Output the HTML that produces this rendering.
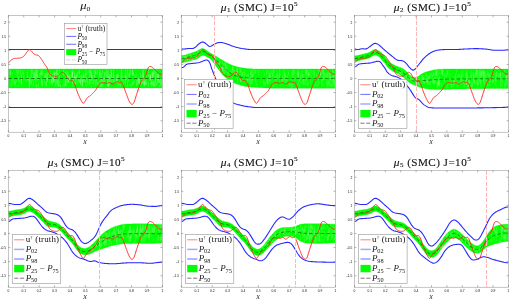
<!DOCTYPE html>
<html><head><meta charset="utf-8"><title>fig</title>
<style>
html,body{margin:0;padding:0;background:#fff;}
body{width:510px;height:301px;overflow:hidden;font-family:"Liberation Serif",serif;}
svg{display:block;will-change:transform;}
text{font-family:"Liberation Serif",serif;fill:#111;}
.tk{font-family:"Liberation Sans",sans-serif;font-size:3.3px;fill:#111;}
</style></head><body>
<svg width="510" height="301" viewBox="0 0 510 301">
<rect width="510" height="301" fill="#fff"/>

<clipPath id="cp0"><rect x="8.34" y="15.46" width="154.0" height="116.73999999999998"/></clipPath>
<g clip-path="url(#cp0)">
<path d="M8.34,69.01 L9.11,69.01 L9.88,69.01 L10.65,69.01 L11.42,69.01 L12.19,69.01 L12.96,69.01 L13.73,69.01 L14.50,69.01 L15.27,69.01 L16.04,69.01 L16.81,69.01 L17.58,69.01 L18.35,69.01 L19.12,69.01 L19.89,69.01 L20.66,69.01 L21.43,69.01 L22.20,69.01 L22.97,69.01 L23.74,69.01 L24.51,69.01 L25.28,69.01 L26.05,69.01 L26.82,69.01 L27.59,69.01 L28.36,69.01 L29.13,69.01 L29.90,69.01 L30.67,69.01 L31.44,69.01 L32.21,69.01 L32.98,69.01 L33.75,69.01 L34.52,69.01 L35.29,69.01 L36.06,69.01 L36.83,69.01 L37.60,69.01 L38.37,69.01 L39.14,69.01 L39.91,69.01 L40.68,69.01 L41.45,69.01 L42.22,69.01 L42.99,69.01 L43.76,69.01 L44.53,69.01 L45.30,69.01 L46.07,69.01 L46.84,69.01 L47.61,69.01 L48.38,69.01 L49.15,69.01 L49.92,69.01 L50.69,69.01 L51.46,69.01 L52.23,69.01 L53.00,69.01 L53.77,69.01 L54.54,69.01 L55.31,69.01 L56.08,69.01 L56.85,69.01 L57.62,69.01 L58.39,69.01 L59.16,69.01 L59.93,69.01 L60.70,69.01 L61.47,69.01 L62.24,69.01 L63.01,69.01 L63.78,69.01 L64.55,69.01 L65.32,69.01 L66.09,69.01 L66.86,69.01 L67.63,69.01 L68.40,69.01 L69.17,69.01 L69.94,69.01 L70.71,69.01 L71.48,69.01 L72.25,69.01 L73.02,69.01 L73.79,69.01 L74.56,69.01 L75.33,69.01 L76.10,69.01 L76.87,69.01 L77.64,69.01 L78.41,69.01 L79.18,69.01 L79.95,69.01 L80.72,69.01 L81.49,69.01 L82.26,69.01 L83.03,69.01 L83.80,69.01 L84.57,69.01 L85.34,69.01 L86.11,69.01 L86.88,69.01 L87.65,69.01 L88.42,69.01 L89.19,69.01 L89.96,69.01 L90.73,69.01 L91.50,69.01 L92.27,69.01 L93.04,69.01 L93.81,69.01 L94.58,69.01 L95.35,69.01 L96.12,69.01 L96.89,69.01 L97.66,69.01 L98.43,69.01 L99.20,69.01 L99.97,69.01 L100.74,69.01 L101.51,69.01 L102.28,69.01 L103.05,69.01 L103.82,69.01 L104.59,69.01 L105.36,69.01 L106.13,69.01 L106.90,69.01 L107.67,69.01 L108.44,69.01 L109.21,69.01 L109.98,69.01 L110.75,69.01 L111.52,69.01 L112.29,69.01 L113.06,69.01 L113.83,69.01 L114.60,69.01 L115.37,69.01 L116.14,69.01 L116.91,69.01 L117.68,69.01 L118.45,69.01 L119.22,69.01 L119.99,69.01 L120.76,69.01 L121.53,69.01 L122.30,69.01 L123.07,69.01 L123.84,69.01 L124.61,69.01 L125.38,69.01 L126.15,69.01 L126.92,69.01 L127.69,69.01 L128.46,69.01 L129.23,69.01 L130.00,69.01 L130.77,69.01 L131.54,69.01 L132.31,69.01 L133.08,69.01 L133.85,69.01 L134.62,69.01 L135.39,69.01 L136.16,69.01 L136.93,69.01 L137.70,69.01 L138.47,69.01 L139.24,69.01 L140.01,69.01 L140.78,69.01 L141.55,69.01 L142.32,69.01 L143.09,69.01 L143.86,69.01 L144.63,69.01 L145.40,69.01 L146.17,69.01 L146.94,69.01 L147.71,69.01 L148.48,69.01 L149.25,69.01 L150.02,69.01 L150.79,69.01 L151.56,69.01 L152.33,69.01 L153.10,69.01 L153.87,69.01 L154.64,69.01 L155.41,69.01 L156.18,69.01 L156.95,69.01 L157.72,69.01 L158.49,69.01 L159.26,69.01 L160.03,69.01 L160.80,69.01 L161.57,69.01 L162.34,69.01 L162.34,87.99 L161.57,87.99 L160.80,87.99 L160.03,87.99 L159.26,87.99 L158.49,87.99 L157.72,87.99 L156.95,87.99 L156.18,87.99 L155.41,87.99 L154.64,87.99 L153.87,87.99 L153.10,87.99 L152.33,87.99 L151.56,87.99 L150.79,87.99 L150.02,87.99 L149.25,87.99 L148.48,87.99 L147.71,87.99 L146.94,87.99 L146.17,87.99 L145.40,87.99 L144.63,87.99 L143.86,87.99 L143.09,87.99 L142.32,87.99 L141.55,87.99 L140.78,87.99 L140.01,87.99 L139.24,87.99 L138.47,87.99 L137.70,87.99 L136.93,87.99 L136.16,87.99 L135.39,87.99 L134.62,87.99 L133.85,87.99 L133.08,87.99 L132.31,87.99 L131.54,87.99 L130.77,87.99 L130.00,87.99 L129.23,87.99 L128.46,87.99 L127.69,87.99 L126.92,87.99 L126.15,87.99 L125.38,87.99 L124.61,87.99 L123.84,87.99 L123.07,87.99 L122.30,87.99 L121.53,87.99 L120.76,87.99 L119.99,87.99 L119.22,87.99 L118.45,87.99 L117.68,87.99 L116.91,87.99 L116.14,87.99 L115.37,87.99 L114.60,87.99 L113.83,87.99 L113.06,87.99 L112.29,87.99 L111.52,87.99 L110.75,87.99 L109.98,87.99 L109.21,87.99 L108.44,87.99 L107.67,87.99 L106.90,87.99 L106.13,87.99 L105.36,87.99 L104.59,87.99 L103.82,87.99 L103.05,87.99 L102.28,87.99 L101.51,87.99 L100.74,87.99 L99.97,87.99 L99.20,87.99 L98.43,87.99 L97.66,87.99 L96.89,87.99 L96.12,87.99 L95.35,87.99 L94.58,87.99 L93.81,87.99 L93.04,87.99 L92.27,87.99 L91.50,87.99 L90.73,87.99 L89.96,87.99 L89.19,87.99 L88.42,87.99 L87.65,87.99 L86.88,87.99 L86.11,87.99 L85.34,87.99 L84.57,87.99 L83.80,87.99 L83.03,87.99 L82.26,87.99 L81.49,87.99 L80.72,87.99 L79.95,87.99 L79.18,87.99 L78.41,87.99 L77.64,87.99 L76.87,87.99 L76.10,87.99 L75.33,87.99 L74.56,87.99 L73.79,87.99 L73.02,87.99 L72.25,87.99 L71.48,87.99 L70.71,87.99 L69.94,87.99 L69.17,87.99 L68.40,87.99 L67.63,87.99 L66.86,87.99 L66.09,87.99 L65.32,87.99 L64.55,87.99 L63.78,87.99 L63.01,87.99 L62.24,87.99 L61.47,87.99 L60.70,87.99 L59.93,87.99 L59.16,87.99 L58.39,87.99 L57.62,87.99 L56.85,87.99 L56.08,87.99 L55.31,87.99 L54.54,87.99 L53.77,87.99 L53.00,87.99 L52.23,87.99 L51.46,87.99 L50.69,87.99 L49.92,87.99 L49.15,87.99 L48.38,87.99 L47.61,87.99 L46.84,87.99 L46.07,87.99 L45.30,87.99 L44.53,87.99 L43.76,87.99 L42.99,87.99 L42.22,87.99 L41.45,87.99 L40.68,87.99 L39.91,87.99 L39.14,87.99 L38.37,87.99 L37.60,87.99 L36.83,87.99 L36.06,87.99 L35.29,87.99 L34.52,87.99 L33.75,87.99 L32.98,87.99 L32.21,87.99 L31.44,87.99 L30.67,87.99 L29.90,87.99 L29.13,87.99 L28.36,87.99 L27.59,87.99 L26.82,87.99 L26.05,87.99 L25.28,87.99 L24.51,87.99 L23.74,87.99 L22.97,87.99 L22.20,87.99 L21.43,87.99 L20.66,87.99 L19.89,87.99 L19.12,87.99 L18.35,87.99 L17.58,87.99 L16.81,87.99 L16.04,87.99 L15.27,87.99 L14.50,87.99 L13.73,87.99 L12.96,87.99 L12.19,87.99 L11.42,87.99 L10.65,87.99 L9.88,87.99 L9.11,87.99 L8.34,87.99 Z" fill="#00ff00" stroke="#00ee00" stroke-width="0.3"/>
<path d="M21.53,83.96V78.34 M97.99,86.04V82.31 M82.11,85.08V79.80 M25.85,81.70V77.54 M74.66,78.84V73.55 M155.61,83.27V78.43 M115.56,83.14V81.62 M158.25,83.06V79.93 M145.66,78.87V74.94 M127.42,86.97V81.83 M65.97,86.09V81.19 M151.79,84.39V79.64 M54.26,76.58V71.36 M42.02,75.29V70.41 M113.49,75.44V71.72 M125.18,74.58V72.54 M139.20,81.66V77.69 M30.88,77.21V74.20 M142.50,83.39V79.00 M69.89,78.46V75.94 M36.10,76.51V71.13 M95.65,73.96V71.39 M139.38,84.95V78.49 M104.39,78.55V72.06 M129.54,75.88V74.08 M65.21,86.18V83.67 M41.28,74.87V72.71 M54.04,80.22V74.35 M156.99,77.07V74.46 M92.27,77.10V75.32 M113.04,82.04V77.50 M111.45,77.64V73.44 M93.77,84.52V80.47 M27.65,80.39V76.13 M127.55,81.67V80.05 M89.61,84.42V79.10 M68.20,81.86V75.68 M68.86,82.32V79.02 M82.38,86.05V81.74 M150.24,79.19V73.86 M154.20,75.11V69.79 M133.57,75.44V72.62 M82.56,82.41V79.55 M96.36,82.77V78.09 M98.03,85.89V82.11 M68.38,77.09V75.12 M34.36,79.93V76.34 M110.80,82.55V80.03 M151.84,83.85V81.58 M51.44,82.45V79.78 M90.93,73.73V71.57 M72.28,77.66V71.61 M162.31,85.32V81.05 M144.04,86.64V82.11 M35.12,76.20V69.88 M91.24,87.29V85.44 M72.36,75.04V72.31 M111.39,81.50V78.62 M116.74,82.91V79.49 M126.20,80.18V74.65 M87.85,85.08V81.29 M142.75,79.16V72.70 M8.52,82.44V76.99 M114.01,79.22V74.30 M143.31,77.43V73.11 M94.96,77.68V74.50 M111.43,78.43V72.89 M82.29,87.02V82.75 M140.42,78.07V73.25 M68.55,82.21V77.01 M20.32,74.76V69.58 M156.56,85.44V83.33 M146.02,81.56V78.65 M67.20,77.78V75.44 M83.36,77.77V72.56 M10.23,75.57V71.83 M75.45,79.20V76.25 M144.90,84.32V80.02 M34.22,78.42V72.28 M144.27,85.45V80.73 M145.79,84.49V80.85 M118.17,76.63V72.81 M106.69,77.64V74.32 M108.76,78.98V73.89 M87.13,82.50V78.76 M150.40,84.68V82.40 M10.21,74.97V69.58 M44.76,83.53V81.00 M100.77,80.33V74.61 M40.63,74.59V70.70 M132.75,75.70V69.58 M85.16,78.51V74.12 M37.65,80.09V73.83 M148.31,87.10V82.19 M58.66,85.43V83.20 M130.76,73.40V69.58 M67.40,79.97V74.20 M123.34,86.48V83.87 M141.97,80.21V75.33 M128.08,78.12V72.84 M92.37,84.07V81.59 M161.34,87.26V82.21 M143.96,84.04V82.27 M69.82,82.60V78.71 M74.16,73.66V71.53 M153.72,86.75V80.42 M59.62,76.80V75.26 M77.22,77.52V72.78 M132.52,85.18V81.60 M102.85,87.00V81.20 M72.44,83.82V81.16 M108.58,86.72V83.95 M55.14,83.64V78.38 M99.58,74.21V69.58 M53.69,82.68V80.53 M45.69,78.58V73.32 M53.91,82.39V76.76 M155.95,86.18V84.30 M125.26,80.18V76.48 M105.91,76.31V74.43 M156.46,73.42V69.77 M80.65,83.44V78.91 M39.93,79.61V73.46 M86.29,75.33V72.90 M144.40,85.62V83.01 M119.26,83.01V80.88 M21.71,75.83V74.21 M17.02,73.60V69.58 M65.39,84.61V78.65 M129.64,77.65V73.42 M89.23,73.13V69.58 M21.28,86.32V81.76 M121.17,78.24V72.92 M53.65,82.00V79.12 M65.72,83.52V77.73 M31.11,84.38V79.20 M69.62,82.43V75.92 M145.99,84.22V81.91 M84.16,79.03V75.74 M99.42,77.51V71.82 M45.63,77.99V76.18 M18.32,86.61V84.49 M128.73,82.00V77.96 M77.78,84.39V82.64 M36.34,74.88V71.63 M73.10,83.55V78.24 M116.50,81.81V77.70 M69.30,79.04V74.48 M97.27,74.25V69.58 M16.26,81.87V80.14 M66.04,75.69V70.69 M95.71,86.16V80.48 M102.66,83.00V77.46 M14.36,84.68V79.12 M15.41,85.49V81.40 M117.70,78.81V77.10 M50.66,77.10V73.80 M38.25,87.38V84.52 M151.68,86.69V82.34 M148.43,77.18V74.22 M108.22,85.67V81.60 M48.88,74.62V69.58 M125.66,81.93V76.33 M159.24,82.02V77.81 M33.36,85.83V80.63 M17.62,78.63V76.53 M111.37,76.41V70.07 M68.39,81.73V78.16 M117.03,75.91V73.80 M58.35,86.61V83.89 M121.34,73.73V69.58 M18.84,81.55V75.56 M86.08,82.31V76.79 M141.45,85.29V81.12 M31.01,84.78V80.55 M47.27,75.66V72.27 M36.26,78.22V75.36 M18.56,72.82V70.36 M28.56,80.40V78.86 M129.90,86.32V84.60 M157.11,79.87V73.59 M146.49,76.69V75.02 M107.48,86.47V84.89 M138.38,82.94V77.59 M89.93,75.96V71.17 M158.15,80.48V74.59 M134.90,78.85V74.73 M74.59,77.98V75.46 M75.98,77.96V74.87 M41.71,85.86V80.22 M143.20,75.23V70.10 M101.45,86.57V80.54 M81.26,77.39V75.25 M123.19,85.27V78.84 M117.78,79.67V74.80 M43.73,80.13V78.17 M51.39,83.25V80.88 M72.42,86.49V84.84 M59.57,72.93V69.58 M74.21,84.50V82.36 M72.48,77.87V72.12 M79.56,74.97V69.58 M139.18,82.57V78.66 M33.02,78.88V77.14 M80.64,85.03V81.06 M36.26,87.40V83.72 M74.29,79.51V77.36 M85.07,83.04V81.10 M71.51,77.68V74.61 M118.21,75.89V74.30 M41.54,83.27V78.72 M83.33,79.12V77.22 M52.56,85.07V79.73 M113.60,82.96V76.96 M29.23,87.16V83.73 M111.28,73.59V69.58 M29.36,78.69V77.09 M134.32,82.71V80.67 M31.33,75.31V69.58 M36.76,72.84V69.58 M59.06,86.67V84.38 M75.55,84.41V81.97 M50.34,74.60V72.89 M150.40,80.85V75.56 M87.18,73.61V71.16 M47.66,79.99V75.88 M59.32,82.96V80.98 M85.68,75.28V69.58 M72.20,73.11V69.58 M57.54,85.71V79.92 M153.21,77.93V71.48 M81.88,79.76V77.87 M65.32,73.91V71.86 M29.51,86.93V82.88 M101.27,79.64V73.62 M113.15,78.11V73.51 M86.26,86.33V84.31 M107.53,84.32V80.68 M108.03,78.66V75.89 M49.50,85.36V80.45 M119.16,85.49V82.59 M31.24,78.47V75.44 M142.29,83.53V78.71 M106.29,73.66V69.58 M152.02,78.88V77.35 M58.61,76.60V73.33 M109.67,85.70V80.87 M67.65,73.60V71.71 M63.87,76.21V72.68 M79.56,82.53V80.51 M57.64,74.61V69.58 M56.04,77.65V72.07 M131.07,86.61V84.25 M155.60,83.33V77.82 M105.42,74.68V72.76 M152.17,74.62V71.88 M117.82,87.33V81.38 M72.18,76.60V71.01 M12.44,74.53V72.47 M32.19,80.75V77.93 M108.14,84.63V79.92 M125.63,73.34V69.78 M52.38,78.98V74.12 M150.49,78.86V75.10 M54.17,76.82V72.04 M19.38,83.04V80.67 M84.64,81.85V79.52 M89.95,77.79V74.52 M136.86,85.93V84.12 M117.27,79.19V73.82 M152.29,79.95V74.25 M108.12,79.91V75.81 M161.10,82.37V78.67 M81.41,78.07V76.24 M108.70,86.86V83.40 M76.46,79.15V74.70 M101.29,87.06V83.86 M122.01,81.32V75.57 M92.05,79.10V74.12 M159.71,87.36V85.23 M22.01,84.40V82.78 M160.45,85.22V81.28 M144.15,80.49V77.71 M53.32,81.25V78.16 M80.83,81.38V79.45 M142.95,73.26V69.58 M22.88,74.14V70.76 M67.10,83.69V77.41 M114.91,83.02V79.61 M73.45,81.86V76.90 M154.56,86.79V80.93 M139.12,84.22V77.69 M143.26,76.86V74.79 M77.23,76.35V72.00 M17.39,76.26V72.64 M42.29,82.34V80.29 M63.96,87.19V80.56 M29.39,82.46V79.41 M79.11,82.46V76.40 M37.17,72.85V69.58 M159.69,82.53V80.60 M136.69,85.10V79.78 M143.93,84.24V81.10 M95.22,74.72V69.58 M83.26,79.14V73.51 M32.22,73.81V69.58 M44.35,78.23V72.96 M108.09,86.36V84.53 M42.68,85.89V81.89 M121.89,79.00V72.84 M83.86,80.85V78.68 M155.20,77.59V71.05 M152.28,86.17V81.56 M83.38,76.40V74.65 M109.86,78.49V75.06 M27.69,77.40V75.63 M60.33,87.02V83.92 M46.74,78.37V73.35 M117.37,81.42V76.04 M110.05,79.61V74.10 M157.98,80.40V73.95 M104.34,81.77V77.81 M109.25,82.81V76.56 M67.76,78.29V72.37 M136.09,77.58V72.40 M124.91,78.84V75.11 M146.71,85.07V82.90 M56.48,83.99V77.48 M90.05,74.49V70.15 M41.78,74.63V69.58 M27.40,76.22V71.79 M35.96,82.49V77.21 M37.13,78.55V74.30 M90.07,84.76V79.01 M91.57,77.35V72.62 M57.63,76.65V73.10 M150.40,80.73V78.21 M79.92,81.66V75.27 M55.77,74.42V72.77 M29.03,83.11V77.80 M101.05,81.33V77.70 M137.92,84.25V78.69 M65.80,77.30V71.60 M74.48,84.57V81.82 M46.34,86.02V82.31 M107.58,81.76V75.34 M153.02,76.07V70.49 M56.55,76.34V74.55 M11.38,86.42V83.28 M120.31,86.96V83.48 M100.11,75.05V70.65 M46.15,86.16V82.04 M132.51,75.26V70.57 M36.06,86.32V84.56 M49.89,79.62V77.33 M103.82,82.82V77.26 M90.04,76.21V73.37 M96.07,74.46V72.86 M152.03,78.78V72.15 M52.15,80.27V75.25 M99.79,78.34V72.40 M33.34,76.94V73.14 M148.88,73.56V69.77 M63.44,74.26V69.58 M127.39,74.21V69.58 M82.99,82.16V80.35 M75.87,84.24V79.01 M102.53,73.74V69.58 M46.95,81.95V77.87 M90.97,73.67V69.58 M58.54,83.40V78.93 M21.49,80.72V74.61 M149.69,79.23V74.92 M59.41,78.82V74.96 M108.27,73.49V69.58 M29.51,84.90V79.85 M158.41,78.67V72.86 M51.24,83.87V77.31 M143.45,80.85V75.15 M107.31,76.01V71.48 M113.54,73.65V69.92 M121.77,73.39V71.66 M47.22,82.19V77.73 M78.44,73.65V71.15 M55.44,86.30V83.87 M100.00,86.66V80.32 M125.29,86.17V80.61 M27.22,79.86V77.25 M34.90,79.63V73.58 M21.28,84.38V80.37 M155.48,82.12V76.14 M91.75,80.81V75.39 M38.44,79.72V78.03 M89.03,72.86V70.98 M23.60,79.05V72.75 M94.02,73.36V70.21 M161.04,84.32V78.84 M60.00,75.22V73.52 M56.43,73.92V69.58 M83.03,81.90V75.54 M38.40,84.63V82.79 M111.44,74.06V71.88 M125.90,76.22V73.66 M88.51,79.05V77.24 M153.88,85.48V83.19 M116.63,80.10V74.56 M107.57,86.03V82.20 M159.11,82.94V80.48 M144.93,86.18V82.57 M161.59,74.84V72.64 M21.69,80.37V75.34 M133.27,84.51V80.81 M77.99,82.97V77.96 M91.34,81.34V75.88 M54.28,78.62V73.10 M60.60,86.95V85.43 M129.90,75.53V70.36 M12.03,83.67V77.29 M94.36,81.14V74.64 M157.52,83.76V78.55" stroke="#d0ffd0" stroke-width="0.4" fill="none" opacity="0.7"/>
<path d="M8.34,78.50 L9.11,78.50 L9.88,78.50 L10.65,78.50 L11.42,78.50 L12.19,78.50 L12.96,78.50 L13.73,78.50 L14.50,78.50 L15.27,78.50 L16.04,78.50 L16.81,78.50 L17.58,78.50 L18.35,78.50 L19.12,78.50 L19.89,78.50 L20.66,78.50 L21.43,78.50 L22.20,78.50 L22.97,78.50 L23.74,78.50 L24.51,78.50 L25.28,78.50 L26.05,78.50 L26.82,78.50 L27.59,78.50 L28.36,78.50 L29.13,78.50 L29.90,78.50 L30.67,78.50 L31.44,78.50 L32.21,78.50 L32.98,78.50 L33.75,78.50 L34.52,78.50 L35.29,78.50 L36.06,78.50 L36.83,78.50 L37.60,78.50 L38.37,78.50 L39.14,78.50 L39.91,78.50 L40.68,78.50 L41.45,78.50 L42.22,78.50 L42.99,78.50 L43.76,78.50 L44.53,78.50 L45.30,78.50 L46.07,78.50 L46.84,78.50 L47.61,78.50 L48.38,78.50 L49.15,78.50 L49.92,78.50 L50.69,78.50 L51.46,78.50 L52.23,78.50 L53.00,78.50 L53.77,78.50 L54.54,78.50 L55.31,78.50 L56.08,78.50 L56.85,78.50 L57.62,78.50 L58.39,78.50 L59.16,78.50 L59.93,78.50 L60.70,78.50 L61.47,78.50 L62.24,78.50 L63.01,78.50 L63.78,78.50 L64.55,78.50 L65.32,78.50 L66.09,78.50 L66.86,78.50 L67.63,78.50 L68.40,78.50 L69.17,78.50 L69.94,78.50 L70.71,78.50 L71.48,78.50 L72.25,78.50 L73.02,78.50 L73.79,78.50 L74.56,78.50 L75.33,78.50 L76.10,78.50 L76.87,78.50 L77.64,78.50 L78.41,78.50 L79.18,78.50 L79.95,78.50 L80.72,78.50 L81.49,78.50 L82.26,78.50 L83.03,78.50 L83.80,78.50 L84.57,78.50 L85.34,78.50 L86.11,78.50 L86.88,78.50 L87.65,78.50 L88.42,78.50 L89.19,78.50 L89.96,78.50 L90.73,78.50 L91.50,78.50 L92.27,78.50 L93.04,78.50 L93.81,78.50 L94.58,78.50 L95.35,78.50 L96.12,78.50 L96.89,78.50 L97.66,78.50 L98.43,78.50 L99.20,78.50 L99.97,78.50 L100.74,78.50 L101.51,78.50 L102.28,78.50 L103.05,78.50 L103.82,78.50 L104.59,78.50 L105.36,78.50 L106.13,78.50 L106.90,78.50 L107.67,78.50 L108.44,78.50 L109.21,78.50 L109.98,78.50 L110.75,78.50 L111.52,78.50 L112.29,78.50 L113.06,78.50 L113.83,78.50 L114.60,78.50 L115.37,78.50 L116.14,78.50 L116.91,78.50 L117.68,78.50 L118.45,78.50 L119.22,78.50 L119.99,78.50 L120.76,78.50 L121.53,78.50 L122.30,78.50 L123.07,78.50 L123.84,78.50 L124.61,78.50 L125.38,78.50 L126.15,78.50 L126.92,78.50 L127.69,78.50 L128.46,78.50 L129.23,78.50 L130.00,78.50 L130.77,78.50 L131.54,78.50 L132.31,78.50 L133.08,78.50 L133.85,78.50 L134.62,78.50 L135.39,78.50 L136.16,78.50 L136.93,78.50 L137.70,78.50 L138.47,78.50 L139.24,78.50 L140.01,78.50 L140.78,78.50 L141.55,78.50 L142.32,78.50 L143.09,78.50 L143.86,78.50 L144.63,78.50 L145.40,78.50 L146.17,78.50 L146.94,78.50 L147.71,78.50 L148.48,78.50 L149.25,78.50 L150.02,78.50 L150.79,78.50 L151.56,78.50 L152.33,78.50 L153.10,78.50 L153.87,78.50 L154.64,78.50 L155.41,78.50 L156.18,78.50 L156.95,78.50 L157.72,78.50 L158.49,78.50 L159.26,78.50 L160.03,78.50 L160.80,78.50 L161.57,78.50 L162.34,78.50" fill="none" stroke="#000" stroke-width="0.55" stroke-dasharray="3.5,2.2"/>
<path d="M8.34,107.49 L9.11,107.49 L9.88,107.49 L10.65,107.49 L11.42,107.49 L12.19,107.49 L12.96,107.49 L13.73,107.49 L14.50,107.49 L15.27,107.49 L16.04,107.49 L16.81,107.49 L17.58,107.49 L18.35,107.49 L19.12,107.49 L19.89,107.49 L20.66,107.49 L21.43,107.49 L22.20,107.49 L22.97,107.49 L23.74,107.49 L24.51,107.49 L25.28,107.49 L26.05,107.49 L26.82,107.49 L27.59,107.49 L28.36,107.49 L29.13,107.49 L29.90,107.49 L30.67,107.49 L31.44,107.49 L32.21,107.49 L32.98,107.49 L33.75,107.49 L34.52,107.49 L35.29,107.49 L36.06,107.49 L36.83,107.49 L37.60,107.49 L38.37,107.49 L39.14,107.49 L39.91,107.49 L40.68,107.49 L41.45,107.49 L42.22,107.49 L42.99,107.49 L43.76,107.49 L44.53,107.49 L45.30,107.49 L46.07,107.49 L46.84,107.49 L47.61,107.49 L48.38,107.49 L49.15,107.49 L49.92,107.49 L50.69,107.49 L51.46,107.49 L52.23,107.49 L53.00,107.49 L53.77,107.49 L54.54,107.49 L55.31,107.49 L56.08,107.49 L56.85,107.49 L57.62,107.49 L58.39,107.49 L59.16,107.49 L59.93,107.49 L60.70,107.49 L61.47,107.49 L62.24,107.49 L63.01,107.49 L63.78,107.49 L64.55,107.49 L65.32,107.49 L66.09,107.49 L66.86,107.49 L67.63,107.49 L68.40,107.49 L69.17,107.49 L69.94,107.49 L70.71,107.49 L71.48,107.49 L72.25,107.49 L73.02,107.49 L73.79,107.49 L74.56,107.49 L75.33,107.49 L76.10,107.49 L76.87,107.49 L77.64,107.49 L78.41,107.49 L79.18,107.49 L79.95,107.49 L80.72,107.49 L81.49,107.49 L82.26,107.49 L83.03,107.49 L83.80,107.49 L84.57,107.49 L85.34,107.49 L86.11,107.49 L86.88,107.49 L87.65,107.49 L88.42,107.49 L89.19,107.49 L89.96,107.49 L90.73,107.49 L91.50,107.49 L92.27,107.49 L93.04,107.49 L93.81,107.49 L94.58,107.49 L95.35,107.49 L96.12,107.49 L96.89,107.49 L97.66,107.49 L98.43,107.49 L99.20,107.49 L99.97,107.49 L100.74,107.49 L101.51,107.49 L102.28,107.49 L103.05,107.49 L103.82,107.49 L104.59,107.49 L105.36,107.49 L106.13,107.49 L106.90,107.49 L107.67,107.49 L108.44,107.49 L109.21,107.49 L109.98,107.49 L110.75,107.49 L111.52,107.49 L112.29,107.49 L113.06,107.49 L113.83,107.49 L114.60,107.49 L115.37,107.49 L116.14,107.49 L116.91,107.49 L117.68,107.49 L118.45,107.49 L119.22,107.49 L119.99,107.49 L120.76,107.49 L121.53,107.49 L122.30,107.49 L123.07,107.49 L123.84,107.49 L124.61,107.49 L125.38,107.49 L126.15,107.49 L126.92,107.49 L127.69,107.49 L128.46,107.49 L129.23,107.49 L130.00,107.49 L130.77,107.49 L131.54,107.49 L132.31,107.49 L133.08,107.49 L133.85,107.49 L134.62,107.49 L135.39,107.49 L136.16,107.49 L136.93,107.49 L137.70,107.49 L138.47,107.49 L139.24,107.49 L140.01,107.49 L140.78,107.49 L141.55,107.49 L142.32,107.49 L143.09,107.49 L143.86,107.49 L144.63,107.49 L145.40,107.49 L146.17,107.49 L146.94,107.49 L147.71,107.49 L148.48,107.49 L149.25,107.49 L150.02,107.49 L150.79,107.49 L151.56,107.49 L152.33,107.49 L153.10,107.49 L153.87,107.49 L154.64,107.49 L155.41,107.49 L156.18,107.49 L156.95,107.49 L157.72,107.49 L158.49,107.49 L159.26,107.49 L160.03,107.49 L160.80,107.49 L161.57,107.49 L162.34,107.49" fill="none" stroke="#2626ff" stroke-width="1.08" stroke-linejoin="round"/>
<path d="M8.34,49.51 L9.11,49.51 L9.88,49.51 L10.65,49.51 L11.42,49.51 L12.19,49.51 L12.96,49.51 L13.73,49.51 L14.50,49.51 L15.27,49.51 L16.04,49.51 L16.81,49.51 L17.58,49.51 L18.35,49.51 L19.12,49.51 L19.89,49.51 L20.66,49.51 L21.43,49.51 L22.20,49.51 L22.97,49.51 L23.74,49.51 L24.51,49.51 L25.28,49.51 L26.05,49.51 L26.82,49.51 L27.59,49.51 L28.36,49.51 L29.13,49.51 L29.90,49.51 L30.67,49.51 L31.44,49.51 L32.21,49.51 L32.98,49.51 L33.75,49.51 L34.52,49.51 L35.29,49.51 L36.06,49.51 L36.83,49.51 L37.60,49.51 L38.37,49.51 L39.14,49.51 L39.91,49.51 L40.68,49.51 L41.45,49.51 L42.22,49.51 L42.99,49.51 L43.76,49.51 L44.53,49.51 L45.30,49.51 L46.07,49.51 L46.84,49.51 L47.61,49.51 L48.38,49.51 L49.15,49.51 L49.92,49.51 L50.69,49.51 L51.46,49.51 L52.23,49.51 L53.00,49.51 L53.77,49.51 L54.54,49.51 L55.31,49.51 L56.08,49.51 L56.85,49.51 L57.62,49.51 L58.39,49.51 L59.16,49.51 L59.93,49.51 L60.70,49.51 L61.47,49.51 L62.24,49.51 L63.01,49.51 L63.78,49.51 L64.55,49.51 L65.32,49.51 L66.09,49.51 L66.86,49.51 L67.63,49.51 L68.40,49.51 L69.17,49.51 L69.94,49.51 L70.71,49.51 L71.48,49.51 L72.25,49.51 L73.02,49.51 L73.79,49.51 L74.56,49.51 L75.33,49.51 L76.10,49.51 L76.87,49.51 L77.64,49.51 L78.41,49.51 L79.18,49.51 L79.95,49.51 L80.72,49.51 L81.49,49.51 L82.26,49.51 L83.03,49.51 L83.80,49.51 L84.57,49.51 L85.34,49.51 L86.11,49.51 L86.88,49.51 L87.65,49.51 L88.42,49.51 L89.19,49.51 L89.96,49.51 L90.73,49.51 L91.50,49.51 L92.27,49.51 L93.04,49.51 L93.81,49.51 L94.58,49.51 L95.35,49.51 L96.12,49.51 L96.89,49.51 L97.66,49.51 L98.43,49.51 L99.20,49.51 L99.97,49.51 L100.74,49.51 L101.51,49.51 L102.28,49.51 L103.05,49.51 L103.82,49.51 L104.59,49.51 L105.36,49.51 L106.13,49.51 L106.90,49.51 L107.67,49.51 L108.44,49.51 L109.21,49.51 L109.98,49.51 L110.75,49.51 L111.52,49.51 L112.29,49.51 L113.06,49.51 L113.83,49.51 L114.60,49.51 L115.37,49.51 L116.14,49.51 L116.91,49.51 L117.68,49.51 L118.45,49.51 L119.22,49.51 L119.99,49.51 L120.76,49.51 L121.53,49.51 L122.30,49.51 L123.07,49.51 L123.84,49.51 L124.61,49.51 L125.38,49.51 L126.15,49.51 L126.92,49.51 L127.69,49.51 L128.46,49.51 L129.23,49.51 L130.00,49.51 L130.77,49.51 L131.54,49.51 L132.31,49.51 L133.08,49.51 L133.85,49.51 L134.62,49.51 L135.39,49.51 L136.16,49.51 L136.93,49.51 L137.70,49.51 L138.47,49.51 L139.24,49.51 L140.01,49.51 L140.78,49.51 L141.55,49.51 L142.32,49.51 L143.09,49.51 L143.86,49.51 L144.63,49.51 L145.40,49.51 L146.17,49.51 L146.94,49.51 L147.71,49.51 L148.48,49.51 L149.25,49.51 L150.02,49.51 L150.79,49.51 L151.56,49.51 L152.33,49.51 L153.10,49.51 L153.87,49.51 L154.64,49.51 L155.41,49.51 L156.18,49.51 L156.95,49.51 L157.72,49.51 L158.49,49.51 L159.26,49.51 L160.03,49.51 L160.80,49.51 L161.57,49.51 L162.34,49.51" fill="none" stroke="#2626ff" stroke-width="1.08" stroke-linejoin="round"/>
<path d="M8.34,63.17 L8.72,62.81 L9.11,62.34 L9.49,61.85 L9.88,61.38 L10.27,60.94 L10.65,60.54 L11.04,60.18 L11.42,59.86 L11.80,59.59 L12.19,59.35 L12.57,59.14 L12.96,58.95 L13.34,58.78 L13.73,58.64 L14.11,58.54 L14.50,58.47 L14.89,58.42 L15.27,58.39 L15.66,58.36 L16.04,58.35 L16.42,58.33 L16.81,58.31 L17.20,58.29 L17.58,58.27 L17.96,58.24 L18.35,58.20 L18.73,58.16 L19.12,58.11 L19.50,58.05 L19.89,57.98 L20.27,57.90 L20.66,57.81 L21.05,57.71 L21.43,57.60 L21.82,57.47 L22.20,57.31 L22.59,57.10 L22.97,56.85 L23.36,56.54 L23.74,56.20 L24.12,55.82 L24.51,55.42 L24.89,54.97 L25.28,54.48 L25.66,53.92 L26.05,53.33 L26.44,52.74 L26.82,52.17 L27.20,51.64 L27.59,51.14 L27.98,50.66 L28.36,50.23 L28.75,49.89 L29.13,49.68 L29.52,49.62 L29.90,49.71 L30.29,49.93 L30.67,50.24 L31.05,50.61 L31.44,51.00 L31.82,51.44 L32.21,51.92 L32.59,52.43 L32.98,52.93 L33.37,53.38 L33.75,53.74 L34.14,54.03 L34.52,54.25 L34.91,54.42 L35.29,54.58 L35.67,54.71 L36.06,54.84 L36.45,54.95 L36.83,55.05 L37.22,55.14 L37.60,55.23 L37.98,55.35 L38.37,55.51 L38.76,55.76 L39.14,56.10 L39.53,56.51 L39.91,56.98 L40.30,57.49 L40.68,58.04 L41.06,58.62 L41.45,59.22 L41.83,59.83 L42.22,60.44 L42.61,61.06 L42.99,61.69 L43.38,62.31 L43.76,62.93 L44.14,63.52 L44.53,64.09 L44.92,64.64 L45.30,65.16 L45.69,65.68 L46.07,66.21 L46.45,66.78 L46.84,67.43 L47.22,68.17 L47.61,69.01 L48.00,69.94 L48.38,70.90 L48.77,71.83 L49.15,72.68 L49.53,73.40 L49.92,73.96 L50.31,74.38 L50.69,74.69 L51.08,74.95 L51.46,75.18 L51.84,75.40 L52.23,75.62 L52.62,75.81 L53.00,75.96 L53.38,76.07 L53.77,76.15 L54.16,76.21 L54.54,76.26 L54.92,76.29 L55.31,76.31 L55.69,76.32 L56.08,76.32 L56.47,76.31 L56.85,76.27 L57.23,76.19 L57.62,76.02 L58.00,75.79 L58.39,75.51 L58.78,75.20 L59.16,74.88 L59.55,74.55 L59.93,74.20 L60.31,73.85 L60.70,73.49 L61.09,73.14 L61.47,72.81 L61.86,72.53 L62.24,72.34 L62.62,72.28 L63.01,72.34 L63.39,72.50 L63.78,72.74 L64.16,73.05 L64.55,73.46 L64.94,74.00 L65.32,74.63 L65.70,75.31 L66.09,75.97 L66.47,76.60 L66.86,77.20 L67.25,77.78 L67.63,78.34 L68.02,78.89 L68.40,79.42 L68.78,79.94 L69.17,80.41 L69.56,80.75 L69.94,80.93 L70.33,80.94 L70.71,80.83 L71.09,80.66 L71.48,80.51 L71.87,80.46 L72.25,80.55 L72.64,80.81 L73.02,81.20 L73.41,81.72 L73.79,82.36 L74.17,83.14 L74.56,84.06 L74.95,85.08 L75.33,86.17 L75.72,87.29 L76.10,88.44 L76.48,89.60 L76.87,90.74 L77.26,91.82 L77.64,92.86 L78.03,93.84 L78.41,94.78 L78.80,95.68 L79.18,96.55 L79.57,97.38 L79.95,98.18 L80.34,98.96 L80.72,99.70 L81.11,100.42 L81.49,101.13 L81.88,101.84 L82.26,102.49 L82.64,103.02 L83.03,103.32 L83.42,103.33 L83.80,103.09 L84.19,102.65 L84.57,102.10 L84.95,101.51 L85.34,100.90 L85.73,100.29 L86.11,99.65 L86.50,99.03 L86.88,98.44 L87.27,97.94 L87.65,97.52 L88.03,97.19 L88.42,96.92 L88.80,96.68 L89.19,96.44 L89.58,96.20 L89.96,95.92 L90.34,95.61 L90.73,95.27 L91.11,94.89 L91.50,94.50 L91.89,94.10 L92.27,93.70 L92.66,93.31 L93.04,92.93 L93.42,92.57 L93.81,92.20 L94.20,91.83 L94.58,91.43 L94.97,91.00 L95.35,90.52 L95.73,89.97 L96.12,89.37 L96.51,88.72 L96.89,88.04 L97.28,87.37 L97.66,86.70 L98.05,86.05 L98.43,85.41 L98.82,84.81 L99.20,84.29 L99.59,83.86 L99.97,83.53 L100.36,83.26 L100.74,83.04 L101.13,82.85 L101.51,82.72 L101.90,82.63 L102.28,82.60 L102.67,82.60 L103.05,82.64 L103.44,82.69 L103.82,82.75 L104.21,82.82 L104.59,82.88 L104.98,82.94 L105.36,83.00 L105.75,83.07 L106.13,83.13 L106.52,83.18 L106.90,83.21 L107.28,83.21 L107.67,83.16 L108.05,83.06 L108.44,82.91 L108.83,82.75 L109.21,82.60 L109.59,82.51 L109.98,82.52 L110.36,82.64 L110.75,82.90 L111.14,83.23 L111.52,83.59 L111.91,83.90 L112.29,84.09 L112.67,84.15 L113.06,84.06 L113.45,83.86 L113.83,83.58 L114.22,83.27 L114.60,82.97 L114.98,82.68 L115.37,82.43 L115.76,82.20 L116.14,81.98 L116.53,81.80 L116.91,81.67 L117.30,81.65 L117.68,81.74 L118.07,81.96 L118.45,82.24 L118.84,82.52 L119.22,82.70 L119.61,82.74 L119.99,82.63 L120.38,82.44 L120.76,82.28 L121.15,82.22 L121.53,82.35 L121.92,82.69 L122.30,83.24 L122.69,83.96 L123.07,84.84 L123.46,85.82 L123.84,86.89 L124.23,88.01 L124.61,89.14 L125.00,90.26 L125.38,91.33 L125.77,92.38 L126.15,93.41 L126.54,94.46 L126.92,95.52 L127.30,96.58 L127.69,97.61 L128.07,98.58 L128.46,99.50 L128.84,100.38 L129.23,101.20 L129.61,101.95 L130.00,102.60 L130.38,103.14 L130.77,103.58 L131.16,103.92 L131.54,104.18 L131.92,104.33 L132.31,104.31 L132.69,104.13 L133.08,103.78 L133.47,103.30 L133.85,102.68 L134.23,101.88 L134.62,100.87 L135.00,99.69 L135.39,98.40 L135.78,97.10 L136.16,95.84 L136.55,94.62 L136.93,93.44 L137.31,92.26 L137.70,91.10 L138.09,89.96 L138.47,88.82 L138.86,87.69 L139.24,86.55 L139.62,85.40 L140.01,84.29 L140.40,83.25 L140.78,82.33 L141.17,81.57 L141.55,80.97 L141.94,80.49 L142.32,80.09 L142.71,79.73 L143.09,79.39 L143.48,79.01 L143.86,78.60 L144.25,78.14 L144.63,77.62 L145.02,77.02 L145.40,76.29 L145.79,75.35 L146.17,74.18 L146.56,72.83 L146.94,71.47 L147.32,70.21 L147.71,69.10 L148.09,68.14 L148.48,67.38 L148.87,66.88 L149.25,66.62 L149.63,66.53 L150.02,66.51 L150.41,66.51 L150.79,66.55 L151.18,66.63 L151.56,66.79 L151.94,67.02 L152.33,67.31 L152.72,67.63 L153.10,67.96 L153.49,68.30 L153.87,68.65 L154.25,69.02 L154.64,69.40 L155.03,69.80 L155.41,70.21 L155.80,70.61 L156.18,71.02 L156.56,71.45 L156.95,71.88 L157.34,72.30 L157.72,72.69 L158.11,73.02 L158.49,73.30 L158.88,73.53 L159.26,73.72 L159.65,73.89 L160.03,74.03 L160.42,74.13 L160.80,74.18 L161.19,74.13 L161.57,73.94 L161.96,73.66 L162.34,73.39" fill="none" stroke="#ff2c20" stroke-width="1.0" stroke-linejoin="round"/>
</g>
<rect x="8.34" y="15.46" width="154.0" height="116.73999999999998" fill="none" stroke="#8a8a8a" stroke-width="0.5"/>
<path d="M8.34,132.2v-1.9M8.34,15.46v1.9 M23.74,132.2v-1.9M23.74,15.46v1.9 M39.14,132.2v-1.9M39.14,15.46v1.9 M54.54,132.2v-1.9M54.54,15.46v1.9 M69.94,132.2v-1.9M69.94,15.46v1.9 M85.34,132.2v-1.9M85.34,15.46v1.9 M100.74,132.2v-1.9M100.74,15.46v1.9 M116.14,132.2v-1.9M116.14,15.46v1.9 M131.54,132.2v-1.9M131.54,15.46v1.9 M146.94,132.2v-1.9M146.94,15.46v1.9 M162.34,132.2v-1.9M162.34,15.46v1.9 M8.34,120.72h1.9M162.34,120.72h-1.9 M8.34,106.65h1.9M162.34,106.65h-1.9 M8.34,92.58h1.9M162.34,92.58h-1.9 M8.34,78.50h1.9M162.34,78.50h-1.9 M8.34,64.42h1.9M162.34,64.42h-1.9 M8.34,50.35h1.9M162.34,50.35h-1.9 M8.34,36.28h1.9M162.34,36.28h-1.9 M8.34,22.20h1.9M162.34,22.20h-1.9" stroke="#666" stroke-width="0.5" fill="none"/>
<text class="tk" x="8.34" y="137.29999999999998" text-anchor="middle">0</text>
<text class="tk" x="23.74" y="137.29999999999998" text-anchor="middle">0.1</text>
<text class="tk" x="39.14" y="137.29999999999998" text-anchor="middle">0.2</text>
<text class="tk" x="54.54" y="137.29999999999998" text-anchor="middle">0.3</text>
<text class="tk" x="69.94" y="137.29999999999998" text-anchor="middle">0.4</text>
<text class="tk" x="85.34" y="137.29999999999998" text-anchor="middle">0.5</text>
<text class="tk" x="100.74" y="137.29999999999998" text-anchor="middle">0.6</text>
<text class="tk" x="116.14" y="137.29999999999998" text-anchor="middle">0.7</text>
<text class="tk" x="131.54" y="137.29999999999998" text-anchor="middle">0.8</text>
<text class="tk" x="146.94" y="137.29999999999998" text-anchor="middle">0.9</text>
<text class="tk" x="162.34" y="137.29999999999998" text-anchor="middle">1</text>
<text class="tk" x="6.14" y="122.02" text-anchor="end">-1.5</text>
<text class="tk" x="6.14" y="107.95" text-anchor="end">-1</text>
<text class="tk" x="6.14" y="93.88" text-anchor="end">-0.5</text>
<text class="tk" x="6.14" y="79.80" text-anchor="end">0</text>
<text class="tk" x="6.14" y="65.72" text-anchor="end">0.5</text>
<text class="tk" x="6.14" y="51.65" text-anchor="end">1</text>
<text class="tk" x="6.14" y="37.58" text-anchor="end">1.5</text>
<text class="tk" x="6.14" y="23.50" text-anchor="end">2</text>
<text x="85.04" y="144.39999999999998" font-size="7.2" font-style="italic" text-anchor="middle" fill="#222">x</text>
<text transform="translate(85.34,9.360000000000001) scale(1.12,1)" font-size="11.2" text-anchor="middle" fill="#262626"><tspan font-style="italic">μ</tspan><tspan font-size="7" dy="1.3">0</tspan></text>
<rect x="64.4" y="23.4" width="42.6" height="41.1" fill="#fff" stroke="#8c8c8c" stroke-width="0.55"/><line x1="66.2" y1="28.60" x2="76.2" y2="28.60" stroke="#ff4a4a" stroke-width="0.7"/><text transform="translate(77.4,30.85) scale(1.0,1)" font-size="7.5" fill="#3a3a3a" letter-spacing="0.12">u<tspan font-size="4.12" dy="-2.70">†</tspan><tspan dy="2.70"> (truth)</tspan></text><line x1="66.2" y1="36.43" x2="76.2" y2="36.43" stroke="#4646ff" stroke-width="0.8"/><text transform="translate(77.4,38.68) scale(1.0,1)" font-size="7.5" fill="#3a3a3a" letter-spacing="0.12"><tspan font-style="italic">P</tspan><tspan font-size="5.25" dy="1.50" dx="-0.3" letter-spacing="0">50</tspan></text><line x1="66.2" y1="44.26" x2="76.2" y2="44.26" stroke="#4646ff" stroke-width="0.8"/><text transform="translate(77.4,46.51) scale(1.0,1)" font-size="7.5" fill="#3a3a3a" letter-spacing="0.12"><tspan font-style="italic">P</tspan><tspan font-size="5.25" dy="1.50" dx="-0.3" letter-spacing="0">98</tspan></text><rect x="66.2" y="49.09" width="10.0" height="6.0" fill="#00ff00"/><text transform="translate(77.4,54.34) scale(1.0,1)" font-size="7.5" fill="#3a3a3a" letter-spacing="0.12"><tspan font-style="italic">P</tspan><tspan font-size="5.25" dy="1.50" dx="-0.3" letter-spacing="0">25</tspan><tspan dy="-1.50"> − </tspan><tspan font-style="italic">P</tspan><tspan font-size="5.25" dy="1.50" dx="-0.3" letter-spacing="0">75</tspan></text><line x1="66.2" y1="59.92" x2="76.2" y2="59.92" stroke="#c4c4c4" stroke-width="0.7" stroke-dasharray="4.2,1.6"/><text transform="translate(77.4,62.17) scale(1.0,1)" font-size="7.5" fill="#3a3a3a" letter-spacing="0.12"><tspan font-style="italic">P</tspan><tspan font-size="5.25" dy="1.50" dx="-0.3" letter-spacing="0">50</tspan></text>
<clipPath id="cp1"><rect x="181.4" y="15.46" width="154.0" height="116.73999999999998"/></clipPath>
<g clip-path="url(#cp1)">
<path d="M181.40,55.31 L182.17,55.30 L182.94,55.28 L183.71,55.22 L184.48,55.12 L185.25,54.97 L186.02,54.76 L186.79,54.52 L187.56,54.25 L188.33,53.98 L189.10,53.71 L189.87,53.45 L190.64,53.20 L191.41,52.96 L192.18,52.72 L192.95,52.48 L193.72,52.23 L194.49,51.97 L195.26,51.70 L196.03,51.41 L196.80,51.08 L197.57,50.71 L198.34,50.28 L199.11,49.82 L199.88,49.35 L200.65,48.93 L201.42,48.61 L202.19,48.43 L202.96,48.44 L203.73,48.63 L204.50,48.99 L205.27,49.48 L206.04,50.05 L206.81,50.63 L207.58,51.19 L208.35,51.71 L209.12,52.21 L209.89,52.68 L210.66,53.14 L211.43,53.60 L212.20,54.06 L212.97,54.52 L213.74,54.98 L214.51,55.44 L215.28,55.90 L216.05,56.37 L216.82,56.83 L217.59,57.29 L218.36,57.75 L219.13,58.22 L219.90,58.68 L220.67,59.15 L221.44,59.62 L222.21,60.10 L222.98,60.57 L223.75,61.03 L224.52,61.48 L225.29,61.92 L226.06,62.34 L226.83,62.76 L227.60,63.16 L228.37,63.54 L229.14,63.92 L229.91,64.28 L230.68,64.62 L231.45,64.94 L232.22,65.25 L232.99,65.54 L233.76,65.82 L234.53,66.08 L235.30,66.33 L236.07,66.56 L236.84,66.77 L237.61,66.97 L238.38,67.14 L239.15,67.31 L239.92,67.46 L240.69,67.60 L241.46,67.74 L242.23,67.86 L243.00,67.97 L243.77,68.08 L244.54,68.17 L245.31,68.26 L246.08,68.35 L246.85,68.43 L247.62,68.50 L248.39,68.58 L249.16,68.65 L249.93,68.71 L250.70,68.77 L251.47,68.82 L252.24,68.87 L253.01,68.90 L253.78,68.93 L254.55,68.94 L255.32,68.95 L256.09,68.96 L256.86,68.97 L257.63,68.97 L258.40,68.97 L259.17,68.98 L259.94,68.98 L260.71,68.99 L261.48,68.99 L262.25,68.99 L263.02,68.99 L263.79,69.00 L264.56,69.00 L265.33,69.00 L266.10,69.00 L266.87,69.01 L267.64,69.01 L268.41,69.01 L269.18,69.01 L269.95,69.01 L270.72,69.01 L271.49,69.01 L272.26,69.01 L273.03,69.01 L273.80,69.01 L274.57,69.01 L275.34,69.01 L276.11,69.01 L276.88,69.01 L277.65,69.01 L278.42,69.01 L279.19,69.01 L279.96,69.01 L280.73,69.01 L281.50,69.01 L282.27,69.01 L283.04,69.01 L283.81,69.01 L284.58,69.01 L285.35,69.01 L286.12,69.01 L286.89,69.01 L287.66,69.01 L288.43,69.01 L289.20,69.01 L289.97,69.01 L290.74,69.01 L291.51,69.01 L292.28,69.01 L293.05,69.01 L293.82,69.01 L294.59,69.01 L295.36,69.01 L296.13,69.01 L296.90,69.01 L297.67,69.01 L298.44,69.01 L299.21,69.01 L299.98,69.01 L300.75,69.01 L301.52,69.01 L302.29,69.01 L303.06,69.01 L303.83,69.01 L304.60,69.01 L305.37,69.01 L306.14,69.01 L306.91,69.01 L307.68,69.01 L308.45,69.01 L309.22,69.01 L309.99,69.01 L310.76,69.01 L311.53,69.01 L312.30,69.01 L313.07,69.01 L313.84,69.01 L314.61,69.01 L315.38,69.01 L316.15,69.01 L316.92,69.01 L317.69,69.01 L318.46,69.01 L319.23,69.01 L320.00,69.01 L320.77,69.01 L321.54,69.01 L322.31,69.01 L323.08,69.01 L323.85,69.01 L324.62,69.01 L325.39,69.01 L326.16,69.01 L326.93,69.01 L327.70,69.01 L328.47,69.01 L329.24,69.01 L330.01,69.01 L330.78,69.01 L331.55,69.01 L332.32,69.01 L333.09,69.01 L333.86,69.01 L334.63,69.01 L335.40,69.01 L335.40,88.24 L334.63,88.24 L333.86,88.24 L333.09,88.24 L332.32,88.24 L331.55,88.24 L330.78,88.24 L330.01,88.24 L329.24,88.24 L328.47,88.24 L327.70,88.24 L326.93,88.24 L326.16,88.24 L325.39,88.24 L324.62,88.24 L323.85,88.24 L323.08,88.24 L322.31,88.24 L321.54,88.24 L320.77,88.24 L320.00,88.24 L319.23,88.24 L318.46,88.24 L317.69,88.24 L316.92,88.24 L316.15,88.24 L315.38,88.24 L314.61,88.24 L313.84,88.24 L313.07,88.24 L312.30,88.24 L311.53,88.24 L310.76,88.24 L309.99,88.24 L309.22,88.24 L308.45,88.24 L307.68,88.24 L306.91,88.24 L306.14,88.24 L305.37,88.24 L304.60,88.24 L303.83,88.24 L303.06,88.24 L302.29,88.24 L301.52,88.24 L300.75,88.24 L299.98,88.24 L299.21,88.24 L298.44,88.24 L297.67,88.24 L296.90,88.24 L296.13,88.24 L295.36,88.24 L294.59,88.24 L293.82,88.24 L293.05,88.24 L292.28,88.24 L291.51,88.24 L290.74,88.24 L289.97,88.24 L289.20,88.24 L288.43,88.24 L287.66,88.24 L286.89,88.24 L286.12,88.24 L285.35,88.24 L284.58,88.24 L283.81,88.24 L283.04,88.24 L282.27,88.24 L281.50,88.24 L280.73,88.24 L279.96,88.24 L279.19,88.24 L278.42,88.24 L277.65,88.24 L276.88,88.24 L276.11,88.23 L275.34,88.23 L274.57,88.23 L273.80,88.22 L273.03,88.21 L272.26,88.20 L271.49,88.18 L270.72,88.16 L269.95,88.14 L269.18,88.12 L268.41,88.09 L267.64,88.06 L266.87,88.03 L266.10,88.00 L265.33,87.97 L264.56,87.93 L263.79,87.90 L263.02,87.86 L262.25,87.83 L261.48,87.79 L260.71,87.76 L259.94,87.72 L259.17,87.68 L258.40,87.64 L257.63,87.60 L256.86,87.56 L256.09,87.52 L255.32,87.47 L254.55,87.42 L253.78,87.37 L253.01,87.32 L252.24,87.26 L251.47,87.19 L250.70,87.12 L249.93,87.05 L249.16,86.97 L248.39,86.88 L247.62,86.78 L246.85,86.67 L246.08,86.54 L245.31,86.38 L244.54,86.22 L243.77,86.04 L243.00,85.84 L242.23,85.64 L241.46,85.43 L240.69,85.21 L239.92,84.99 L239.15,84.76 L238.38,84.52 L237.61,84.27 L236.84,84.01 L236.07,83.74 L235.30,83.45 L234.53,83.15 L233.76,82.84 L232.99,82.51 L232.22,82.16 L231.45,81.77 L230.68,81.35 L229.91,80.89 L229.14,80.38 L228.37,79.82 L227.60,79.23 L226.83,78.60 L226.06,77.94 L225.29,77.25 L224.52,76.52 L223.75,75.75 L222.98,74.95 L222.21,74.10 L221.44,73.23 L220.67,72.31 L219.90,71.36 L219.13,70.38 L218.36,69.37 L217.59,68.33 L216.82,67.25 L216.05,66.15 L215.28,65.01 L214.51,63.88 L213.74,62.74 L212.97,61.66 L212.20,60.67 L211.43,59.82 L210.66,59.14 L209.89,58.59 L209.12,58.12 L208.35,57.68 L207.58,57.26 L206.81,56.82 L206.04,56.40 L205.27,56.00 L204.50,55.66 L203.73,55.43 L202.96,55.34 L202.19,55.44 L201.42,55.73 L200.65,56.20 L199.88,56.78 L199.11,57.41 L198.34,58.00 L197.57,58.51 L196.80,58.92 L196.03,59.24 L195.26,59.50 L194.49,59.72 L193.72,59.92 L192.95,60.11 L192.18,60.29 L191.41,60.48 L190.64,60.67 L189.87,60.87 L189.10,61.09 L188.33,61.32 L187.56,61.56 L186.79,61.79 L186.02,62.00 L185.25,62.18 L184.48,62.32 L183.71,62.41 L182.94,62.46 L182.17,62.48 L181.40,62.49 Z" fill="#00ff00" stroke="#00ee00" stroke-width="0.3"/>
<path d="M307.21,75.05V69.59 M297.20,86.65V83.53 M279.46,79.58V73.00 M218.15,67.90V66.88 M319.09,78.56V75.73 M270.14,78.01V74.77 M184.34,58.21V56.51 M193.92,56.72V55.80 M245.08,75.60V71.20 M232.32,71.68V69.18 M281.71,83.33V78.51 M269.94,78.70V72.80 M306.60,73.16V70.44 M332.97,77.76V75.45 M181.78,60.95V59.50 M279.64,74.52V69.59 M323.12,74.75V69.59 M332.84,76.56V74.23 M269.94,80.96V75.91 M225.81,66.37V63.93 M251.95,84.28V78.24 M319.64,73.60V70.93 M232.81,70.07V66.05 M198.98,54.46V53.73 M309.08,75.22V69.59 M306.59,81.40V77.91 M282.81,81.39V74.87 M253.15,80.27V73.95 M221.54,69.38V68.01 M324.11,79.94V76.09 M318.73,74.16V71.54 M200.66,51.05V49.15 M265.06,76.76V75.15 M256.95,85.86V83.71 M189.94,57.58V55.84 M247.55,76.16V74.29 M217.19,65.52V63.26 M303.13,85.03V78.82 M235.36,80.32V77.77 M299.57,87.55V83.79 M226.16,71.08V68.17 M195.68,58.08V55.42 M268.19,74.00V69.58 M274.14,74.13V70.41 M227.14,68.23V65.55 M222.16,68.54V65.88 M328.95,74.35V69.59 M319.14,83.93V81.03 M234.53,74.80V73.32 M196.65,57.16V56.33 M220.15,69.98V67.95 M248.43,78.65V73.21 M226.14,72.85V67.95 M184.21,59.26V58.45 M183.47,57.29V55.44 M253.11,75.27V69.45 M270.89,80.86V79.33 M327.40,76.16V74.07 M250.30,83.02V76.86 M228.08,77.54V72.29 M228.20,77.71V76.13 M248.23,82.80V77.99 M318.43,85.49V83.75 M298.46,77.85V71.80 M199.65,52.56V51.40 M239.86,73.00V67.98 M310.65,84.03V80.14 M215.55,58.83V57.84 M322.72,73.40V69.59 M273.45,73.39V69.59 M302.96,76.66V74.83 M302.03,77.32V74.02 M188.13,59.10V57.42 M236.96,75.78V72.55 M288.45,73.80V72.19 M276.68,75.66V74.00 M252.01,75.28V70.42 M240.42,80.05V78.49 M258.46,75.29V69.64 M291.28,80.34V77.52 M224.80,74.07V71.53 M182.35,59.76V57.67 M232.33,70.52V66.63 M302.19,72.92V70.84 M243.86,83.22V81.13 M291.64,87.59V82.97 M322.53,81.43V76.32 M201.66,51.39V49.33 M271.62,74.07V69.69 M273.09,87.39V81.59 M234.40,73.53V69.90 M255.08,73.62V69.51 M198.74,54.02V51.57 M185.42,61.96V59.78 M272.71,76.53V73.32 M268.16,85.33V83.20 M266.56,75.00V70.69 M183.97,62.18V60.12 M237.56,81.12V78.53 M323.44,80.56V78.30 M190.94,55.00V53.48 M250.71,85.74V82.91 M306.31,75.17V71.30 M224.54,64.98V62.46 M223.49,73.69V70.56 M310.87,79.97V74.16 M231.29,72.38V70.23 M251.93,82.34V79.38 M298.33,84.45V80.29 M237.32,71.96V69.50 M234.98,73.58V70.85 M294.17,73.16V69.74 M264.10,87.03V81.43 M239.13,76.04V73.68 M284.41,80.29V73.59 M327.51,79.22V76.79 M225.73,70.96V66.34 M318.63,74.65V69.59 M251.56,78.55V75.81 M267.18,81.97V77.61 M187.01,61.05V59.18 M247.36,83.10V76.86 M184.22,56.90V55.34 M181.45,57.44V55.52 M215.31,59.93V56.90 M191.34,58.53V57.67 M315.40,85.79V83.72 M195.89,53.96V52.91 M330.46,87.13V83.22 M201.61,54.52V53.60 M267.73,84.28V81.00 M314.25,78.73V77.15 M222.31,67.10V64.79 M195.60,58.65V57.28 M276.89,80.69V77.93 M228.13,68.31V66.66 M192.49,59.56V57.82 M185.42,60.26V59.10 M246.53,80.05V74.45 M227.80,76.74V72.04 M215.70,64.79V63.96 M328.91,77.82V73.01 M195.24,54.26V53.50 M288.38,75.36V71.43 M331.58,87.02V84.07 M276.00,78.30V75.78 M222.71,70.06V65.11 M334.28,86.18V80.21 M242.64,81.86V78.32 M189.70,56.50V54.50 M219.60,70.68V67.12 M332.06,85.73V79.08 M266.89,84.04V78.59 M299.55,82.42V77.91 M214.93,60.62V59.40 M237.24,73.20V68.10 M283.82,74.23V69.59 M273.89,77.75V75.53 M188.11,59.72V57.62 M333.29,84.44V77.82 M307.84,85.24V80.91 M221.83,65.63V63.16 M242.13,77.31V74.47 M303.43,78.63V76.82 M268.65,81.08V74.76 M328.39,86.77V81.25 M276.77,80.24V78.12 M319.20,78.13V73.33 M329.47,85.90V82.37 M186.60,59.99V57.45 M240.17,73.32V67.98 M264.54,75.25V72.64 M193.18,58.68V57.87 M196.47,58.40V57.62 M198.53,54.51V53.27 M334.12,78.35V71.95 M294.28,74.36V69.59 M241.36,81.70V79.90 M329.92,84.12V77.49 M293.46,75.61V73.88 M321.88,86.44V80.70 M186.77,56.25V55.56 M251.07,84.11V82.09 M237.52,82.99V78.90 M294.97,80.28V75.80 M219.50,65.61V62.58 M325.22,79.93V73.29 M242.82,76.98V72.02 M197.35,53.27V50.94 M199.43,53.33V51.88 M214.67,62.72V59.93 M308.20,76.74V74.27 M294.41,83.71V79.53 M184.69,57.04V55.79 M288.24,85.90V83.35 M298.32,77.27V72.58 M241.76,76.24V70.49 M308.31,75.96V72.10 M250.77,73.85V71.02 M263.46,84.20V80.40 M217.85,60.52V57.62 M237.09,73.00V67.90 M316.56,76.74V74.05 M279.61,83.72V79.72 M190.12,60.54V58.11 M252.37,79.72V75.10 M186.24,58.15V56.16 M190.55,55.75V54.13 M260.74,82.68V80.90 M212.99,60.37V58.27 M277.36,73.66V71.15 M302.58,77.65V73.73 M291.91,85.13V79.76 M222.69,68.59V64.86 M215.90,58.57V57.47 M319.73,73.29V69.59 M250.66,75.42V70.82 M333.11,77.33V75.15 M265.40,86.25V82.05 M199.45,54.34V52.11 M185.62,60.02V59.32 M230.42,76.01V74.61 M230.37,72.16V68.73 M200.26,54.23V53.60 M247.40,83.99V79.82 M200.12,52.14V49.87 M309.01,76.43V71.77 M314.80,85.91V84.13 M233.01,69.29V66.05 M267.42,83.67V79.29 M299.02,79.27V77.51 M236.39,77.98V76.05 M187.11,57.63V57.02 M225.59,69.57V65.08 M222.69,73.69V68.96 M284.72,76.37V71.34 M289.47,86.59V84.39 M318.19,83.25V78.52 M290.82,79.99V78.13 M270.10,80.65V77.59 M250.49,78.48V76.82 M240.51,81.92V78.12 M247.79,79.71V77.46 M218.91,64.66V61.65 M323.46,78.36V73.90 M332.55,73.19V69.59 M255.70,73.46V70.18 M308.06,84.89V82.44 M226.04,71.41V68.60 M213.90,61.97V61.20 M320.44,75.92V70.29 M279.10,79.27V75.34 M287.56,81.29V75.21 M218.13,64.92V61.56 M269.84,76.45V71.11 M239.49,78.53V76.86 M240.74,71.86V70.12 M323.21,74.88V69.59 M311.30,73.19V69.96 M222.21,70.93V69.52 M214.62,61.24V58.86 M334.28,87.55V81.27 M319.35,73.18V69.59 M240.51,81.69V78.89 M220.62,69.25V66.70 M191.74,59.48V58.00 M185.45,57.29V55.32 M219.79,63.47V59.12 M302.90,83.35V78.65 M291.87,75.16V71.55 M221.26,68.61V67.37 M314.24,77.73V73.43 M266.68,73.38V71.68 M321.51,83.26V79.12 M249.56,81.97V78.63 M269.31,82.95V80.26 M182.23,60.45V58.87 M189.34,60.58V58.24 M182.73,61.74V60.47 M285.65,77.80V73.39 M246.26,80.47V78.81 M292.82,74.92V69.59 M224.20,70.84V68.59 M292.03,76.91V74.43 M214.48,57.67V55.70 M236.49,77.77V73.11 M308.59,75.70V73.54 M193.75,55.84V53.77 M194.85,56.40V54.08 M297.46,74.91V70.55 M251.11,77.80V72.80 M219.71,63.73V61.47 M335.09,83.89V78.31 M314.70,76.15V71.24 M316.83,86.91V83.50 M331.03,79.94V76.58 M219.25,67.26V66.23 M290.09,87.24V81.83 M187.27,60.52V59.07 M193.78,59.41V56.78 M326.59,77.92V72.68 M187.56,59.94V58.38 M298.74,80.93V77.49 M192.60,58.90V57.42 M222.71,69.84V66.29 M222.63,63.91V61.00 M330.52,80.64V76.09 M333.16,82.15V76.92 M301.08,84.19V80.72 M237.85,82.09V79.31 M225.92,67.91V62.81 M182.50,58.72V56.87 M223.99,66.03V63.27 M193.17,59.57V57.55 M330.65,79.40V72.87 M214.89,62.26V59.64 M232.99,73.12V69.06 M244.20,75.78V71.05 M332.98,74.50V69.59 M234.62,74.47V71.91 M325.64,77.93V75.49 M305.79,76.34V69.81 M333.87,80.36V78.08 M184.65,61.25V59.23 M181.43,59.77V57.90 M277.04,77.89V73.51 M184.78,58.70V57.92 M187.37,56.48V54.47 M322.99,86.16V83.01 M232.15,79.92V76.11 M305.73,73.45V69.59 M255.15,81.76V78.63 M277.12,77.66V74.26 M276.30,85.53V83.70 M303.95,84.86V78.83 M326.65,84.66V81.69 M269.17,83.22V81.39 M264.12,85.38V81.04 M280.46,75.67V73.45 M324.83,77.40V72.44 M281.94,83.61V81.72 M285.76,82.03V75.92 M216.30,60.27V57.56 M292.81,78.56V75.60 M328.34,83.27V80.23 M313.35,73.96V70.12 M185.27,58.82V56.54 M327.06,83.73V77.95 M298.59,74.88V69.59 M282.52,80.90V77.24 M286.14,83.99V79.46 M195.22,57.52V56.84 M192.23,59.60V58.86 M315.30,79.70V77.91 M306.93,78.39V75.29 M183.63,60.14V58.94 M225.52,65.42V62.38 M300.59,78.96V73.03 M317.39,79.08V75.41 M224.04,69.23V67.23 M306.41,85.80V82.71 M320.76,77.21V72.56 M192.24,59.62V58.89 M196.60,58.18V55.57 M329.92,77.73V72.43 M229.19,74.39V71.44 M284.18,84.16V81.17 M201.37,52.01V49.61 M280.89,85.54V82.81 M275.60,79.48V75.97 M181.72,61.60V60.57 M272.72,76.79V71.12 M305.12,84.36V78.48 M222.78,71.77V69.53 M241.97,75.61V73.37 M213.97,58.87V57.35 M332.49,87.04V85.04 M255.97,84.97V79.84 M252.45,79.42V74.92 M286.18,80.63V77.68 M285.39,85.84V82.63 M274.87,82.14V76.92 M297.28,76.56V71.91 M231.33,75.55V71.09 M320.85,75.07V70.10 M292.63,87.15V83.52 M327.66,77.19V72.03 M315.79,82.91V81.19 M283.13,81.43V77.83 M196.24,57.72V55.49 M327.32,86.97V82.39" stroke="#d0ffd0" stroke-width="0.4" fill="none" opacity="0.5"/>
<path d="M181.40,58.66 L182.17,58.66 L182.94,58.66 L183.71,58.65 L184.48,58.55 L185.25,58.38 L186.02,58.15 L186.79,57.89 L187.56,57.60 L188.33,57.31 L189.10,57.03 L189.87,56.78 L190.64,56.56 L191.41,56.35 L192.18,56.14 L192.95,55.94 L193.72,55.73 L194.49,55.51 L195.26,55.27 L196.03,55.01 L196.80,54.73 L197.57,54.39 L198.34,53.89 L199.11,53.28 L199.88,52.65 L200.65,52.06 L201.42,51.58 L202.19,51.30 L202.96,51.26 L203.73,51.43 L204.50,51.74 L205.27,52.17 L206.04,52.66 L206.81,53.17 L207.58,53.67 L208.35,54.14 L209.12,54.63 L209.89,55.15 L210.66,55.70 L211.43,56.27 L212.20,56.86 L212.97,57.45 L213.74,58.06 L214.51,58.68 L215.28,59.32 L216.05,59.98 L216.82,60.66 L217.59,61.35 L218.36,62.05 L219.13,62.76 L219.90,63.47 L220.67,64.21 L221.44,64.98 L222.21,65.78 L222.98,66.60 L223.75,67.42 L224.52,68.23 L225.29,69.02 L226.06,69.78 L226.83,70.50 L227.60,71.17 L228.37,71.77 L229.14,72.32 L229.91,72.86 L230.68,73.37 L231.45,73.85 L232.22,74.29 L232.99,74.69 L233.76,75.04 L234.53,75.34 L235.30,75.63 L236.07,75.89 L236.84,76.13 L237.61,76.35 L238.38,76.55 L239.15,76.72 L239.92,76.86 L240.69,77.00 L241.46,77.13 L242.23,77.26 L243.00,77.37 L243.77,77.48 L244.54,77.58 L245.31,77.67 L246.08,77.75 L246.85,77.82 L247.62,77.89 L248.39,77.95 L249.16,78.00 L249.93,78.06 L250.70,78.11 L251.47,78.17 L252.24,78.22 L253.01,78.26 L253.78,78.31 L254.55,78.35 L255.32,78.38 L256.09,78.41 L256.86,78.44 L257.63,78.45 L258.40,78.46 L259.17,78.47 L259.94,78.47 L260.71,78.47 L261.48,78.47 L262.25,78.47 L263.02,78.47 L263.79,78.47 L264.56,78.47 L265.33,78.47 L266.10,78.47 L266.87,78.47 L267.64,78.47 L268.41,78.47 L269.18,78.47 L269.95,78.47 L270.72,78.47 L271.49,78.47 L272.26,78.47 L273.03,78.47 L273.80,78.47 L274.57,78.47 L275.34,78.47 L276.11,78.47 L276.88,78.47 L277.65,78.47 L278.42,78.47 L279.19,78.47 L279.96,78.47 L280.73,78.47 L281.50,78.47 L282.27,78.47 L283.04,78.47 L283.81,78.47 L284.58,78.47 L285.35,78.47 L286.12,78.47 L286.89,78.47 L287.66,78.47 L288.43,78.47 L289.20,78.47 L289.97,78.47 L290.74,78.47 L291.51,78.47 L292.28,78.47 L293.05,78.47 L293.82,78.47 L294.59,78.47 L295.36,78.47 L296.13,78.47 L296.90,78.47 L297.67,78.47 L298.44,78.47 L299.21,78.47 L299.98,78.47 L300.75,78.47 L301.52,78.47 L302.29,78.47 L303.06,78.47 L303.83,78.47 L304.60,78.47 L305.37,78.47 L306.14,78.47 L306.91,78.47 L307.68,78.47 L308.45,78.47 L309.22,78.47 L309.99,78.47 L310.76,78.47 L311.53,78.47 L312.30,78.47 L313.07,78.47 L313.84,78.47 L314.61,78.47 L315.38,78.47 L316.15,78.47 L316.92,78.47 L317.69,78.47 L318.46,78.47 L319.23,78.47 L320.00,78.47 L320.77,78.47 L321.54,78.47 L322.31,78.47 L323.08,78.47 L323.85,78.47 L324.62,78.47 L325.39,78.47 L326.16,78.47 L326.93,78.47 L327.70,78.47 L328.47,78.47 L329.24,78.47 L330.01,78.47 L330.78,78.47 L331.55,78.47 L332.32,78.47 L333.09,78.47 L333.86,78.47 L334.63,78.47 L335.40,78.47" fill="none" stroke="#000" stroke-width="0.45" stroke-dasharray="3.5,2.2"/>
<path d="M181.40,67.51 L182.17,67.48 L182.94,67.35 L183.71,66.97 L184.48,66.28 L185.25,65.42 L186.02,64.68 L186.79,64.22 L187.56,63.98 L188.33,63.85 L189.10,63.76 L189.87,63.68 L190.64,63.61 L191.41,63.54 L192.18,63.46 L192.95,63.38 L193.72,63.30 L194.49,63.22 L195.26,63.14 L196.03,63.05 L196.80,62.96 L197.57,62.84 L198.34,62.70 L199.11,62.51 L199.88,62.28 L200.65,62.00 L201.42,61.71 L202.19,61.41 L202.96,61.11 L203.73,60.80 L204.50,60.50 L205.27,60.23 L206.04,60.05 L206.81,60.03 L207.58,60.22 L208.35,60.72 L209.12,61.68 L209.89,63.28 L210.66,65.44 L211.43,67.76 L212.20,69.93 L212.97,71.94 L213.74,73.91 L214.51,75.89 L215.28,77.80 L216.05,79.43 L216.82,80.70 L217.59,81.65 L218.36,82.40 L219.13,83.04 L219.90,83.63 L220.67,84.24 L221.44,84.92 L222.21,85.74 L222.98,86.77 L223.75,88.06 L224.52,89.58 L225.29,91.21 L226.06,92.81 L226.83,94.28 L227.60,95.63 L228.37,96.89 L229.14,98.10 L229.91,99.25 L230.68,100.31 L231.45,101.25 L232.22,102.04 L232.99,102.66 L233.76,103.14 L234.53,103.51 L235.30,103.81 L236.07,104.07 L236.84,104.29 L237.61,104.50 L238.38,104.70 L239.15,104.89 L239.92,105.07 L240.69,105.26 L241.46,105.44 L242.23,105.61 L243.00,105.78 L243.77,105.94 L244.54,106.10 L245.31,106.24 L246.08,106.37 L246.85,106.50 L247.62,106.61 L248.39,106.72 L249.16,106.83 L249.93,106.93 L250.70,107.04 L251.47,107.13 L252.24,107.22 L253.01,107.30 L253.78,107.37 L254.55,107.43 L255.32,107.46 L256.09,107.48 L256.86,107.49 L257.63,107.49 L258.40,107.49 L259.17,107.49 L259.94,107.49 L260.71,107.49 L261.48,107.49 L262.25,107.49 L263.02,107.49 L263.79,107.49 L264.56,107.49 L265.33,107.49 L266.10,107.49 L266.87,107.49 L267.64,107.49 L268.41,107.49 L269.18,107.49 L269.95,107.49 L270.72,107.49 L271.49,107.49 L272.26,107.49 L273.03,107.49 L273.80,107.49 L274.57,107.49 L275.34,107.49 L276.11,107.49 L276.88,107.49 L277.65,107.49 L278.42,107.49 L279.19,107.49 L279.96,107.49 L280.73,107.49 L281.50,107.49 L282.27,107.49 L283.04,107.49 L283.81,107.49 L284.58,107.49 L285.35,107.49 L286.12,107.49 L286.89,107.49 L287.66,107.49 L288.43,107.49 L289.20,107.49 L289.97,107.49 L290.74,107.49 L291.51,107.49 L292.28,107.49 L293.05,107.49 L293.82,107.49 L294.59,107.49 L295.36,107.49 L296.13,107.49 L296.90,107.49 L297.67,107.49 L298.44,107.49 L299.21,107.49 L299.98,107.49 L300.75,107.49 L301.52,107.49 L302.29,107.49 L303.06,107.49 L303.83,107.49 L304.60,107.49 L305.37,107.49 L306.14,107.49 L306.91,107.49 L307.68,107.49 L308.45,107.49 L309.22,107.49 L309.99,107.49 L310.76,107.49 L311.53,107.49 L312.30,107.49 L313.07,107.49 L313.84,107.49 L314.61,107.49 L315.38,107.49 L316.15,107.49 L316.92,107.49 L317.69,107.49 L318.46,107.49 L319.23,107.49 L320.00,107.49 L320.77,107.49 L321.54,107.49 L322.31,107.49 L323.08,107.49 L323.85,107.49 L324.62,107.49 L325.39,107.49 L326.16,107.49 L326.93,107.49 L327.70,107.49 L328.47,107.49 L329.24,107.49 L330.01,107.49 L330.78,107.49 L331.55,107.49 L332.32,107.49 L333.09,107.49 L333.86,107.49 L334.63,107.49 L335.40,107.49" fill="none" stroke="#2626ff" stroke-width="1.08" stroke-linejoin="round"/>
<path d="M181.40,49.09 L182.17,49.09 L182.94,49.08 L183.71,49.05 L184.48,48.99 L185.25,48.90 L186.02,48.80 L186.79,48.71 L187.56,48.63 L188.33,48.58 L189.10,48.55 L189.87,48.52 L190.64,48.50 L191.41,48.48 L192.18,48.44 L192.95,48.37 L193.72,48.19 L194.49,47.83 L195.26,47.27 L196.03,46.56 L196.80,45.78 L197.57,45.03 L198.34,44.36 L199.11,43.76 L199.88,43.21 L200.65,42.72 L201.42,42.34 L202.19,42.12 L202.96,42.12 L203.73,42.33 L204.50,42.72 L205.27,43.24 L206.04,43.82 L206.81,44.43 L207.58,45.09 L208.35,45.73 L209.12,46.22 L209.89,46.42 L210.66,46.31 L211.43,45.94 L212.20,45.44 L212.97,44.92 L213.74,44.45 L214.51,44.06 L215.28,43.71 L216.05,43.38 L216.82,43.08 L217.59,42.83 L218.36,42.63 L219.13,42.50 L219.90,42.45 L220.67,42.47 L221.44,42.55 L222.21,42.68 L222.98,42.84 L223.75,43.03 L224.52,43.23 L225.29,43.44 L226.06,43.66 L226.83,43.89 L227.60,44.15 L228.37,44.44 L229.14,44.74 L229.91,45.06 L230.68,45.38 L231.45,45.69 L232.22,45.99 L232.99,46.28 L233.76,46.54 L234.53,46.77 L235.30,46.99 L236.07,47.20 L236.84,47.40 L237.61,47.60 L238.38,47.79 L239.15,47.96 L239.92,48.13 L240.69,48.28 L241.46,48.42 L242.23,48.55 L243.00,48.66 L243.77,48.78 L244.54,48.88 L245.31,48.99 L246.08,49.09 L246.85,49.19 L247.62,49.28 L248.39,49.36 L249.16,49.43 L249.93,49.48 L250.70,49.52 L251.47,49.55 L252.24,49.56 L253.01,49.57 L253.78,49.57 L254.55,49.57 L255.32,49.57 L256.09,49.57 L256.86,49.57 L257.63,49.57 L258.40,49.57 L259.17,49.57 L259.94,49.57 L260.71,49.57 L261.48,49.57 L262.25,49.57 L263.02,49.57 L263.79,49.57 L264.56,49.57 L265.33,49.57 L266.10,49.57 L266.87,49.57 L267.64,49.57 L268.41,49.57 L269.18,49.57 L269.95,49.57 L270.72,49.57 L271.49,49.57 L272.26,49.57 L273.03,49.57 L273.80,49.57 L274.57,49.57 L275.34,49.57 L276.11,49.57 L276.88,49.57 L277.65,49.57 L278.42,49.57 L279.19,49.56 L279.96,49.56 L280.73,49.56 L281.50,49.56 L282.27,49.56 L283.04,49.56 L283.81,49.56 L284.58,49.56 L285.35,49.56 L286.12,49.56 L286.89,49.56 L287.66,49.56 L288.43,49.56 L289.20,49.56 L289.97,49.56 L290.74,49.56 L291.51,49.56 L292.28,49.56 L293.05,49.56 L293.82,49.56 L294.59,49.56 L295.36,49.55 L296.13,49.55 L296.90,49.55 L297.67,49.55 L298.44,49.55 L299.21,49.55 L299.98,49.55 L300.75,49.55 L301.52,49.55 L302.29,49.55 L303.06,49.55 L303.83,49.55 L304.60,49.55 L305.37,49.55 L306.14,49.54 L306.91,49.54 L307.68,49.54 L308.45,49.54 L309.22,49.54 L309.99,49.54 L310.76,49.54 L311.53,49.54 L312.30,49.54 L313.07,49.54 L313.84,49.54 L314.61,49.54 L315.38,49.53 L316.15,49.53 L316.92,49.53 L317.69,49.53 L318.46,49.53 L319.23,49.53 L320.00,49.53 L320.77,49.53 L321.54,49.53 L322.31,49.53 L323.08,49.52 L323.85,49.52 L324.62,49.52 L325.39,49.52 L326.16,49.52 L326.93,49.52 L327.70,49.52 L328.47,49.52 L329.24,49.52 L330.01,49.51 L330.78,49.51 L331.55,49.51 L332.32,49.51 L333.09,49.51 L333.86,49.51 L334.63,49.51 L335.40,49.51" fill="none" stroke="#2626ff" stroke-width="1.08" stroke-linejoin="round"/>
<path d="M181.40,63.17 L181.78,62.81 L182.17,62.34 L182.56,61.85 L182.94,61.38 L183.33,60.94 L183.71,60.54 L184.09,60.18 L184.48,59.86 L184.87,59.59 L185.25,59.35 L185.64,59.14 L186.02,58.95 L186.41,58.78 L186.79,58.64 L187.18,58.54 L187.56,58.47 L187.94,58.42 L188.33,58.39 L188.72,58.36 L189.10,58.35 L189.49,58.33 L189.87,58.31 L190.25,58.29 L190.64,58.27 L191.03,58.24 L191.41,58.20 L191.80,58.16 L192.18,58.11 L192.56,58.05 L192.95,57.98 L193.34,57.90 L193.72,57.81 L194.11,57.71 L194.49,57.60 L194.88,57.47 L195.26,57.31 L195.65,57.10 L196.03,56.85 L196.42,56.54 L196.80,56.20 L197.19,55.82 L197.57,55.42 L197.96,54.97 L198.34,54.48 L198.72,53.92 L199.11,53.33 L199.50,52.74 L199.88,52.17 L200.27,51.64 L200.65,51.14 L201.03,50.66 L201.42,50.23 L201.81,49.89 L202.19,49.68 L202.58,49.62 L202.96,49.71 L203.34,49.93 L203.73,50.24 L204.12,50.61 L204.50,51.00 L204.88,51.44 L205.27,51.92 L205.66,52.43 L206.04,52.93 L206.43,53.38 L206.81,53.74 L207.19,54.03 L207.58,54.25 L207.97,54.42 L208.35,54.58 L208.74,54.71 L209.12,54.84 L209.50,54.95 L209.89,55.05 L210.28,55.14 L210.66,55.23 L211.05,55.35 L211.43,55.51 L211.81,55.76 L212.20,56.10 L212.59,56.51 L212.97,56.98 L213.36,57.49 L213.74,58.04 L214.12,58.62 L214.51,59.22 L214.90,59.83 L215.28,60.44 L215.67,61.06 L216.05,61.69 L216.44,62.31 L216.82,62.93 L217.21,63.52 L217.59,64.09 L217.98,64.64 L218.36,65.16 L218.75,65.68 L219.13,66.21 L219.52,66.78 L219.90,67.43 L220.28,68.17 L220.67,69.01 L221.06,69.94 L221.44,70.90 L221.83,71.83 L222.21,72.68 L222.59,73.40 L222.98,73.96 L223.37,74.38 L223.75,74.69 L224.14,74.95 L224.52,75.18 L224.91,75.40 L225.29,75.62 L225.68,75.81 L226.06,75.96 L226.44,76.07 L226.83,76.15 L227.22,76.21 L227.60,76.26 L227.99,76.29 L228.37,76.31 L228.75,76.32 L229.14,76.32 L229.53,76.31 L229.91,76.27 L230.30,76.19 L230.68,76.02 L231.06,75.79 L231.45,75.51 L231.84,75.20 L232.22,74.88 L232.61,74.55 L232.99,74.20 L233.38,73.85 L233.76,73.49 L234.15,73.14 L234.53,72.81 L234.92,72.53 L235.30,72.34 L235.69,72.28 L236.07,72.34 L236.46,72.50 L236.84,72.74 L237.22,73.05 L237.61,73.46 L238.00,74.00 L238.38,74.63 L238.77,75.31 L239.15,75.97 L239.53,76.60 L239.92,77.20 L240.31,77.78 L240.69,78.34 L241.08,78.89 L241.46,79.42 L241.84,79.94 L242.23,80.41 L242.62,80.75 L243.00,80.93 L243.39,80.94 L243.77,80.83 L244.16,80.66 L244.54,80.51 L244.93,80.46 L245.31,80.55 L245.69,80.81 L246.08,81.20 L246.47,81.72 L246.85,82.36 L247.24,83.14 L247.62,84.06 L248.00,85.08 L248.39,86.17 L248.78,87.29 L249.16,88.44 L249.55,89.60 L249.93,90.74 L250.31,91.82 L250.70,92.86 L251.09,93.84 L251.47,94.78 L251.86,95.68 L252.24,96.55 L252.62,97.38 L253.01,98.18 L253.40,98.96 L253.78,99.70 L254.17,100.42 L254.55,101.13 L254.94,101.84 L255.32,102.49 L255.70,103.02 L256.09,103.32 L256.48,103.33 L256.86,103.09 L257.25,102.65 L257.63,102.10 L258.01,101.51 L258.40,100.90 L258.79,100.29 L259.17,99.65 L259.56,99.03 L259.94,98.44 L260.32,97.94 L260.71,97.52 L261.10,97.19 L261.48,96.92 L261.87,96.68 L262.25,96.44 L262.63,96.20 L263.02,95.92 L263.40,95.61 L263.79,95.27 L264.18,94.89 L264.56,94.50 L264.94,94.10 L265.33,93.70 L265.72,93.31 L266.10,92.93 L266.49,92.57 L266.87,92.20 L267.25,91.83 L267.64,91.43 L268.02,91.00 L268.41,90.52 L268.80,89.97 L269.18,89.37 L269.56,88.72 L269.95,88.04 L270.34,87.37 L270.72,86.70 L271.11,86.05 L271.49,85.41 L271.88,84.81 L272.26,84.29 L272.64,83.86 L273.03,83.53 L273.42,83.26 L273.80,83.04 L274.19,82.85 L274.57,82.72 L274.96,82.63 L275.34,82.60 L275.73,82.60 L276.11,82.64 L276.50,82.69 L276.88,82.75 L277.26,82.82 L277.65,82.88 L278.04,82.94 L278.42,83.00 L278.81,83.07 L279.19,83.13 L279.58,83.18 L279.96,83.21 L280.35,83.21 L280.73,83.16 L281.12,83.06 L281.50,82.91 L281.88,82.75 L282.27,82.60 L282.65,82.51 L283.04,82.52 L283.43,82.64 L283.81,82.90 L284.19,83.23 L284.58,83.59 L284.97,83.90 L285.35,84.09 L285.74,84.15 L286.12,84.06 L286.50,83.86 L286.89,83.58 L287.27,83.27 L287.66,82.97 L288.05,82.68 L288.43,82.43 L288.81,82.20 L289.20,81.98 L289.59,81.80 L289.97,81.67 L290.36,81.65 L290.74,81.74 L291.12,81.96 L291.51,82.24 L291.89,82.52 L292.28,82.70 L292.67,82.74 L293.05,82.63 L293.44,82.44 L293.82,82.28 L294.21,82.22 L294.59,82.35 L294.98,82.69 L295.36,83.24 L295.75,83.96 L296.13,84.84 L296.51,85.82 L296.90,86.89 L297.29,88.01 L297.67,89.14 L298.06,90.26 L298.44,91.33 L298.83,92.38 L299.21,93.41 L299.60,94.46 L299.98,95.52 L300.37,96.58 L300.75,97.61 L301.13,98.58 L301.52,99.50 L301.90,100.38 L302.29,101.20 L302.68,101.95 L303.06,102.60 L303.44,103.14 L303.83,103.58 L304.22,103.92 L304.60,104.18 L304.99,104.33 L305.37,104.31 L305.75,104.13 L306.14,103.78 L306.52,103.30 L306.91,102.68 L307.30,101.88 L307.68,100.87 L308.06,99.69 L308.45,98.40 L308.84,97.10 L309.22,95.84 L309.61,94.62 L309.99,93.44 L310.38,92.26 L310.76,91.10 L311.14,89.96 L311.53,88.82 L311.92,87.69 L312.30,86.55 L312.69,85.40 L313.07,84.29 L313.46,83.25 L313.84,82.33 L314.23,81.57 L314.61,80.97 L315.00,80.49 L315.38,80.09 L315.76,79.73 L316.15,79.39 L316.54,79.01 L316.92,78.60 L317.31,78.14 L317.69,77.62 L318.08,77.02 L318.46,76.29 L318.85,75.35 L319.23,74.18 L319.62,72.83 L320.00,71.47 L320.38,70.21 L320.77,69.10 L321.15,68.14 L321.54,67.38 L321.93,66.88 L322.31,66.62 L322.69,66.53 L323.08,66.51 L323.47,66.51 L323.85,66.55 L324.24,66.63 L324.62,66.79 L325.00,67.02 L325.39,67.31 L325.77,67.63 L326.16,67.96 L326.55,68.30 L326.93,68.65 L327.31,69.02 L327.70,69.40 L328.09,69.80 L328.47,70.21 L328.86,70.61 L329.24,71.02 L329.62,71.45 L330.01,71.88 L330.39,72.30 L330.78,72.69 L331.17,73.02 L331.55,73.30 L331.94,73.53 L332.32,73.72 L332.71,73.89 L333.09,74.03 L333.48,74.13 L333.86,74.18 L334.25,74.13 L334.63,73.94 L335.01,73.66 L335.40,73.39" fill="none" stroke="#ff2c20" stroke-width="1.0" stroke-linejoin="round"/>
<line x1="214.50" y1="15.860000000000001" x2="214.50" y2="132.2" stroke="#ffb6b6" stroke-width="1" stroke-dasharray="3.7,1.8" shape-rendering="crispEdges"/>
</g>
<rect x="181.4" y="15.46" width="154.0" height="116.73999999999998" fill="none" stroke="#8a8a8a" stroke-width="0.5"/>
<path d="M181.40,132.2v-1.9M181.40,15.46v1.9 M196.80,132.2v-1.9M196.80,15.46v1.9 M212.20,132.2v-1.9M212.20,15.46v1.9 M227.60,132.2v-1.9M227.60,15.46v1.9 M243.00,132.2v-1.9M243.00,15.46v1.9 M258.40,132.2v-1.9M258.40,15.46v1.9 M273.80,132.2v-1.9M273.80,15.46v1.9 M289.20,132.2v-1.9M289.20,15.46v1.9 M304.60,132.2v-1.9M304.60,15.46v1.9 M320.00,132.2v-1.9M320.00,15.46v1.9 M335.40,132.2v-1.9M335.40,15.46v1.9 M181.4,120.72h1.9M335.4,120.72h-1.9 M181.4,106.65h1.9M335.4,106.65h-1.9 M181.4,92.58h1.9M335.4,92.58h-1.9 M181.4,78.50h1.9M335.4,78.50h-1.9 M181.4,64.42h1.9M335.4,64.42h-1.9 M181.4,50.35h1.9M335.4,50.35h-1.9 M181.4,36.28h1.9M335.4,36.28h-1.9 M181.4,22.20h1.9M335.4,22.20h-1.9" stroke="#666" stroke-width="0.5" fill="none"/>
<text class="tk" x="181.40" y="137.29999999999998" text-anchor="middle">0</text>
<text class="tk" x="196.80" y="137.29999999999998" text-anchor="middle">0.1</text>
<text class="tk" x="212.20" y="137.29999999999998" text-anchor="middle">0.2</text>
<text class="tk" x="227.60" y="137.29999999999998" text-anchor="middle">0.3</text>
<text class="tk" x="243.00" y="137.29999999999998" text-anchor="middle">0.4</text>
<text class="tk" x="258.40" y="137.29999999999998" text-anchor="middle">0.5</text>
<text class="tk" x="273.80" y="137.29999999999998" text-anchor="middle">0.6</text>
<text class="tk" x="289.20" y="137.29999999999998" text-anchor="middle">0.7</text>
<text class="tk" x="304.60" y="137.29999999999998" text-anchor="middle">0.8</text>
<text class="tk" x="320.00" y="137.29999999999998" text-anchor="middle">0.9</text>
<text class="tk" x="335.40" y="137.29999999999998" text-anchor="middle">1</text>
<text class="tk" x="179.20000000000002" y="122.02" text-anchor="end">-1.5</text>
<text class="tk" x="179.20000000000002" y="107.95" text-anchor="end">-1</text>
<text class="tk" x="179.20000000000002" y="93.88" text-anchor="end">-0.5</text>
<text class="tk" x="179.20000000000002" y="79.80" text-anchor="end">0</text>
<text class="tk" x="179.20000000000002" y="65.72" text-anchor="end">0.5</text>
<text class="tk" x="179.20000000000002" y="51.65" text-anchor="end">1</text>
<text class="tk" x="179.20000000000002" y="37.58" text-anchor="end">1.5</text>
<text class="tk" x="179.20000000000002" y="23.50" text-anchor="end">2</text>
<text x="258.09999999999997" y="144.39999999999998" font-size="7.2" font-style="italic" text-anchor="middle" fill="#222">x</text>
<text transform="translate(259.4,10.56) scale(1.13,1)" font-size="9.9" text-anchor="middle" fill="#1c1c1c" stroke="#1c1c1c" stroke-width="0.12" letter-spacing="0.38"><tspan font-style="italic" font-size="10.2">μ</tspan><tspan font-size="6.2" dy="1.7">1</tspan><tspan dy="-1.7"> (SMC) J=10</tspan><tspan font-size="6.4" dy="-4.1">5</tspan></text>
<rect x="184.6" y="79.3" width="48.5" height="49.3" fill="#fff" stroke="#8c8c8c" stroke-width="0.55"/><line x1="186.5" y1="84.80" x2="196.7" y2="84.80" stroke="#ff4a4a" stroke-width="0.7"/><text transform="translate(198.1,87.20) scale(1.12,1)" font-size="8.0" fill="#3a3a3a" letter-spacing="0.12">u<tspan font-size="4.40" dy="-2.88">†</tspan><tspan dy="2.88"> (truth)</tspan></text><line x1="186.5" y1="94.40" x2="196.7" y2="94.40" stroke="#4646ff" stroke-width="0.8"/><text transform="translate(198.1,96.80) scale(1.12,1)" font-size="8.0" fill="#3a3a3a" letter-spacing="0.12"><tspan font-style="italic">P</tspan><tspan font-size="5.60" dy="1.60" dx="-0.3" letter-spacing="0">02</tspan></text><line x1="186.5" y1="104.00" x2="196.7" y2="104.00" stroke="#a8a8ff" stroke-width="1.5"/><text transform="translate(198.1,106.40) scale(1.12,1)" font-size="8.0" fill="#3a3a3a" letter-spacing="0.12"><tspan font-style="italic">P</tspan><tspan font-size="5.60" dy="1.60" dx="-0.3" letter-spacing="0">98</tspan></text><rect x="186.5" y="109.90" width="10.2" height="7.4" fill="#00ff00"/><text transform="translate(198.1,116.00) scale(1.12,1)" font-size="8.0" fill="#3a3a3a" letter-spacing="0.12"><tspan font-style="italic">P</tspan><tspan font-size="5.60" dy="1.60" dx="-0.3" letter-spacing="0">25</tspan><tspan dy="-1.60"> − </tspan><tspan font-style="italic">P</tspan><tspan font-size="5.60" dy="1.60" dx="-0.3" letter-spacing="0">75</tspan></text><line x1="186.5" y1="123.20" x2="196.7" y2="123.20" stroke="#444" stroke-width="0.7" stroke-dasharray="4.2,1.6"/><text transform="translate(198.1,125.60) scale(1.12,1)" font-size="8.0" fill="#3a3a3a" letter-spacing="0.12"><tspan font-style="italic">P</tspan><tspan font-size="5.60" dy="1.60" dx="-0.3" letter-spacing="0">50</tspan></text>
<clipPath id="cp2"><rect x="354.5" y="15.46" width="154.0" height="116.73999999999998"/></clipPath>
<g clip-path="url(#cp2)">
<path d="M354.50,55.78 L355.27,55.75 L356.04,55.70 L356.81,55.60 L357.58,55.47 L358.35,55.31 L359.12,55.12 L359.89,54.91 L360.66,54.71 L361.43,54.50 L362.20,54.31 L362.97,54.12 L363.74,53.94 L364.51,53.75 L365.28,53.56 L366.05,53.36 L366.82,53.15 L367.59,52.92 L368.36,52.66 L369.13,52.35 L369.90,51.99 L370.67,51.56 L371.44,51.09 L372.21,50.62 L372.98,50.18 L373.75,49.84 L374.52,49.63 L375.29,49.57 L376.06,49.68 L376.83,49.93 L377.60,50.29 L378.37,50.73 L379.14,51.22 L379.91,51.72 L380.68,52.24 L381.45,52.80 L382.22,53.40 L382.99,54.10 L383.76,54.93 L384.53,55.91 L385.30,57.02 L386.07,58.17 L386.84,59.26 L387.61,60.22 L388.38,61.05 L389.15,61.77 L389.92,62.40 L390.69,62.97 L391.46,63.48 L392.23,63.97 L393.00,64.42 L393.77,64.86 L394.54,65.27 L395.31,65.66 L396.08,66.01 L396.85,66.32 L397.62,66.61 L398.39,66.87 L399.16,67.12 L399.93,67.38 L400.70,67.67 L401.47,67.98 L402.24,68.34 L403.01,68.76 L403.78,69.26 L404.55,69.86 L405.32,70.56 L406.09,71.32 L406.86,72.12 L407.63,72.93 L408.40,73.71 L409.17,74.45 L409.94,75.14 L410.71,75.77 L411.48,76.32 L412.25,76.78 L413.02,77.11 L413.79,77.30 L414.56,77.39 L415.33,77.40 L416.10,77.32 L416.87,77.11 L417.64,76.75 L418.41,76.24 L419.18,75.66 L419.95,75.08 L420.72,74.54 L421.49,74.04 L422.26,73.59 L423.03,73.19 L423.80,72.84 L424.57,72.53 L425.34,72.25 L426.11,72.00 L426.88,71.76 L427.65,71.53 L428.42,71.31 L429.19,71.09 L429.96,70.88 L430.73,70.67 L431.50,70.48 L432.27,70.30 L433.04,70.14 L433.81,69.99 L434.58,69.85 L435.35,69.73 L436.12,69.61 L436.89,69.50 L437.66,69.41 L438.43,69.33 L439.20,69.27 L439.97,69.23 L440.74,69.19 L441.51,69.17 L442.28,69.14 L443.05,69.12 L443.82,69.10 L444.59,69.09 L445.36,69.07 L446.13,69.06 L446.90,69.04 L447.67,69.03 L448.44,69.02 L449.21,69.01 L449.98,69.00 L450.75,68.99 L451.52,68.99 L452.29,68.98 L453.06,68.98 L453.83,68.98 L454.60,68.98 L455.37,68.98 L456.14,68.98 L456.91,68.98 L457.68,68.98 L458.45,68.98 L459.22,68.98 L459.99,68.98 L460.76,68.98 L461.53,68.98 L462.30,68.98 L463.07,68.98 L463.84,68.98 L464.61,68.98 L465.38,68.98 L466.15,68.98 L466.92,68.98 L467.69,68.98 L468.46,68.98 L469.23,68.98 L470.00,68.98 L470.77,68.98 L471.54,68.98 L472.31,68.98 L473.08,68.98 L473.85,68.98 L474.62,68.98 L475.39,68.98 L476.16,68.98 L476.93,68.98 L477.70,68.98 L478.47,68.98 L479.24,68.98 L480.01,68.98 L480.78,68.98 L481.55,68.98 L482.32,68.98 L483.09,68.98 L483.86,68.98 L484.63,68.98 L485.40,68.98 L486.17,68.98 L486.94,68.98 L487.71,68.98 L488.48,68.98 L489.25,68.98 L490.02,68.98 L490.79,68.98 L491.56,68.98 L492.33,68.98 L493.10,68.98 L493.87,68.98 L494.64,68.98 L495.41,68.98 L496.18,68.98 L496.95,68.98 L497.72,68.98 L498.49,68.98 L499.26,68.98 L500.03,68.98 L500.80,68.98 L501.57,68.98 L502.34,68.98 L503.11,68.98 L503.88,68.98 L504.65,68.98 L505.42,68.98 L506.19,68.98 L506.96,68.98 L507.73,68.98 L508.50,68.98 L508.50,88.52 L507.73,88.52 L506.96,88.52 L506.19,88.52 L505.42,88.52 L504.65,88.52 L503.88,88.52 L503.11,88.52 L502.34,88.52 L501.57,88.53 L500.80,88.53 L500.03,88.53 L499.26,88.53 L498.49,88.54 L497.72,88.54 L496.95,88.55 L496.18,88.55 L495.41,88.55 L494.64,88.56 L493.87,88.56 L493.10,88.57 L492.33,88.57 L491.56,88.58 L490.79,88.58 L490.02,88.59 L489.25,88.60 L488.48,88.60 L487.71,88.61 L486.94,88.61 L486.17,88.62 L485.40,88.63 L484.63,88.64 L483.86,88.64 L483.09,88.65 L482.32,88.66 L481.55,88.67 L480.78,88.68 L480.01,88.68 L479.24,88.69 L478.47,88.70 L477.70,88.71 L476.93,88.72 L476.16,88.73 L475.39,88.74 L474.62,88.75 L473.85,88.76 L473.08,88.77 L472.31,88.78 L471.54,88.79 L470.77,88.80 L470.00,88.81 L469.23,88.82 L468.46,88.84 L467.69,88.85 L466.92,88.86 L466.15,88.87 L465.38,88.88 L464.61,88.89 L463.84,88.91 L463.07,88.92 L462.30,88.93 L461.53,88.94 L460.76,88.96 L459.99,88.97 L459.22,88.98 L458.45,89.00 L457.68,89.01 L456.91,89.02 L456.14,89.04 L455.37,89.05 L454.60,89.07 L453.83,89.09 L453.06,89.11 L452.29,89.13 L451.52,89.16 L450.75,89.20 L449.98,89.24 L449.21,89.28 L448.44,89.32 L447.67,89.36 L446.90,89.40 L446.13,89.44 L445.36,89.48 L444.59,89.52 L443.82,89.55 L443.05,89.57 L442.28,89.60 L441.51,89.61 L440.74,89.62 L439.97,89.62 L439.20,89.62 L438.43,89.60 L437.66,89.58 L436.89,89.56 L436.12,89.53 L435.35,89.49 L434.58,89.45 L433.81,89.41 L433.04,89.36 L432.27,89.31 L431.50,89.26 L430.73,89.20 L429.96,89.14 L429.19,89.07 L428.42,89.00 L427.65,88.91 L426.88,88.81 L426.11,88.70 L425.34,88.57 L424.57,88.43 L423.80,88.28 L423.03,88.11 L422.26,87.93 L421.49,87.72 L420.72,87.49 L419.95,87.24 L419.18,86.98 L418.41,86.69 L417.64,86.39 L416.87,86.08 L416.10,85.76 L415.33,85.46 L414.56,85.15 L413.79,84.85 L413.02,84.52 L412.25,84.17 L411.48,83.79 L410.71,83.37 L409.94,82.90 L409.17,82.38 L408.40,81.78 L407.63,81.11 L406.86,80.39 L406.09,79.63 L405.32,78.89 L404.55,78.18 L403.78,77.51 L403.01,76.89 L402.24,76.30 L401.47,75.75 L400.70,75.24 L399.93,74.77 L399.16,74.34 L398.39,73.94 L397.62,73.56 L396.85,73.19 L396.08,72.82 L395.31,72.45 L394.54,72.07 L393.77,71.68 L393.00,71.26 L392.23,70.81 L391.46,70.32 L390.69,69.78 L389.92,69.20 L389.15,68.59 L388.38,67.92 L387.61,67.14 L386.84,66.18 L386.07,65.01 L385.30,63.78 L384.53,62.72 L383.76,61.94 L382.99,61.30 L382.22,60.54 L381.45,59.60 L380.68,58.56 L379.91,57.61 L379.14,56.83 L378.37,56.22 L377.60,55.74 L376.83,55.38 L376.06,55.15 L375.29,55.07 L374.52,55.15 L373.75,55.40 L372.98,55.78 L372.21,56.25 L371.44,56.77 L370.67,57.26 L369.90,57.71 L369.13,58.08 L368.36,58.37 L367.59,58.61 L366.82,58.81 L366.05,59.00 L365.28,59.17 L364.51,59.33 L363.74,59.49 L362.97,59.65 L362.20,59.82 L361.43,60.01 L360.66,60.20 L359.89,60.41 L359.12,60.61 L358.35,60.80 L357.58,60.97 L356.81,61.10 L356.04,61.20 L355.27,61.25 L354.50,61.28 Z" fill="#00ff00" stroke="#00ee00" stroke-width="0.3"/>
<path d="M450.08,85.25V78.61 M410.38,79.38V77.91 M461.17,77.90V74.60 M471.29,80.03V75.93 M402.84,73.33V71.14 M468.28,82.63V77.23 M423.13,80.10V75.51 M500.38,77.21V71.93 M422.67,82.37V79.87 M496.20,82.53V79.65 M480.06,80.52V76.63 M496.28,86.95V84.89 M439.81,88.41V81.89 M502.22,83.69V77.55 M425.33,81.17V77.98 M492.90,83.12V76.67 M406.21,77.78V74.89 M447.80,74.02V69.64 M464.09,88.06V86.12 M476.69,76.07V69.57 M409.76,79.37V78.17 M461.03,77.66V75.71 M442.85,75.57V69.74 M401.46,75.46V74.34 M412.51,81.24V79.71 M406.21,77.94V75.37 M477.11,73.85V70.16 M478.55,85.18V81.72 M413.66,82.90V81.88 M495.70,81.21V75.88 M461.71,77.66V71.19 M500.42,75.14V72.76 M416.75,83.19V80.06 M459.06,86.16V81.92 M472.03,87.31V81.78 M458.46,76.77V74.34 M500.74,82.09V77.02 M442.45,74.80V69.76 M505.91,81.56V75.31 M471.00,77.03V70.96 M412.34,82.20V81.50 M505.66,86.58V80.44 M447.86,74.99V70.22 M444.68,80.66V78.51 M502.84,77.52V70.98 M486.45,84.57V78.93 M437.96,85.70V80.94 M504.56,87.44V82.37 M418.49,82.38V79.61 M414.69,81.03V79.40 M476.68,84.04V81.85 M445.20,77.65V73.36 M422.71,79.66V77.01 M483.74,84.52V79.38 M415.93,84.81V83.54 M438.87,75.73V69.96 M452.01,87.84V82.90 M473.81,83.34V79.26 M423.05,82.02V80.46 M433.75,84.82V80.40 M401.41,74.88V72.67 M498.71,77.17V73.54 M421.45,80.95V79.08 M486.03,80.76V75.38 M424.68,84.73V83.31 M447.24,80.47V78.79 M499.00,77.18V74.44 M412.07,80.17V77.91 M455.71,79.62V74.18 M412.35,80.26V79.11 M439.73,82.34V77.71 M483.85,76.67V74.57 M457.11,87.73V84.35 M466.69,76.42V69.57 M434.97,78.99V73.20 M489.49,83.19V80.77 M471.64,87.18V84.29 M483.28,73.55V69.62 M473.55,82.27V79.24 M441.72,87.15V82.93 M456.52,73.67V69.58 M420.16,86.36V85.22 M507.12,85.25V81.82 M465.83,84.91V81.09 M477.03,82.97V80.50 M400.41,71.61V70.10 M400.50,73.31V71.99 M426.74,83.57V79.08 M407.46,80.27V79.46 M409.98,76.84V75.37 M414.88,84.71V83.06 M406.41,78.38V77.30 M428.04,84.89V79.50 M473.74,81.20V74.82 M404.35,77.54V74.95 M501.85,87.34V83.71 M455.35,75.77V73.67 M466.30,80.13V77.67 M437.37,88.09V81.54 M412.11,81.65V79.59 M459.48,78.22V74.02 M465.82,78.67V73.29 M483.40,77.18V71.07 M421.49,78.68V74.86 M435.29,75.13V71.18 M411.03,81.02V78.74 M408.76,80.24V78.10 M506.23,78.69V76.96 M401.57,71.16V68.64 M472.08,86.56V81.34 M474.64,81.18V78.43 M435.06,82.10V78.66 M469.31,83.37V78.26 M418.85,84.71V81.55 M496.72,77.07V71.58 M416.28,79.85V77.57 M446.48,77.40V75.18 M457.03,82.92V79.75 M447.03,88.20V83.47 M461.79,77.00V75.29 M477.15,74.77V69.57 M438.65,83.83V77.73 M410.86,77.64V76.00 M492.74,83.18V80.62 M405.49,72.58V71.90 M477.22,82.29V76.57 M484.63,74.32V71.74 M464.63,86.04V83.30 M504.53,74.48V69.56 M471.18,79.99V73.98 M460.77,82.96V78.45 M478.63,81.15V79.41 M419.78,79.94V77.06 M481.52,76.93V72.12 M466.38,84.61V82.07 M420.30,82.94V81.10 M477.60,84.81V82.95 M424.20,83.43V82.04 M423.85,82.38V77.42 M454.29,84.72V77.91 M484.84,74.46V70.84 M487.31,75.78V70.73 M418.44,85.43V81.92 M488.48,76.72V72.25 M465.92,83.91V82.04 M481.30,81.83V80.05 M418.84,80.54V77.25 M477.15,85.17V83.49 M494.49,80.69V77.90 M484.58,86.72V80.75 M461.77,85.25V78.86 M495.20,86.57V82.41 M432.06,82.65V76.19 M422.86,79.82V74.95 M490.87,78.96V72.37 M423.33,79.10V77.64 M415.03,83.21V81.31 M437.01,74.04V70.10 M438.41,85.70V80.15 M399.90,73.30V71.73 M474.92,83.71V81.54 M430.21,85.73V79.38 M429.81,79.17V73.30 M429.13,78.83V75.23 M483.30,80.51V76.60 M495.60,81.26V78.01 M489.35,79.09V74.01 M427.65,82.12V76.75 M500.30,78.84V73.36 M508.34,76.53V74.81 M479.69,76.13V69.57 M480.71,76.43V71.61 M474.28,84.35V80.35 M442.32,74.27V69.76 M483.10,76.78V70.84 M476.75,77.69V73.05 M436.30,75.83V70.21 M460.95,83.51V78.69 M406.21,78.06V76.06 M410.14,80.17V77.70 M453.82,84.64V81.56 M437.09,87.78V81.70 M468.05,87.09V85.05 M429.05,85.14V81.40 M433.14,76.43V72.16 M399.04,69.64V67.54 M478.27,77.23V74.57 M407.57,79.38V77.46 M468.87,87.57V82.38 M481.92,74.55V70.01 M469.26,84.39V79.98 M480.21,75.76V69.57 M451.34,83.01V78.52 M426.78,83.29V77.32 M490.52,82.19V75.57 M506.10,80.83V76.12 M428.50,81.02V75.87 M467.61,87.16V85.55 M447.93,84.20V78.29 M444.60,77.04V73.29 M434.12,83.36V80.25 M411.94,79.95V78.14 M447.08,75.25V71.45 M481.33,76.92V72.75 M439.07,84.36V77.35 M485.18,79.76V74.49 M475.93,73.95V69.57 M418.99,85.15V81.76 M475.23,76.97V73.29 M484.11,74.45V70.70 M421.26,84.68V83.17 M415.15,82.42V80.29 M479.88,79.21V72.37 M432.78,83.84V80.32 M439.45,79.00V76.43 M427.01,76.37V74.86 M479.42,83.14V78.78 M469.81,84.00V77.18 M413.78,81.79V79.19 M438.52,85.80V82.75 M483.49,82.31V78.95 M398.75,68.37V67.08 M435.06,84.38V78.09 M506.64,79.76V74.23 M408.97,80.98V78.94 M432.72,76.71V74.21 M466.43,84.87V79.46 M424.55,83.27V81.70 M451.13,87.42V82.37 M429.78,76.75V73.09 M406.78,75.67V74.82 M383.06,60.49V58.38 M454.82,84.42V79.63 M473.55,78.56V72.63 M467.60,79.00V75.27 M453.86,78.58V76.16 M439.07,85.76V81.66 M412.40,80.87V79.93 M449.83,77.30V73.01 M405.17,77.38V74.80 M499.93,76.23V72.98 M480.03,81.85V79.12 M423.91,87.68V86.06 M441.34,74.26V69.78 M458.73,84.08V82.48 M481.04,87.45V81.82 M468.58,86.69V81.14 M433.95,84.40V78.65 M453.52,86.41V79.82 M465.48,81.60V79.41 M507.86,80.75V74.32 M505.80,79.15V75.24 M426.98,82.91V80.96 M482.17,74.58V70.47 M507.35,78.67V75.50 M466.70,77.62V71.91 M506.31,83.39V80.90 M444.30,83.72V78.82 M480.44,83.88V79.17 M486.20,75.81V73.77 M405.42,76.05V74.03 M423.62,83.63V80.69 M451.48,87.54V83.46 M495.51,78.81V73.32 M475.32,74.40V72.41 M401.67,75.18V73.24 M472.79,76.43V72.38 M421.02,84.34V79.96 M478.87,75.64V71.32 M500.61,86.48V82.09 M462.93,75.71V71.30 M454.76,82.34V76.21 M403.40,73.36V71.99 M487.84,86.53V83.66 M496.70,76.79V71.93 M463.72,83.72V78.36 M408.41,79.18V77.17 M426.87,76.34V73.69 M467.25,87.67V85.10 M470.54,87.71V85.56 M463.50,82.41V80.61 M466.47,82.79V77.76 M493.22,73.00V69.57 M409.88,78.74V76.18 M484.28,80.70V74.22 M493.16,81.79V77.41 M417.88,84.67V81.51 M489.54,86.26V83.69 M477.77,87.49V84.47 M436.97,79.17V72.90 M399.30,73.33V72.21 M462.55,82.58V77.70 M457.33,79.17V75.35 M431.22,76.23V72.93 M399.15,73.25V70.76 M475.03,79.37V72.46 M489.72,86.13V83.20 M425.93,77.16V73.03 M474.19,80.62V78.72 M400.45,74.21V71.66 M436.22,75.67V70.21" stroke="#d0ffd0" stroke-width="0.4" fill="none" opacity="0.5"/>
<path d="M354.50,58.53 L355.27,58.50 L356.04,58.45 L356.81,58.35 L357.58,58.22 L358.35,58.05 L359.12,57.86 L359.89,57.66 L360.66,57.46 L361.43,57.26 L362.20,57.07 L362.97,56.89 L363.74,56.71 L364.51,56.54 L365.28,56.36 L366.05,56.18 L366.82,55.98 L367.59,55.76 L368.36,55.51 L369.13,55.21 L369.90,54.85 L370.67,54.41 L371.44,53.93 L372.21,53.44 L372.98,52.98 L373.75,52.62 L374.52,52.39 L375.29,52.32 L376.06,52.41 L376.83,52.65 L377.60,53.02 L378.37,53.48 L379.14,54.02 L379.91,54.66 L380.68,55.40 L381.45,56.20 L382.22,56.97 L382.99,57.70 L383.76,58.43 L384.53,59.31 L385.30,60.40 L386.07,61.59 L386.84,62.72 L387.61,63.68 L388.38,64.48 L389.15,65.18 L389.92,65.80 L390.69,66.37 L391.46,66.90 L392.23,67.39 L393.00,67.84 L393.77,68.27 L394.54,68.67 L395.31,69.05 L396.08,69.42 L396.85,69.76 L397.62,70.08 L398.39,70.40 L399.16,70.73 L399.93,71.08 L400.70,71.45 L401.47,71.87 L402.24,72.32 L403.01,72.82 L403.78,73.39 L404.55,74.02 L405.32,74.73 L406.09,75.48 L406.86,76.26 L407.63,77.02 L408.40,77.75 L409.17,78.41 L409.94,79.02 L410.71,79.57 L411.48,80.06 L412.25,80.48 L413.02,80.81 L413.79,81.07 L414.56,81.27 L415.33,81.43 L416.10,81.54 L416.87,81.59 L417.64,81.57 L418.41,81.46 L419.18,81.32 L419.95,81.16 L420.72,81.01 L421.49,80.88 L422.26,80.76 L423.03,80.65 L423.80,80.56 L424.57,80.48 L425.34,80.41 L426.11,80.35 L426.88,80.28 L427.65,80.22 L428.42,80.15 L429.19,80.08 L429.96,80.01 L430.73,79.94 L431.50,79.87 L432.27,79.81 L433.04,79.75 L433.81,79.70 L434.58,79.65 L435.35,79.61 L436.12,79.57 L436.89,79.53 L437.66,79.50 L438.43,79.47 L439.20,79.44 L439.97,79.42 L440.74,79.41 L441.51,79.39 L442.28,79.37 L443.05,79.35 L443.82,79.33 L444.59,79.30 L445.36,79.28 L446.13,79.25 L446.90,79.22 L447.67,79.19 L448.44,79.17 L449.21,79.14 L449.98,79.12 L450.75,79.10 L451.52,79.08 L452.29,79.06 L453.06,79.04 L453.83,79.03 L454.60,79.02 L455.37,79.02 L456.14,79.01 L456.91,79.00 L457.68,78.99 L458.45,78.99 L459.22,78.98 L459.99,78.97 L460.76,78.97 L461.53,78.96 L462.30,78.96 L463.07,78.95 L463.84,78.94 L464.61,78.94 L465.38,78.93 L466.15,78.92 L466.92,78.92 L467.69,78.91 L468.46,78.91 L469.23,78.90 L470.00,78.90 L470.77,78.89 L471.54,78.88 L472.31,78.88 L473.08,78.87 L473.85,78.87 L474.62,78.86 L475.39,78.86 L476.16,78.85 L476.93,78.85 L477.70,78.84 L478.47,78.84 L479.24,78.84 L480.01,78.83 L480.78,78.83 L481.55,78.82 L482.32,78.82 L483.09,78.81 L483.86,78.81 L484.63,78.81 L485.40,78.80 L486.17,78.80 L486.94,78.80 L487.71,78.79 L488.48,78.79 L489.25,78.79 L490.02,78.78 L490.79,78.78 L491.56,78.78 L492.33,78.78 L493.10,78.77 L493.87,78.77 L494.64,78.77 L495.41,78.77 L496.18,78.76 L496.95,78.76 L497.72,78.76 L498.49,78.76 L499.26,78.76 L500.03,78.76 L500.80,78.75 L501.57,78.75 L502.34,78.75 L503.11,78.75 L503.88,78.75 L504.65,78.75 L505.42,78.75 L506.19,78.75 L506.96,78.75 L507.73,78.75 L508.50,78.75" fill="none" stroke="#000" stroke-width="0.45" stroke-dasharray="3.5,2.2"/>
<path d="M354.50,66.98 L355.27,66.79 L356.04,66.35 L356.81,65.67 L357.58,64.95 L358.35,64.40 L359.12,64.08 L359.89,63.91 L360.66,63.80 L361.43,63.71 L362.20,63.63 L362.97,63.57 L363.74,63.50 L364.51,63.44 L365.28,63.37 L366.05,63.32 L366.82,63.26 L367.59,63.21 L368.36,63.15 L369.13,63.09 L369.90,63.00 L370.67,62.89 L371.44,62.74 L372.21,62.56 L372.98,62.35 L373.75,62.14 L374.52,61.93 L375.29,61.73 L376.06,61.54 L376.83,61.36 L377.60,61.23 L378.37,61.21 L379.14,61.37 L379.91,61.72 L380.68,62.31 L381.45,63.26 L382.22,64.51 L382.99,65.69 L383.76,66.59 L384.53,67.54 L385.30,68.86 L386.07,70.35 L386.84,71.60 L387.61,72.50 L388.38,73.21 L389.15,73.83 L389.92,74.40 L390.69,74.91 L391.46,75.34 L392.23,75.67 L393.00,75.91 L393.77,76.11 L394.54,76.31 L395.31,76.52 L396.08,76.76 L396.85,77.03 L397.62,77.33 L398.39,77.64 L399.16,77.99 L399.93,78.39 L400.70,78.85 L401.47,79.42 L402.24,80.10 L403.01,80.88 L403.78,81.76 L404.55,82.69 L405.32,83.65 L406.09,84.62 L406.86,85.57 L407.63,86.51 L408.40,87.46 L409.17,88.45 L409.94,89.51 L410.71,90.66 L411.48,91.88 L412.25,93.13 L413.02,94.38 L413.79,95.62 L414.56,96.76 L415.33,97.66 L416.10,98.25 L416.87,98.59 L417.64,98.87 L418.41,99.25 L419.18,99.83 L419.95,100.58 L420.72,101.45 L421.49,102.36 L422.26,103.21 L423.03,103.95 L423.80,104.58 L424.57,105.12 L425.34,105.62 L426.11,106.10 L426.88,106.53 L427.65,106.92 L428.42,107.24 L429.19,107.49 L429.96,107.66 L430.73,107.76 L431.50,107.82 L432.27,107.86 L433.04,107.90 L433.81,107.93 L434.58,107.96 L435.35,107.98 L436.12,108.00 L436.89,108.02 L437.66,108.03 L438.43,108.04 L439.20,108.05 L439.97,108.05 L440.74,108.05 L441.51,108.05 L442.28,108.05 L443.05,108.05 L443.82,108.05 L444.59,108.05 L445.36,108.05 L446.13,108.05 L446.90,108.05 L447.67,108.05 L448.44,108.05 L449.21,108.05 L449.98,108.05 L450.75,108.05 L451.52,108.05 L452.29,108.05 L453.06,108.05 L453.83,108.05 L454.60,108.04 L455.37,108.04 L456.14,108.04 L456.91,108.04 L457.68,108.04 L458.45,108.04 L459.22,108.03 L459.99,108.03 L460.76,108.03 L461.53,108.03 L462.30,108.02 L463.07,108.02 L463.84,108.02 L464.61,108.01 L465.38,108.01 L466.15,108.01 L466.92,108.00 L467.69,108.00 L468.46,107.99 L469.23,107.99 L470.00,107.98 L470.77,107.98 L471.54,107.97 L472.31,107.97 L473.08,107.96 L473.85,107.95 L474.62,107.95 L475.39,107.94 L476.16,107.93 L476.93,107.92 L477.70,107.91 L478.47,107.91 L479.24,107.90 L480.01,107.89 L480.78,107.88 L481.55,107.87 L482.32,107.86 L483.09,107.85 L483.86,107.83 L484.63,107.82 L485.40,107.81 L486.17,107.80 L486.94,107.78 L487.71,107.77 L488.48,107.76 L489.25,107.74 L490.02,107.73 L490.79,107.71 L491.56,107.70 L492.33,107.68 L493.10,107.66 L493.87,107.65 L494.64,107.63 L495.41,107.61 L496.18,107.59 L496.95,107.57 L497.72,107.55 L498.49,107.53 L499.26,107.51 L500.03,107.49 L500.80,107.47 L501.57,107.45 L502.34,107.42 L503.11,107.40 L503.88,107.38 L504.65,107.35 L505.42,107.33 L506.19,107.30 L506.96,107.27 L507.73,107.25 L508.50,107.23" fill="none" stroke="#2626ff" stroke-width="1.08" stroke-linejoin="round"/>
<path d="M354.50,49.10 L355.27,49.13 L356.04,49.21 L356.81,49.33 L357.58,49.43 L358.35,49.46 L359.12,49.37 L359.89,49.17 L360.66,48.95 L361.43,48.77 L362.20,48.71 L362.97,48.75 L363.74,48.85 L364.51,48.95 L365.28,48.98 L366.05,48.89 L366.82,48.62 L367.59,48.21 L368.36,47.68 L369.13,47.11 L369.90,46.54 L370.67,45.96 L371.44,45.36 L372.21,44.75 L372.98,44.17 L373.75,43.69 L374.52,43.38 L375.29,43.29 L376.06,43.41 L376.83,43.70 L377.60,44.11 L378.37,44.59 L379.14,45.12 L379.91,45.73 L380.68,46.40 L381.45,47.13 L382.22,47.87 L382.99,48.60 L383.76,49.30 L384.53,49.98 L385.30,50.64 L386.07,51.30 L386.84,51.95 L387.61,52.59 L388.38,53.23 L389.15,53.87 L389.92,54.50 L390.69,55.12 L391.46,55.73 L392.23,56.34 L393.00,56.95 L393.77,57.58 L394.54,58.22 L395.31,58.85 L396.08,59.42 L396.85,59.87 L397.62,60.18 L398.39,60.35 L399.16,60.44 L399.93,60.49 L400.70,60.54 L401.47,60.61 L402.24,60.74 L403.01,60.96 L403.78,61.33 L404.55,61.84 L405.32,62.48 L406.09,63.26 L406.86,64.17 L407.63,65.16 L408.40,66.15 L409.17,67.09 L409.94,67.95 L410.71,68.73 L411.48,69.38 L412.25,69.87 L413.02,70.11 L413.79,70.00 L414.56,69.58 L415.33,68.89 L416.10,68.01 L416.87,67.00 L417.64,65.97 L418.41,64.97 L419.18,64.00 L419.95,63.03 L420.72,62.06 L421.49,61.08 L422.26,60.12 L423.03,59.21 L423.80,58.36 L424.57,57.59 L425.34,56.87 L426.11,56.19 L426.88,55.53 L427.65,54.90 L428.42,54.29 L429.19,53.72 L429.96,53.21 L430.73,52.74 L431.50,52.32 L432.27,51.92 L433.04,51.55 L433.81,51.21 L434.58,50.91 L435.35,50.65 L436.12,50.45 L436.89,50.29 L437.66,50.17 L438.43,50.06 L439.20,49.97 L439.97,49.88 L440.74,49.80 L441.51,49.73 L442.28,49.68 L443.05,49.63 L443.82,49.60 L444.59,49.58 L445.36,49.57 L446.13,49.57 L446.90,49.57 L447.67,49.57 L448.44,49.57 L449.21,49.57 L449.98,49.57 L450.75,49.57 L451.52,49.57 L452.29,49.57 L453.06,49.57 L453.83,49.57 L454.60,49.57 L455.37,49.56 L456.14,49.54 L456.91,49.52 L457.68,49.48 L458.45,49.44 L459.22,49.40 L459.99,49.35 L460.76,49.30 L461.53,49.25 L462.30,49.20 L463.07,49.16 L463.84,49.11 L464.61,49.08 L465.38,49.04 L466.15,49.00 L466.92,48.96 L467.69,48.92 L468.46,48.88 L469.23,48.84 L470.00,48.80 L470.77,48.76 L471.54,48.73 L472.31,48.70 L473.08,48.67 L473.85,48.65 L474.62,48.63 L475.39,48.62 L476.16,48.62 L476.93,48.62 L477.70,48.63 L478.47,48.65 L479.24,48.68 L480.01,48.72 L480.78,48.75 L481.55,48.80 L482.32,48.85 L483.09,48.90 L483.86,48.95 L484.63,49.01 L485.40,49.06 L486.17,49.13 L486.94,49.21 L487.71,49.31 L488.48,49.42 L489.25,49.54 L490.02,49.67 L490.79,49.80 L491.56,49.92 L492.33,50.03 L493.10,50.13 L493.87,50.20 L494.64,50.25 L495.41,50.27 L496.18,50.28 L496.95,50.29 L497.72,50.29 L498.49,50.29 L499.26,50.29 L500.03,50.29 L500.80,50.29 L501.57,50.29 L502.34,50.28 L503.11,50.26 L503.88,50.22 L504.65,50.15 L505.42,50.06 L506.19,49.96 L506.96,49.84 L507.73,49.73 L508.50,49.64" fill="none" stroke="#2626ff" stroke-width="1.08" stroke-linejoin="round"/>
<path d="M354.50,63.17 L354.88,62.81 L355.27,62.34 L355.65,61.85 L356.04,61.38 L356.43,60.94 L356.81,60.54 L357.19,60.18 L357.58,59.86 L357.96,59.59 L358.35,59.35 L358.74,59.14 L359.12,58.95 L359.50,58.78 L359.89,58.64 L360.27,58.54 L360.66,58.47 L361.05,58.42 L361.43,58.39 L361.81,58.36 L362.20,58.35 L362.58,58.33 L362.97,58.31 L363.36,58.29 L363.74,58.27 L364.12,58.24 L364.51,58.20 L364.89,58.16 L365.28,58.11 L365.67,58.05 L366.05,57.98 L366.44,57.90 L366.82,57.81 L367.20,57.71 L367.59,57.60 L367.98,57.47 L368.36,57.31 L368.75,57.10 L369.13,56.85 L369.51,56.54 L369.90,56.20 L370.29,55.82 L370.67,55.42 L371.06,54.97 L371.44,54.48 L371.82,53.92 L372.21,53.33 L372.60,52.74 L372.98,52.17 L373.37,51.64 L373.75,51.14 L374.13,50.66 L374.52,50.23 L374.90,49.89 L375.29,49.68 L375.68,49.62 L376.06,49.71 L376.44,49.93 L376.83,50.24 L377.21,50.61 L377.60,51.00 L377.99,51.44 L378.37,51.92 L378.75,52.43 L379.14,52.93 L379.52,53.38 L379.91,53.74 L380.30,54.03 L380.68,54.25 L381.06,54.42 L381.45,54.58 L381.83,54.71 L382.22,54.84 L382.61,54.95 L382.99,55.05 L383.38,55.14 L383.76,55.23 L384.14,55.35 L384.53,55.51 L384.92,55.76 L385.30,56.10 L385.69,56.51 L386.07,56.98 L386.45,57.49 L386.84,58.04 L387.23,58.62 L387.61,59.22 L388.00,59.83 L388.38,60.44 L388.76,61.06 L389.15,61.69 L389.54,62.31 L389.92,62.93 L390.31,63.52 L390.69,64.09 L391.07,64.64 L391.46,65.16 L391.85,65.68 L392.23,66.21 L392.62,66.78 L393.00,67.43 L393.38,68.17 L393.77,69.01 L394.15,69.94 L394.54,70.90 L394.93,71.83 L395.31,72.68 L395.69,73.40 L396.08,73.96 L396.47,74.38 L396.85,74.69 L397.24,74.95 L397.62,75.18 L398.00,75.40 L398.39,75.62 L398.77,75.81 L399.16,75.96 L399.55,76.07 L399.93,76.15 L400.31,76.21 L400.70,76.26 L401.08,76.29 L401.47,76.31 L401.86,76.32 L402.24,76.32 L402.62,76.31 L403.01,76.27 L403.39,76.19 L403.78,76.02 L404.17,75.79 L404.55,75.51 L404.94,75.20 L405.32,74.88 L405.70,74.55 L406.09,74.20 L406.48,73.85 L406.86,73.49 L407.25,73.14 L407.63,72.81 L408.01,72.53 L408.40,72.34 L408.78,72.28 L409.17,72.34 L409.56,72.50 L409.94,72.74 L410.32,73.05 L410.71,73.46 L411.10,74.00 L411.48,74.63 L411.87,75.31 L412.25,75.97 L412.63,76.60 L413.02,77.20 L413.40,77.78 L413.79,78.34 L414.18,78.89 L414.56,79.42 L414.94,79.94 L415.33,80.41 L415.72,80.75 L416.10,80.93 L416.49,80.94 L416.87,80.83 L417.25,80.66 L417.64,80.51 L418.02,80.46 L418.41,80.55 L418.80,80.81 L419.18,81.20 L419.56,81.72 L419.95,82.36 L420.33,83.14 L420.72,84.06 L421.11,85.08 L421.49,86.17 L421.88,87.29 L422.26,88.44 L422.64,89.60 L423.03,90.74 L423.42,91.82 L423.80,92.86 L424.19,93.84 L424.57,94.78 L424.95,95.68 L425.34,96.55 L425.73,97.38 L426.11,98.18 L426.50,98.96 L426.88,99.70 L427.26,100.42 L427.65,101.13 L428.04,101.84 L428.42,102.49 L428.81,103.02 L429.19,103.32 L429.57,103.33 L429.96,103.09 L430.35,102.65 L430.73,102.10 L431.12,101.51 L431.50,100.90 L431.88,100.29 L432.27,99.65 L432.66,99.03 L433.04,98.44 L433.43,97.94 L433.81,97.52 L434.19,97.19 L434.58,96.92 L434.96,96.68 L435.35,96.44 L435.74,96.20 L436.12,95.92 L436.50,95.61 L436.89,95.27 L437.27,94.89 L437.66,94.50 L438.05,94.10 L438.43,93.70 L438.81,93.31 L439.20,92.93 L439.58,92.57 L439.97,92.20 L440.36,91.83 L440.74,91.43 L441.12,91.00 L441.51,90.52 L441.89,89.97 L442.28,89.37 L442.67,88.72 L443.05,88.04 L443.44,87.37 L443.82,86.70 L444.20,86.05 L444.59,85.41 L444.98,84.81 L445.36,84.29 L445.75,83.86 L446.13,83.53 L446.51,83.26 L446.90,83.04 L447.29,82.85 L447.67,82.72 L448.06,82.63 L448.44,82.60 L448.82,82.60 L449.21,82.64 L449.60,82.69 L449.98,82.75 L450.37,82.82 L450.75,82.88 L451.13,82.94 L451.52,83.00 L451.91,83.07 L452.29,83.13 L452.68,83.18 L453.06,83.21 L453.44,83.21 L453.83,83.16 L454.21,83.06 L454.60,82.91 L454.99,82.75 L455.37,82.60 L455.75,82.51 L456.14,82.52 L456.52,82.64 L456.91,82.90 L457.30,83.23 L457.68,83.59 L458.06,83.90 L458.45,84.09 L458.83,84.15 L459.22,84.06 L459.61,83.86 L459.99,83.58 L460.38,83.27 L460.76,82.97 L461.14,82.68 L461.53,82.43 L461.92,82.20 L462.30,81.98 L462.69,81.80 L463.07,81.67 L463.45,81.65 L463.84,81.74 L464.23,81.96 L464.61,82.24 L465.00,82.52 L465.38,82.70 L465.76,82.74 L466.15,82.63 L466.54,82.44 L466.92,82.28 L467.31,82.22 L467.69,82.35 L468.07,82.69 L468.46,83.24 L468.85,83.96 L469.23,84.84 L469.62,85.82 L470.00,86.89 L470.38,88.01 L470.77,89.14 L471.16,90.26 L471.54,91.33 L471.93,92.38 L472.31,93.41 L472.69,94.46 L473.08,95.52 L473.46,96.58 L473.85,97.61 L474.24,98.58 L474.62,99.50 L475.00,100.38 L475.39,101.20 L475.77,101.95 L476.16,102.60 L476.55,103.14 L476.93,103.58 L477.31,103.92 L477.70,104.18 L478.08,104.33 L478.47,104.31 L478.86,104.13 L479.24,103.78 L479.62,103.30 L480.01,102.68 L480.39,101.88 L480.78,100.87 L481.17,99.69 L481.55,98.40 L481.94,97.10 L482.32,95.84 L482.71,94.62 L483.09,93.44 L483.48,92.26 L483.86,91.10 L484.25,89.96 L484.63,88.82 L485.01,87.69 L485.40,86.55 L485.78,85.40 L486.17,84.29 L486.56,83.25 L486.94,82.33 L487.33,81.57 L487.71,80.97 L488.10,80.49 L488.48,80.09 L488.87,79.73 L489.25,79.39 L489.63,79.01 L490.02,78.60 L490.40,78.14 L490.79,77.62 L491.18,77.02 L491.56,76.29 L491.95,75.35 L492.33,74.18 L492.72,72.83 L493.10,71.47 L493.49,70.21 L493.87,69.10 L494.25,68.14 L494.64,67.38 L495.02,66.88 L495.41,66.62 L495.79,66.53 L496.18,66.51 L496.56,66.51 L496.95,66.55 L497.34,66.63 L497.72,66.79 L498.11,67.02 L498.49,67.31 L498.88,67.63 L499.26,67.96 L499.64,68.30 L500.03,68.65 L500.41,69.02 L500.80,69.40 L501.19,69.80 L501.57,70.21 L501.96,70.61 L502.34,71.02 L502.73,71.45 L503.11,71.88 L503.50,72.30 L503.88,72.69 L504.26,73.02 L504.65,73.30 L505.03,73.53 L505.42,73.72 L505.81,73.89 L506.19,74.03 L506.58,74.13 L506.96,74.18 L507.35,74.13 L507.73,73.94 L508.12,73.66 L508.50,73.39" fill="none" stroke="#ff2c20" stroke-width="1.0" stroke-linejoin="round"/>
<line x1="416.50" y1="15.860000000000001" x2="416.50" y2="132.2" stroke="#ffb6b6" stroke-width="1" stroke-dasharray="3.7,1.8" shape-rendering="crispEdges"/>
</g>
<rect x="354.5" y="15.46" width="154.0" height="116.73999999999998" fill="none" stroke="#8a8a8a" stroke-width="0.5"/>
<path d="M354.50,132.2v-1.9M354.50,15.46v1.9 M369.90,132.2v-1.9M369.90,15.46v1.9 M385.30,132.2v-1.9M385.30,15.46v1.9 M400.70,132.2v-1.9M400.70,15.46v1.9 M416.10,132.2v-1.9M416.10,15.46v1.9 M431.50,132.2v-1.9M431.50,15.46v1.9 M446.90,132.2v-1.9M446.90,15.46v1.9 M462.30,132.2v-1.9M462.30,15.46v1.9 M477.70,132.2v-1.9M477.70,15.46v1.9 M493.10,132.2v-1.9M493.10,15.46v1.9 M508.50,132.2v-1.9M508.50,15.46v1.9 M354.5,120.72h1.9M508.5,120.72h-1.9 M354.5,106.65h1.9M508.5,106.65h-1.9 M354.5,92.58h1.9M508.5,92.58h-1.9 M354.5,78.50h1.9M508.5,78.50h-1.9 M354.5,64.42h1.9M508.5,64.42h-1.9 M354.5,50.35h1.9M508.5,50.35h-1.9 M354.5,36.28h1.9M508.5,36.28h-1.9 M354.5,22.20h1.9M508.5,22.20h-1.9" stroke="#666" stroke-width="0.5" fill="none"/>
<text class="tk" x="354.50" y="137.29999999999998" text-anchor="middle">0</text>
<text class="tk" x="369.90" y="137.29999999999998" text-anchor="middle">0.1</text>
<text class="tk" x="385.30" y="137.29999999999998" text-anchor="middle">0.2</text>
<text class="tk" x="400.70" y="137.29999999999998" text-anchor="middle">0.3</text>
<text class="tk" x="416.10" y="137.29999999999998" text-anchor="middle">0.4</text>
<text class="tk" x="431.50" y="137.29999999999998" text-anchor="middle">0.5</text>
<text class="tk" x="446.90" y="137.29999999999998" text-anchor="middle">0.6</text>
<text class="tk" x="462.30" y="137.29999999999998" text-anchor="middle">0.7</text>
<text class="tk" x="477.70" y="137.29999999999998" text-anchor="middle">0.8</text>
<text class="tk" x="493.10" y="137.29999999999998" text-anchor="middle">0.9</text>
<text class="tk" x="508.50" y="137.29999999999998" text-anchor="middle">1</text>
<text class="tk" x="352.3" y="122.02" text-anchor="end">-1.5</text>
<text class="tk" x="352.3" y="107.95" text-anchor="end">-1</text>
<text class="tk" x="352.3" y="93.88" text-anchor="end">-0.5</text>
<text class="tk" x="352.3" y="79.80" text-anchor="end">0</text>
<text class="tk" x="352.3" y="65.72" text-anchor="end">0.5</text>
<text class="tk" x="352.3" y="51.65" text-anchor="end">1</text>
<text class="tk" x="352.3" y="37.58" text-anchor="end">1.5</text>
<text class="tk" x="352.3" y="23.50" text-anchor="end">2</text>
<text x="431.2" y="144.39999999999998" font-size="7.2" font-style="italic" text-anchor="middle" fill="#222">x</text>
<text transform="translate(432.5,10.56) scale(1.13,1)" font-size="9.9" text-anchor="middle" fill="#1c1c1c" stroke="#1c1c1c" stroke-width="0.12" letter-spacing="0.38"><tspan font-style="italic" font-size="10.2">μ</tspan><tspan font-size="6.2" dy="1.7">2</tspan><tspan dy="-1.7"> (SMC) J=10</tspan><tspan font-size="6.4" dy="-4.1">5</tspan></text>
<rect x="358.45" y="79.3" width="48.5" height="49.3" fill="#fff" stroke="#8c8c8c" stroke-width="0.55"/><line x1="360.34999999999997" y1="84.80" x2="370.54999999999995" y2="84.80" stroke="#ff4a4a" stroke-width="0.7"/><text transform="translate(371.95,87.20) scale(1.12,1)" font-size="8.0" fill="#3a3a3a" letter-spacing="0.12">u<tspan font-size="4.40" dy="-2.88">†</tspan><tspan dy="2.88"> (truth)</tspan></text><line x1="360.34999999999997" y1="94.40" x2="370.54999999999995" y2="94.40" stroke="#4646ff" stroke-width="0.8"/><text transform="translate(371.95,96.80) scale(1.12,1)" font-size="8.0" fill="#3a3a3a" letter-spacing="0.12"><tspan font-style="italic">P</tspan><tspan font-size="5.60" dy="1.60" dx="-0.3" letter-spacing="0">02</tspan></text><line x1="360.34999999999997" y1="104.00" x2="370.54999999999995" y2="104.00" stroke="#a8a8ff" stroke-width="1.5"/><text transform="translate(371.95,106.40) scale(1.12,1)" font-size="8.0" fill="#3a3a3a" letter-spacing="0.12"><tspan font-style="italic">P</tspan><tspan font-size="5.60" dy="1.60" dx="-0.3" letter-spacing="0">98</tspan></text><rect x="360.34999999999997" y="109.90" width="10.2" height="7.4" fill="#00ff00"/><text transform="translate(371.95,116.00) scale(1.12,1)" font-size="8.0" fill="#3a3a3a" letter-spacing="0.12"><tspan font-style="italic">P</tspan><tspan font-size="5.60" dy="1.60" dx="-0.3" letter-spacing="0">25</tspan><tspan dy="-1.60"> − </tspan><tspan font-style="italic">P</tspan><tspan font-size="5.60" dy="1.60" dx="-0.3" letter-spacing="0">75</tspan></text><line x1="360.34999999999997" y1="123.20" x2="370.54999999999995" y2="123.20" stroke="#444" stroke-width="0.7" stroke-dasharray="4.2,1.6"/><text transform="translate(371.95,125.60) scale(1.12,1)" font-size="8.0" fill="#3a3a3a" letter-spacing="0.12"><tspan font-style="italic">P</tspan><tspan font-size="5.60" dy="1.60" dx="-0.3" letter-spacing="0">50</tspan></text>
<clipPath id="cp3"><rect x="8.34" y="170.4" width="154.0" height="116.79999999999998"/></clipPath>
<g clip-path="url(#cp3)">
<path d="M8.34,211.05 L9.11,211.03 L9.88,210.99 L10.65,210.91 L11.42,210.81 L12.19,210.67 L12.96,210.51 L13.73,210.34 L14.50,210.18 L15.27,210.02 L16.04,209.87 L16.81,209.74 L17.58,209.62 L18.35,209.50 L19.12,209.39 L19.89,209.27 L20.66,209.15 L21.43,209.00 L22.20,208.83 L22.97,208.62 L23.74,208.33 L24.51,207.98 L25.28,207.56 L26.05,207.12 L26.82,206.70 L27.59,206.35 L28.36,206.11 L29.13,206.03 L29.90,206.10 L30.67,206.33 L31.44,206.67 L32.21,207.10 L32.98,207.59 L33.75,208.11 L34.52,208.67 L35.29,209.26 L36.06,209.90 L36.83,210.57 L37.60,211.26 L38.37,211.95 L39.14,212.65 L39.91,213.34 L40.68,214.04 L41.45,214.73 L42.22,215.43 L42.99,216.13 L43.76,216.84 L44.53,217.56 L45.30,218.28 L46.07,218.97 L46.84,219.59 L47.61,220.12 L48.38,220.54 L49.15,220.88 L49.92,221.14 L50.69,221.36 L51.46,221.55 L52.23,221.73 L53.00,221.91 L53.77,222.10 L54.54,222.31 L55.31,222.53 L56.08,222.78 L56.85,223.06 L57.62,223.39 L58.39,223.81 L59.16,224.31 L59.93,224.90 L60.70,225.56 L61.47,226.26 L62.24,227.01 L63.01,227.80 L63.78,228.63 L64.55,229.50 L65.32,230.37 L66.09,231.23 L66.86,232.05 L67.63,232.84 L68.40,233.59 L69.17,234.30 L69.94,235.00 L70.71,235.73 L71.48,236.53 L72.25,237.40 L73.02,238.35 L73.79,239.37 L74.56,240.44 L75.33,241.56 L76.10,242.70 L76.87,243.82 L77.64,244.86 L78.41,245.76 L79.18,246.47 L79.95,247.02 L80.72,247.44 L81.49,247.79 L82.26,248.07 L83.03,248.28 L83.80,248.42 L84.57,248.47 L85.34,248.42 L86.11,248.27 L86.88,248.02 L87.65,247.69 L88.42,247.29 L89.19,246.82 L89.96,246.29 L90.73,245.69 L91.50,245.05 L92.27,244.36 L93.04,243.63 L93.81,242.86 L94.58,242.07 L95.35,241.25 L96.12,240.42 L96.89,239.58 L97.66,238.74 L98.43,237.90 L99.20,237.09 L99.97,236.29 L100.74,235.52 L101.51,234.77 L102.28,234.06 L103.05,233.39 L103.82,232.75 L104.59,232.15 L105.36,231.59 L106.13,231.06 L106.90,230.56 L107.67,230.09 L108.44,229.65 L109.21,229.22 L109.98,228.81 L110.75,228.42 L111.52,228.04 L112.29,227.68 L113.06,227.34 L113.83,227.01 L114.60,226.70 L115.37,226.41 L116.14,226.14 L116.91,225.89 L117.68,225.65 L118.45,225.43 L119.22,225.23 L119.99,225.04 L120.76,224.86 L121.53,224.69 L122.30,224.53 L123.07,224.39 L123.84,224.27 L124.61,224.18 L125.38,224.13 L126.15,224.10 L126.92,224.08 L127.69,224.06 L128.46,224.04 L129.23,224.01 L130.00,223.97 L130.77,223.93 L131.54,223.88 L132.31,223.84 L133.08,223.81 L133.85,223.78 L134.62,223.76 L135.39,223.75 L136.16,223.75 L136.93,223.75 L137.70,223.74 L138.47,223.74 L139.24,223.74 L140.01,223.74 L140.78,223.74 L141.55,223.74 L142.32,223.74 L143.09,223.75 L143.86,223.75 L144.63,223.76 L145.40,223.77 L146.17,223.79 L146.94,223.82 L147.71,223.86 L148.48,223.89 L149.25,223.93 L150.02,223.97 L150.79,224.01 L151.56,224.04 L152.33,224.08 L153.10,224.11 L153.87,224.15 L154.64,224.18 L155.41,224.22 L156.18,224.25 L156.95,224.29 L157.72,224.32 L158.49,224.35 L159.26,224.38 L160.03,224.40 L160.80,224.42 L161.57,224.43 L162.34,224.43 L162.34,243.09 L161.57,243.10 L160.80,243.12 L160.03,243.14 L159.26,243.17 L158.49,243.20 L157.72,243.24 L156.95,243.28 L156.18,243.32 L155.41,243.35 L154.64,243.38 L153.87,243.40 L153.10,243.42 L152.33,243.43 L151.56,243.43 L150.79,243.43 L150.02,243.43 L149.25,243.43 L148.48,243.43 L147.71,243.43 L146.94,243.43 L146.17,243.43 L145.40,243.43 L144.63,243.43 L143.86,243.43 L143.09,243.43 L142.32,243.43 L141.55,243.43 L140.78,243.43 L140.01,243.43 L139.24,243.43 L138.47,243.43 L137.70,243.43 L136.93,243.43 L136.16,243.43 L135.39,243.44 L134.62,243.44 L133.85,243.45 L133.08,243.47 L132.31,243.48 L131.54,243.50 L130.77,243.52 L130.00,243.55 L129.23,243.56 L128.46,243.58 L127.69,243.58 L126.92,243.56 L126.15,243.53 L125.38,243.52 L124.61,243.53 L123.84,243.59 L123.07,243.68 L122.30,243.80 L121.53,243.93 L120.76,244.06 L119.99,244.20 L119.22,244.32 L118.45,244.45 L117.68,244.57 L116.91,244.70 L116.14,244.82 L115.37,244.96 L114.60,245.11 L113.83,245.28 L113.06,245.45 L112.29,245.64 L111.52,245.85 L110.75,246.06 L109.98,246.29 L109.21,246.52 L108.44,246.75 L107.67,247.00 L106.90,247.26 L106.13,247.51 L105.36,247.78 L104.59,248.03 L103.82,248.29 L103.05,248.54 L102.28,248.78 L101.51,249.03 L100.74,249.28 L99.97,249.54 L99.20,249.81 L98.43,250.10 L97.66,250.39 L96.89,250.70 L96.12,251.03 L95.35,251.36 L94.58,251.72 L93.81,252.08 L93.04,252.45 L92.27,252.83 L91.50,253.20 L90.73,253.57 L89.96,253.93 L89.19,254.25 L88.42,254.51 L87.65,254.69 L86.88,254.78 L86.11,254.82 L85.34,254.82 L84.57,254.79 L83.80,254.73 L83.03,254.59 L82.26,254.37 L81.49,254.07 L80.72,253.67 L79.95,253.19 L79.18,252.59 L78.41,251.84 L77.64,250.92 L76.87,249.88 L76.10,248.77 L75.33,247.65 L74.56,246.54 L73.79,245.47 L73.02,244.45 L72.25,243.49 L71.48,242.60 L70.71,241.78 L69.94,241.01 L69.17,240.26 L68.40,239.50 L67.63,238.70 L66.86,237.86 L66.09,236.98 L65.32,236.09 L64.55,235.18 L63.78,234.28 L63.01,233.40 L62.24,232.55 L61.47,231.75 L60.70,231.00 L59.93,230.32 L59.16,229.69 L58.39,229.12 L57.62,228.60 L56.85,228.14 L56.08,227.74 L55.31,227.44 L54.54,227.24 L53.77,227.12 L53.00,227.05 L52.23,227.01 L51.46,226.98 L50.69,226.96 L49.92,226.91 L49.15,226.83 L48.38,226.66 L47.61,226.35 L46.84,225.88 L46.07,225.24 L45.30,224.49 L44.53,223.68 L43.76,222.86 L42.99,222.07 L42.22,221.28 L41.45,220.50 L40.68,219.72 L39.91,218.95 L39.14,218.19 L38.37,217.43 L37.60,216.68 L36.83,215.94 L36.06,215.23 L35.29,214.56 L34.52,213.94 L33.75,213.37 L32.98,212.84 L32.21,212.35 L31.44,211.92 L30.67,211.57 L29.90,211.35 L29.13,211.29 L28.36,211.39 L27.59,211.65 L26.82,212.03 L26.05,212.49 L25.28,212.97 L24.51,213.42 L23.74,213.80 L22.97,214.10 L22.20,214.32 L21.43,214.50 L20.66,214.64 L19.89,214.77 L19.12,214.88 L18.35,215.00 L17.58,215.11 L16.81,215.23 L16.04,215.36 L15.27,215.51 L14.50,215.67 L13.73,215.83 L12.96,216.00 L12.19,216.16 L11.42,216.30 L10.65,216.40 L9.88,216.48 L9.11,216.52 L8.34,216.54 Z" fill="#00ff00" stroke="#00ee00" stroke-width="0.3"/>
<path d="M152.82,241.30V239.58 M116.74,239.15V235.23 M142.51,233.08V227.25 M122.10,236.28V232.93 M109.59,233.84V229.74 M138.06,238.84V236.25 M115.46,237.30V230.93 M158.36,228.91V227.34 M124.86,234.51V232.03 M137.77,231.02V226.72 M146.66,238.04V233.13 M100.15,247.52V243.88 M119.08,242.67V238.12 M111.29,234.80V232.05 M100.79,248.34V243.83 M134.95,235.61V231.76 M104.15,241.84V238.30 M139.30,236.64V230.34 M94.71,251.42V249.22 M158.64,231.13V226.55 M114.23,232.83V228.15 M156.31,241.98V237.42 M103.71,239.89V238.38 M107.87,238.31V236.92 M136.23,237.40V231.99 M140.73,232.26V229.66 M102.84,238.25V234.75 M131.80,237.02V230.91 M118.83,234.94V230.74 M151.05,236.78V230.26 M106.69,237.63V232.62 M122.92,241.92V235.33 M89.59,248.07V246.68 M95.32,247.08V244.50 M109.33,241.75V240.27 M99.97,240.13V236.69 M157.78,240.78V238.00 M142.19,242.76V239.67 M128.88,238.97V236.90 M118.71,234.05V229.20 M148.47,236.27V231.80 M123.56,242.02V237.28 M146.76,235.79V229.89 M142.84,229.48V225.25 M116.68,243.53V238.92 M99.31,239.74V237.47 M139.77,235.98V229.35 M140.18,235.80V229.39 M130.03,228.43V226.80 M136.75,233.94V228.00 M104.70,245.68V240.37 M114.74,237.49V232.39 M153.51,240.60V237.12 M105.55,241.70V238.24 M135.71,241.62V238.79 M119.44,239.19V235.40 M120.24,243.56V238.83 M153.18,232.58V227.24 M99.83,247.24V242.97 M130.32,238.34V232.76 M149.04,231.78V229.91 M145.40,239.78V235.36 M99.50,243.45V242.36 M160.22,231.93V225.77 M103.24,238.82V237.37 M96.07,246.17V244.30 M154.18,232.44V226.80 M160.96,228.72V224.98 M149.37,239.28V232.88 M140.21,229.24V224.34 M142.90,227.97V224.34 M115.57,238.40V235.99 M156.11,232.08V229.70 M109.75,234.58V232.00 M120.58,235.44V228.89 M95.91,245.73V242.45 M116.47,230.79V226.70 M108.83,242.04V236.06 M92.60,250.64V249.30 M133.22,234.47V228.71 M118.11,231.34V229.57 M148.66,239.34V235.67 M133.52,232.15V226.90 M137.28,232.57V225.78 M145.58,229.77V224.36 M148.25,229.29V224.48 M104.81,245.51V240.93 M97.25,248.38V246.55 M113.89,233.42V229.25 M119.80,236.24V231.12 M101.72,246.10V242.89 M137.07,239.92V235.44 M142.20,238.56V235.06 M161.31,241.87V238.82 M99.99,248.56V244.92 M145.00,228.01V225.74 M109.21,245.46V243.21 M136.47,232.77V230.86 M134.15,233.07V228.47 M121.90,231.91V230.15 M141.05,232.78V228.01 M137.52,232.27V228.55 M88.59,249.44V248.82 M154.02,235.15V231.39 M99.71,239.02V236.69 M150.12,231.25V229.57 M159.36,232.74V229.94 M106.42,242.97V238.13 M149.19,233.46V226.96 M160.12,241.40V236.91 M140.06,235.70V232.88 M129.63,233.08V228.47 M148.89,235.41V231.17 M153.04,235.64V232.57 M146.05,234.19V228.11 M90.98,248.65V246.65 M103.77,243.06V239.25 M105.36,235.05V232.07 M105.15,243.90V239.75 M144.11,242.78V240.27 M128.74,236.36V230.26 M116.97,242.46V237.05 M102.22,240.89V236.25 M90.73,251.27V250.24 M158.15,238.16V234.68 M140.45,229.79V224.34 M90.00,248.72V248.06 M94.23,248.38V246.64 M161.86,228.87V224.99 M130.84,237.35V235.68 M114.79,236.09V234.58 M109.34,236.69V232.34 M123.22,228.32V224.97 M135.42,234.75V233.05 M129.78,231.58V225.37 M101.30,240.67V236.16 M110.00,244.04V240.11 M130.68,233.84V229.24 M91.39,250.62V249.51 M96.47,246.32V244.37 M113.92,233.88V228.13 M95.75,244.73V241.34 M126.99,238.25V235.63 M143.93,231.32V227.16 M123.11,230.92V226.44 M129.34,242.49V235.97 M142.92,232.58V226.34 M154.76,229.66V226.83 M103.72,239.70V238.12 M88.10,253.11V251.29 M130.40,241.13V237.80 M114.48,241.31V235.24 M108.07,239.14V233.54 M130.25,231.56V229.77 M158.15,240.72V235.24 M161.42,240.19V233.73 M134.67,242.81V240.86 M137.40,229.50V224.42 M112.54,235.00V231.04 M152.40,232.53V227.68 M91.39,248.03V246.19 M161.93,229.45V226.75 M107.04,238.81V233.07 M118.80,230.05V226.19 M116.99,243.49V240.05 M149.10,237.27V231.62 M104.13,236.19V233.75 M150.83,228.50V225.85 M146.95,233.13V229.12 M130.14,232.25V226.69 M141.53,240.72V235.24 M111.88,238.29V232.27 M129.61,229.54V227.91 M106.92,245.63V243.04 M152.02,232.01V226.50 M146.22,233.40V227.95 M136.54,235.60V230.15 M89.96,251.85V250.91 M142.84,239.65V238.06 M92.01,247.57V246.54 M88.39,252.61V251.87 M128.05,236.44V230.90 M162.16,238.84V236.28 M129.41,234.33V231.71 M100.76,242.72V241.59 M154.14,232.25V225.53 M103.45,244.99V242.19 M141.26,232.13V228.78 M132.24,233.49V229.57 M115.36,236.03V233.18 M160.47,240.03V236.49 M92.57,248.91V246.85 M122.47,236.41V230.50 M149.37,229.09V224.52 M98.00,245.24V243.42 M91.10,247.60V245.93 M135.12,239.00V233.43 M130.91,241.09V235.42 M111.54,244.78V242.09 M92.55,251.33V249.57 M118.55,233.96V230.48 M123.08,238.34V235.59 M144.07,240.72V236.59 M139.76,236.06V232.43 M129.08,241.30V236.28 M123.81,228.57V224.85 M124.11,228.65V224.85 M100.97,243.46V239.26 M144.37,236.88V233.30" stroke="#d0ffd0" stroke-width="0.4" fill="none" opacity="0.5"/>
<path d="M8.34,213.79 L9.11,213.77 L9.88,213.73 L10.65,213.66 L11.42,213.55 L12.19,213.41 L12.96,213.26 L13.73,213.09 L14.50,212.92 L15.27,212.76 L16.04,212.62 L16.81,212.48 L17.58,212.36 L18.35,212.25 L19.12,212.14 L19.89,212.02 L20.66,211.89 L21.43,211.75 L22.20,211.58 L22.97,211.36 L23.74,211.07 L24.51,210.70 L25.28,210.27 L26.05,209.81 L26.82,209.37 L27.59,209.00 L28.36,208.75 L29.13,208.66 L29.90,208.73 L30.67,208.95 L31.44,209.30 L32.21,209.73 L32.98,210.21 L33.75,210.74 L34.52,211.31 L35.29,211.91 L36.06,212.57 L36.83,213.26 L37.60,213.97 L38.37,214.69 L39.14,215.42 L39.91,216.15 L40.68,216.88 L41.45,217.62 L42.22,218.36 L42.99,219.10 L43.76,219.85 L44.53,220.62 L45.30,221.38 L46.07,222.10 L46.84,222.73 L47.61,223.24 L48.38,223.60 L49.15,223.85 L49.92,224.03 L50.69,224.16 L51.46,224.27 L52.23,224.37 L53.00,224.48 L53.77,224.61 L54.54,224.77 L55.31,224.99 L56.08,225.26 L56.85,225.60 L57.62,226.00 L58.39,226.47 L59.16,227.00 L59.93,227.61 L60.70,228.28 L61.47,229.00 L62.24,229.78 L63.01,230.60 L63.78,231.46 L64.55,232.34 L65.32,233.23 L66.09,234.10 L66.86,234.95 L67.63,235.77 L68.40,236.54 L69.17,237.28 L69.94,238.01 L70.71,238.76 L71.48,239.57 L72.25,240.45 L73.02,241.40 L73.79,242.42 L74.56,243.49 L75.33,244.60 L76.10,245.73 L76.87,246.85 L77.64,247.89 L78.41,248.80 L79.18,249.53 L79.95,250.10 L80.72,250.56 L81.49,250.93 L82.26,251.22 L83.03,251.44 L83.80,251.57 L84.57,251.63 L85.34,251.62 L86.11,251.54 L86.88,251.40 L87.65,251.19 L88.42,250.90 L89.19,250.54 L89.96,250.11 L90.73,249.63 L91.50,249.12 L92.27,248.59 L93.04,248.04 L93.81,247.47 L94.58,246.89 L95.35,246.31 L96.12,245.73 L96.89,245.14 L97.66,244.57 L98.43,244.00 L99.20,243.45 L99.97,242.91 L100.74,242.40 L101.51,241.90 L102.28,241.42 L103.05,240.96 L103.82,240.52 L104.59,240.09 L105.36,239.68 L106.13,239.29 L106.90,238.91 L107.67,238.55 L108.44,238.20 L109.21,237.87 L109.98,237.55 L110.75,237.24 L111.52,236.94 L112.29,236.66 L113.06,236.39 L113.83,236.14 L114.60,235.91 L115.37,235.69 L116.14,235.48 L116.91,235.29 L117.68,235.11 L118.45,234.94 L119.22,234.78 L119.99,234.62 L120.76,234.46 L121.53,234.31 L122.30,234.16 L123.07,234.03 L123.84,233.93 L124.61,233.86 L125.38,233.82 L126.15,233.82 L126.92,233.82 L127.69,233.82 L128.46,233.81 L129.23,233.79 L130.00,233.76 L130.77,233.73 L131.54,233.69 L132.31,233.66 L133.08,233.64 L133.85,233.62 L134.62,233.60 L135.39,233.59 L136.16,233.59 L136.93,233.59 L137.70,233.59 L138.47,233.59 L139.24,233.59 L140.01,233.59 L140.78,233.59 L141.55,233.59 L142.32,233.59 L143.09,233.59 L143.86,233.59 L144.63,233.60 L145.40,233.60 L146.17,233.61 L146.94,233.63 L147.71,233.64 L148.48,233.66 L149.25,233.68 L150.02,233.70 L150.79,233.72 L151.56,233.74 L152.33,233.75 L153.10,233.77 L153.87,233.78 L154.64,233.78 L155.41,233.78 L156.18,233.79 L156.95,233.78 L157.72,233.78 L158.49,233.78 L159.26,233.77 L160.03,233.77 L160.80,233.77 L161.57,233.76 L162.34,233.76" fill="none" stroke="#000" stroke-width="0.45" stroke-dasharray="3.5,2.2"/>
<path d="M8.34,221.52 L9.11,221.38 L9.88,221.02 L10.65,220.43 L11.42,219.76 L12.19,219.23 L12.96,218.93 L13.73,218.78 L14.50,218.70 L15.27,218.64 L16.04,218.59 L16.81,218.55 L17.58,218.50 L18.35,218.45 L19.12,218.39 L19.89,218.34 L20.66,218.29 L21.43,218.23 L22.20,218.17 L22.97,218.11 L23.74,218.02 L24.51,217.92 L25.28,217.78 L26.05,217.60 L26.82,217.40 L27.59,217.18 L28.36,216.97 L29.13,216.77 L29.90,216.58 L30.67,216.40 L31.44,216.25 L32.21,216.18 L32.98,216.24 L33.75,216.49 L34.52,216.93 L35.29,217.55 L36.06,218.35 L36.83,219.34 L37.60,220.43 L38.37,221.54 L39.14,222.64 L39.91,223.72 L40.68,224.78 L41.45,225.77 L42.22,226.68 L42.99,227.51 L43.76,228.26 L44.53,228.93 L45.30,229.50 L46.07,229.96 L46.84,230.33 L47.61,230.64 L48.38,230.90 L49.15,231.12 L49.92,231.33 L50.69,231.51 L51.46,231.71 L52.23,231.92 L53.00,232.15 L53.77,232.40 L54.54,232.68 L55.31,233.01 L56.08,233.40 L56.85,233.85 L57.62,234.35 L58.39,234.88 L59.16,235.43 L59.93,235.98 L60.70,236.54 L61.47,237.13 L62.24,237.76 L63.01,238.45 L63.78,239.19 L64.55,240.00 L65.32,240.88 L66.09,241.84 L66.86,242.89 L67.63,244.01 L68.40,245.22 L69.17,246.49 L69.94,247.80 L70.71,249.12 L71.48,250.43 L72.25,251.64 L73.02,252.70 L73.79,253.60 L74.56,254.38 L75.33,255.10 L76.10,255.78 L76.87,256.41 L77.64,256.95 L78.41,257.38 L79.18,257.72 L79.95,258.00 L80.72,258.24 L81.49,258.46 L82.26,258.68 L83.03,258.89 L83.80,259.13 L84.57,259.40 L85.34,259.72 L86.11,260.07 L86.88,260.41 L87.65,260.73 L88.42,261.00 L89.19,261.23 L89.96,261.39 L90.73,261.46 L91.50,261.41 L92.27,261.25 L93.04,261.04 L93.81,260.89 L94.58,260.86 L95.35,261.01 L96.12,261.30 L96.89,261.64 L97.66,261.96 L98.43,262.23 L99.20,262.46 L99.97,262.66 L100.74,262.82 L101.51,262.97 L102.28,263.09 L103.05,263.20 L103.82,263.29 L104.59,263.37 L105.36,263.44 L106.13,263.50 L106.90,263.56 L107.67,263.61 L108.44,263.66 L109.21,263.71 L109.98,263.74 L110.75,263.77 L111.52,263.79 L112.29,263.80 L113.06,263.80 L113.83,263.79 L114.60,263.76 L115.37,263.73 L116.14,263.68 L116.91,263.63 L117.68,263.57 L118.45,263.51 L119.22,263.44 L119.99,263.38 L120.76,263.30 L121.53,263.23 L122.30,263.16 L123.07,263.10 L123.84,263.03 L124.61,262.97 L125.38,262.92 L126.15,262.88 L126.92,262.84 L127.69,262.81 L128.46,262.80 L129.23,262.79 L130.00,262.78 L130.77,262.78 L131.54,262.78 L132.31,262.78 L133.08,262.78 L133.85,262.78 L134.62,262.78 L135.39,262.78 L136.16,262.78 L136.93,262.78 L137.70,262.78 L138.47,262.78 L139.24,262.79 L140.01,262.79 L140.78,262.81 L141.55,262.83 L142.32,262.87 L143.09,262.91 L143.86,262.96 L144.63,263.02 L145.40,263.07 L146.17,263.13 L146.94,263.18 L147.71,263.23 L148.48,263.26 L149.25,263.29 L150.02,263.30 L150.79,263.29 L151.56,263.26 L152.33,263.21 L153.10,263.13 L153.87,263.04 L154.64,262.93 L155.41,262.82 L156.18,262.71 L156.95,262.60 L157.72,262.50 L158.49,262.41 L159.26,262.34 L160.03,262.29 L160.80,262.27 L161.57,262.26 L162.34,262.25" fill="none" stroke="#2626ff" stroke-width="1.08" stroke-linejoin="round"/>
<path d="M8.34,203.38 L9.11,203.41 L9.88,203.50 L10.65,203.65 L11.42,203.84 L12.19,204.02 L12.96,204.18 L13.73,204.32 L14.50,204.43 L15.27,204.51 L16.04,204.55 L16.81,204.56 L17.58,204.57 L18.35,204.56 L19.12,204.53 L19.89,204.42 L20.66,204.19 L21.43,203.80 L22.20,203.30 L22.97,202.73 L23.74,202.14 L24.51,201.53 L25.28,200.87 L26.05,200.18 L26.82,199.49 L27.59,198.89 L28.36,198.48 L29.13,198.30 L29.90,198.37 L30.67,198.63 L31.44,199.02 L32.21,199.49 L32.98,200.01 L33.75,200.60 L34.52,201.26 L35.29,201.97 L36.06,202.71 L36.83,203.45 L37.60,204.15 L38.37,204.83 L39.14,205.49 L39.91,206.14 L40.68,206.79 L41.45,207.45 L42.22,208.14 L42.99,208.87 L43.76,209.64 L44.53,210.42 L45.30,211.15 L46.07,211.77 L46.84,212.25 L47.61,212.59 L48.38,212.84 L49.15,213.03 L49.92,213.19 L50.69,213.32 L51.46,213.44 L52.23,213.54 L53.00,213.65 L53.77,213.77 L54.54,213.90 L55.31,214.06 L56.08,214.25 L56.85,214.50 L57.62,214.82 L58.39,215.25 L59.16,215.80 L59.93,216.48 L60.70,217.33 L61.47,218.37 L62.24,219.61 L63.01,220.95 L63.78,222.30 L64.55,223.62 L65.32,224.85 L66.09,225.94 L66.86,226.87 L67.63,227.63 L68.40,228.20 L69.17,228.61 L69.94,228.90 L70.71,229.17 L71.48,229.48 L72.25,229.84 L73.02,230.29 L73.79,230.86 L74.56,231.58 L75.33,232.45 L76.10,233.46 L76.87,234.61 L77.64,235.86 L78.41,237.13 L79.18,238.34 L79.95,239.50 L80.72,240.58 L81.49,241.55 L82.26,242.32 L83.03,242.86 L83.80,243.21 L84.57,243.40 L85.34,243.48 L86.11,243.39 L86.88,243.11 L87.65,242.68 L88.42,242.19 L89.19,241.66 L89.96,241.10 L90.73,240.51 L91.50,239.89 L92.27,239.23 L93.04,238.54 L93.81,237.79 L94.58,236.92 L95.35,235.86 L96.12,234.57 L96.89,233.06 L97.66,231.39 L98.43,229.63 L99.20,227.85 L99.97,226.12 L100.74,224.54 L101.51,223.13 L102.28,221.86 L103.05,220.68 L103.82,219.58 L104.59,218.54 L105.36,217.56 L106.13,216.63 L106.90,215.70 L107.67,214.70 L108.44,213.60 L109.21,212.50 L109.98,211.56 L110.75,210.80 L111.52,210.17 L112.29,209.63 L113.06,209.15 L113.83,208.73 L114.60,208.34 L115.37,207.97 L116.14,207.62 L116.91,207.29 L117.68,206.96 L118.45,206.65 L119.22,206.36 L119.99,206.09 L120.76,205.84 L121.53,205.61 L122.30,205.42 L123.07,205.25 L123.84,205.11 L124.61,204.98 L125.38,204.87 L126.15,204.76 L126.92,204.66 L127.69,204.57 L128.46,204.49 L129.23,204.42 L130.00,204.37 L130.77,204.33 L131.54,204.32 L132.31,204.32 L133.08,204.33 L133.85,204.36 L134.62,204.40 L135.39,204.45 L136.16,204.51 L136.93,204.57 L137.70,204.64 L138.47,204.71 L139.24,204.79 L140.01,204.88 L140.78,204.98 L141.55,205.11 L142.32,205.25 L143.09,205.41 L143.86,205.56 L144.63,205.72 L145.40,205.86 L146.17,205.98 L146.94,206.08 L147.71,206.15 L148.48,206.20 L149.25,206.24 L150.02,206.28 L150.79,206.31 L151.56,206.34 L152.33,206.37 L153.10,206.39 L153.87,206.41 L154.64,206.42 L155.41,206.41 L156.18,206.37 L156.95,206.28 L157.72,206.15 L158.49,206.00 L159.26,205.86 L160.03,205.74 L160.80,205.67 L161.57,205.64 L162.34,205.63" fill="none" stroke="#2626ff" stroke-width="1.08" stroke-linejoin="round"/>
<path d="M8.34,218.17 L8.72,217.81 L9.11,217.34 L9.49,216.85 L9.88,216.38 L10.27,215.94 L10.65,215.54 L11.04,215.18 L11.42,214.86 L11.80,214.59 L12.19,214.35 L12.57,214.14 L12.96,213.95 L13.34,213.78 L13.73,213.64 L14.11,213.54 L14.50,213.47 L14.89,213.42 L15.27,213.39 L15.66,213.36 L16.04,213.35 L16.42,213.33 L16.81,213.31 L17.20,213.29 L17.58,213.27 L17.96,213.24 L18.35,213.20 L18.73,213.16 L19.12,213.11 L19.50,213.05 L19.89,212.98 L20.27,212.90 L20.66,212.81 L21.05,212.71 L21.43,212.60 L21.82,212.47 L22.20,212.31 L22.59,212.10 L22.97,211.85 L23.36,211.54 L23.74,211.20 L24.12,210.82 L24.51,210.42 L24.89,209.97 L25.28,209.48 L25.66,208.92 L26.05,208.33 L26.44,207.74 L26.82,207.17 L27.20,206.64 L27.59,206.14 L27.98,205.66 L28.36,205.23 L28.75,204.89 L29.13,204.68 L29.52,204.62 L29.90,204.71 L30.29,204.93 L30.67,205.24 L31.05,205.61 L31.44,206.00 L31.82,206.44 L32.21,206.92 L32.59,207.43 L32.98,207.93 L33.37,208.38 L33.75,208.74 L34.14,209.03 L34.52,209.25 L34.91,209.42 L35.29,209.58 L35.67,209.71 L36.06,209.84 L36.45,209.95 L36.83,210.05 L37.22,210.14 L37.60,210.23 L37.98,210.35 L38.37,210.51 L38.76,210.76 L39.14,211.10 L39.53,211.51 L39.91,211.98 L40.30,212.49 L40.68,213.04 L41.06,213.62 L41.45,214.22 L41.83,214.83 L42.22,215.44 L42.61,216.06 L42.99,216.69 L43.38,217.31 L43.76,217.93 L44.14,218.52 L44.53,219.09 L44.92,219.64 L45.30,220.16 L45.69,220.68 L46.07,221.21 L46.45,221.78 L46.84,222.43 L47.22,223.17 L47.61,224.01 L48.00,224.94 L48.38,225.90 L48.77,226.83 L49.15,227.68 L49.53,228.40 L49.92,228.96 L50.31,229.38 L50.69,229.69 L51.08,229.95 L51.46,230.18 L51.84,230.40 L52.23,230.62 L52.62,230.81 L53.00,230.96 L53.38,231.07 L53.77,231.15 L54.16,231.21 L54.54,231.26 L54.92,231.29 L55.31,231.31 L55.69,231.32 L56.08,231.32 L56.47,231.31 L56.85,231.27 L57.23,231.19 L57.62,231.02 L58.00,230.79 L58.39,230.51 L58.78,230.20 L59.16,229.88 L59.55,229.55 L59.93,229.20 L60.31,228.85 L60.70,228.49 L61.09,228.14 L61.47,227.81 L61.86,227.53 L62.24,227.34 L62.62,227.28 L63.01,227.34 L63.39,227.50 L63.78,227.74 L64.16,228.05 L64.55,228.46 L64.94,229.00 L65.32,229.63 L65.70,230.31 L66.09,230.97 L66.47,231.60 L66.86,232.20 L67.25,232.78 L67.63,233.34 L68.02,233.89 L68.40,234.42 L68.78,234.94 L69.17,235.41 L69.56,235.75 L69.94,235.93 L70.33,235.94 L70.71,235.83 L71.09,235.66 L71.48,235.51 L71.87,235.46 L72.25,235.55 L72.64,235.81 L73.02,236.20 L73.41,236.72 L73.79,237.36 L74.17,238.14 L74.56,239.06 L74.95,240.08 L75.33,241.17 L75.72,242.29 L76.10,243.44 L76.48,244.60 L76.87,245.74 L77.26,246.82 L77.64,247.86 L78.03,248.84 L78.41,249.78 L78.80,250.68 L79.18,251.55 L79.57,252.38 L79.95,253.18 L80.34,253.96 L80.72,254.70 L81.11,255.42 L81.49,256.13 L81.88,256.84 L82.26,257.49 L82.64,258.02 L83.03,258.32 L83.42,258.33 L83.80,258.09 L84.19,257.65 L84.57,257.10 L84.95,256.51 L85.34,255.90 L85.73,255.29 L86.11,254.65 L86.50,254.03 L86.88,253.44 L87.27,252.94 L87.65,252.52 L88.03,252.19 L88.42,251.92 L88.80,251.68 L89.19,251.44 L89.58,251.20 L89.96,250.92 L90.34,250.61 L90.73,250.27 L91.11,249.89 L91.50,249.50 L91.89,249.10 L92.27,248.70 L92.66,248.31 L93.04,247.93 L93.42,247.57 L93.81,247.20 L94.20,246.83 L94.58,246.43 L94.97,246.00 L95.35,245.52 L95.73,244.97 L96.12,244.37 L96.51,243.72 L96.89,243.04 L97.28,242.37 L97.66,241.70 L98.05,241.05 L98.43,240.41 L98.82,239.81 L99.20,239.29 L99.59,238.86 L99.97,238.53 L100.36,238.26 L100.74,238.04 L101.13,237.85 L101.51,237.72 L101.90,237.63 L102.28,237.60 L102.67,237.60 L103.05,237.64 L103.44,237.69 L103.82,237.75 L104.21,237.82 L104.59,237.88 L104.98,237.94 L105.36,238.00 L105.75,238.07 L106.13,238.13 L106.52,238.18 L106.90,238.21 L107.28,238.21 L107.67,238.16 L108.05,238.06 L108.44,237.91 L108.83,237.75 L109.21,237.60 L109.59,237.51 L109.98,237.52 L110.36,237.64 L110.75,237.90 L111.14,238.23 L111.52,238.59 L111.91,238.90 L112.29,239.09 L112.67,239.15 L113.06,239.06 L113.45,238.86 L113.83,238.58 L114.22,238.27 L114.60,237.97 L114.98,237.68 L115.37,237.43 L115.76,237.20 L116.14,236.98 L116.53,236.80 L116.91,236.67 L117.30,236.65 L117.68,236.74 L118.07,236.96 L118.45,237.24 L118.84,237.52 L119.22,237.70 L119.61,237.74 L119.99,237.63 L120.38,237.44 L120.76,237.28 L121.15,237.22 L121.53,237.35 L121.92,237.69 L122.30,238.24 L122.69,238.96 L123.07,239.84 L123.46,240.82 L123.84,241.89 L124.23,243.01 L124.61,244.14 L125.00,245.26 L125.38,246.33 L125.77,247.38 L126.15,248.41 L126.54,249.46 L126.92,250.52 L127.30,251.58 L127.69,252.61 L128.07,253.58 L128.46,254.50 L128.84,255.38 L129.23,256.20 L129.61,256.95 L130.00,257.60 L130.38,258.14 L130.77,258.58 L131.16,258.92 L131.54,259.18 L131.92,259.33 L132.31,259.31 L132.69,259.13 L133.08,258.78 L133.47,258.30 L133.85,257.68 L134.23,256.88 L134.62,255.87 L135.00,254.69 L135.39,253.40 L135.78,252.10 L136.16,250.84 L136.55,249.62 L136.93,248.44 L137.31,247.26 L137.70,246.10 L138.09,244.96 L138.47,243.82 L138.86,242.69 L139.24,241.55 L139.62,240.40 L140.01,239.29 L140.40,238.25 L140.78,237.33 L141.17,236.57 L141.55,235.97 L141.94,235.49 L142.32,235.09 L142.71,234.73 L143.09,234.39 L143.48,234.01 L143.86,233.60 L144.25,233.14 L144.63,232.62 L145.02,232.02 L145.40,231.29 L145.79,230.35 L146.17,229.18 L146.56,227.83 L146.94,226.47 L147.32,225.21 L147.71,224.10 L148.09,223.14 L148.48,222.38 L148.87,221.88 L149.25,221.62 L149.63,221.53 L150.02,221.51 L150.41,221.51 L150.79,221.55 L151.18,221.63 L151.56,221.79 L151.94,222.02 L152.33,222.31 L152.72,222.63 L153.10,222.96 L153.49,223.30 L153.87,223.65 L154.25,224.02 L154.64,224.40 L155.03,224.80 L155.41,225.21 L155.80,225.61 L156.18,226.02 L156.56,226.45 L156.95,226.88 L157.34,227.30 L157.72,227.69 L158.11,228.02 L158.49,228.30 L158.88,228.53 L159.26,228.72 L159.65,228.89 L160.03,229.03 L160.42,229.13 L160.80,229.18 L161.19,229.13 L161.57,228.94 L161.96,228.66 L162.34,228.39" fill="none" stroke="#ff2c20" stroke-width="1.0" stroke-linejoin="round"/>
<line x1="99.50" y1="170.8" x2="99.50" y2="287.2" stroke="#ffb6b6" stroke-width="1" stroke-dasharray="3.7,1.8" shape-rendering="crispEdges"/>
</g>
<rect x="8.34" y="170.4" width="154.0" height="116.79999999999998" fill="none" stroke="#8a8a8a" stroke-width="0.5"/>
<path d="M8.34,287.2v-1.9M8.34,170.4v1.9 M23.74,287.2v-1.9M23.74,170.4v1.9 M39.14,287.2v-1.9M39.14,170.4v1.9 M54.54,287.2v-1.9M54.54,170.4v1.9 M69.94,287.2v-1.9M69.94,170.4v1.9 M85.34,287.2v-1.9M85.34,170.4v1.9 M100.74,287.2v-1.9M100.74,170.4v1.9 M116.14,287.2v-1.9M116.14,170.4v1.9 M131.54,287.2v-1.9M131.54,170.4v1.9 M146.94,287.2v-1.9M146.94,170.4v1.9 M162.34,287.2v-1.9M162.34,170.4v1.9 M8.34,275.73h1.9M162.34,275.73h-1.9 M8.34,261.65h1.9M162.34,261.65h-1.9 M8.34,247.57h1.9M162.34,247.57h-1.9 M8.34,233.50h1.9M162.34,233.50h-1.9 M8.34,219.43h1.9M162.34,219.43h-1.9 M8.34,205.35h1.9M162.34,205.35h-1.9 M8.34,191.28h1.9M162.34,191.28h-1.9 M8.34,177.20h1.9M162.34,177.20h-1.9" stroke="#666" stroke-width="0.5" fill="none"/>
<text class="tk" x="8.34" y="292.3" text-anchor="middle">0</text>
<text class="tk" x="23.74" y="292.3" text-anchor="middle">0.1</text>
<text class="tk" x="39.14" y="292.3" text-anchor="middle">0.2</text>
<text class="tk" x="54.54" y="292.3" text-anchor="middle">0.3</text>
<text class="tk" x="69.94" y="292.3" text-anchor="middle">0.4</text>
<text class="tk" x="85.34" y="292.3" text-anchor="middle">0.5</text>
<text class="tk" x="100.74" y="292.3" text-anchor="middle">0.6</text>
<text class="tk" x="116.14" y="292.3" text-anchor="middle">0.7</text>
<text class="tk" x="131.54" y="292.3" text-anchor="middle">0.8</text>
<text class="tk" x="146.94" y="292.3" text-anchor="middle">0.9</text>
<text class="tk" x="162.34" y="292.3" text-anchor="middle">1</text>
<text class="tk" x="6.14" y="277.03" text-anchor="end">-1.5</text>
<text class="tk" x="6.14" y="262.95" text-anchor="end">-1</text>
<text class="tk" x="6.14" y="248.88" text-anchor="end">-0.5</text>
<text class="tk" x="6.14" y="234.80" text-anchor="end">0</text>
<text class="tk" x="6.14" y="220.73" text-anchor="end">0.5</text>
<text class="tk" x="6.14" y="206.65" text-anchor="end">1</text>
<text class="tk" x="6.14" y="192.58" text-anchor="end">1.5</text>
<text class="tk" x="6.14" y="178.50" text-anchor="end">2</text>
<text x="85.04" y="299.4" font-size="7.2" font-style="italic" text-anchor="middle" fill="#222">x</text>
<text transform="translate(86.34,165.5) scale(1.13,1)" font-size="9.9" text-anchor="middle" fill="#1c1c1c" stroke="#1c1c1c" stroke-width="0.12" letter-spacing="0.38"><tspan font-style="italic" font-size="10.2">μ</tspan><tspan font-size="6.2" dy="1.7">3</tspan><tspan dy="-1.7"> (SMC) J=10</tspan><tspan font-size="6.4" dy="-4.1">5</tspan></text>
<rect x="12.24" y="234.29999999999995" width="48.5" height="49.3" fill="#fff" stroke="#8c8c8c" stroke-width="0.55"/><line x1="14.14" y1="239.80" x2="24.34" y2="239.80" stroke="#ff4a4a" stroke-width="0.7"/><text transform="translate(25.740000000000002,242.20) scale(1.12,1)" font-size="8.0" fill="#3a3a3a" letter-spacing="0.12">u<tspan font-size="4.40" dy="-2.88">†</tspan><tspan dy="2.88"> (truth)</tspan></text><line x1="14.14" y1="249.40" x2="24.34" y2="249.40" stroke="#a8a8ff" stroke-width="1.5"/><text transform="translate(25.740000000000002,251.80) scale(1.12,1)" font-size="8.0" fill="#3a3a3a" letter-spacing="0.12"><tspan font-style="italic">P</tspan><tspan font-size="5.60" dy="1.60" dx="-0.3" letter-spacing="0">02</tspan></text><line x1="14.14" y1="259.00" x2="24.34" y2="259.00" stroke="#4646ff" stroke-width="0.8"/><text transform="translate(25.740000000000002,261.40) scale(1.12,1)" font-size="8.0" fill="#3a3a3a" letter-spacing="0.12"><tspan font-style="italic">P</tspan><tspan font-size="5.60" dy="1.60" dx="-0.3" letter-spacing="0">98</tspan></text><rect x="14.14" y="264.90" width="10.2" height="7.4" fill="#00ff00"/><text transform="translate(25.740000000000002,271.00) scale(1.12,1)" font-size="8.0" fill="#3a3a3a" letter-spacing="0.12"><tspan font-style="italic">P</tspan><tspan font-size="5.60" dy="1.60" dx="-0.3" letter-spacing="0">25</tspan><tspan dy="-1.60"> − </tspan><tspan font-style="italic">P</tspan><tspan font-size="5.60" dy="1.60" dx="-0.3" letter-spacing="0">75</tspan></text><line x1="14.14" y1="278.20" x2="24.34" y2="278.20" stroke="#444" stroke-width="0.7" stroke-dasharray="4.2,1.6"/><text transform="translate(25.740000000000002,280.60) scale(1.12,1)" font-size="8.0" fill="#3a3a3a" letter-spacing="0.12"><tspan font-style="italic">P</tspan><tspan font-size="5.60" dy="1.60" dx="-0.3" letter-spacing="0">50</tspan></text>
<clipPath id="cp4"><rect x="181.4" y="170.4" width="154.0" height="116.79999999999998"/></clipPath>
<g clip-path="url(#cp4)">
<path d="M181.40,211.05 L182.17,211.03 L182.94,210.99 L183.71,210.91 L184.48,210.81 L185.25,210.67 L186.02,210.51 L186.79,210.34 L187.56,210.18 L188.33,210.02 L189.10,209.87 L189.87,209.74 L190.64,209.62 L191.41,209.50 L192.18,209.39 L192.95,209.27 L193.72,209.15 L194.49,209.00 L195.26,208.83 L196.03,208.62 L196.80,208.33 L197.57,207.98 L198.34,207.56 L199.11,207.12 L199.88,206.70 L200.65,206.35 L201.42,206.11 L202.19,206.03 L202.96,206.10 L203.73,206.33 L204.50,206.67 L205.27,207.10 L206.04,207.59 L206.81,208.11 L207.58,208.67 L208.35,209.26 L209.12,209.90 L209.89,210.57 L210.66,211.26 L211.43,211.95 L212.20,212.65 L212.97,213.34 L213.74,214.04 L214.51,214.73 L215.28,215.43 L216.05,216.13 L216.82,216.84 L217.59,217.56 L218.36,218.28 L219.13,218.97 L219.90,219.59 L220.67,220.12 L221.44,220.54 L222.21,220.88 L222.98,221.14 L223.75,221.36 L224.52,221.55 L225.29,221.73 L226.06,221.91 L226.83,222.10 L227.60,222.31 L228.37,222.53 L229.14,222.78 L229.91,223.06 L230.68,223.39 L231.45,223.81 L232.22,224.31 L232.99,224.90 L233.76,225.56 L234.53,226.26 L235.30,227.01 L236.07,227.80 L236.84,228.63 L237.61,229.50 L238.38,230.37 L239.15,231.23 L239.92,232.05 L240.69,232.84 L241.46,233.59 L242.23,234.30 L243.00,235.00 L243.77,235.73 L244.54,236.53 L245.31,237.40 L246.08,238.35 L246.85,239.37 L247.62,240.44 L248.39,241.55 L249.16,242.69 L249.93,243.80 L250.70,244.85 L251.47,245.78 L252.24,246.56 L253.01,247.21 L253.78,247.75 L254.55,248.22 L255.32,248.62 L256.09,248.94 L256.86,249.16 L257.63,249.27 L258.40,249.23 L259.17,249.01 L259.94,248.62 L260.71,248.09 L261.48,247.46 L262.25,246.74 L263.02,245.95 L263.79,245.09 L264.56,244.15 L265.33,243.15 L266.10,242.13 L266.87,241.11 L267.64,240.09 L268.41,239.08 L269.18,238.08 L269.95,237.08 L270.72,236.10 L271.49,235.17 L272.26,234.27 L273.03,233.43 L273.80,232.63 L274.57,231.87 L275.34,231.16 L276.11,230.50 L276.88,229.92 L277.65,229.42 L278.42,228.99 L279.19,228.63 L279.96,228.31 L280.73,228.03 L281.50,227.81 L282.27,227.64 L283.04,227.53 L283.81,227.47 L284.58,227.44 L285.35,227.43 L286.12,227.43 L286.89,227.43 L287.66,227.43 L288.43,227.43 L289.20,227.42 L289.97,227.40 L290.74,227.35 L291.51,227.27 L292.28,227.14 L293.05,226.98 L293.82,226.80 L294.59,226.59 L295.36,226.35 L296.13,226.08 L296.90,225.77 L297.67,225.44 L298.44,225.10 L299.21,224.79 L299.98,224.53 L300.75,224.32 L301.52,224.18 L302.29,224.06 L303.06,223.98 L303.83,223.90 L304.60,223.84 L305.37,223.79 L306.14,223.75 L306.91,223.73 L307.68,223.72 L308.45,223.71 L309.22,223.71 L309.99,223.71 L310.76,223.71 L311.53,223.71 L312.30,223.71 L313.07,223.71 L313.84,223.71 L314.61,223.71 L315.38,223.71 L316.15,223.71 L316.92,223.71 L317.69,223.71 L318.46,223.71 L319.23,223.71 L320.00,223.71 L320.77,223.71 L321.54,223.72 L322.31,223.74 L323.08,223.76 L323.85,223.79 L324.62,223.82 L325.39,223.86 L326.16,223.90 L326.93,223.95 L327.70,223.99 L328.47,224.04 L329.24,224.08 L330.01,224.12 L330.78,224.15 L331.55,224.18 L332.32,224.21 L333.09,224.22 L333.86,224.23 L334.63,224.24 L335.40,224.24 L335.40,242.85 L334.63,242.85 L333.86,242.86 L333.09,242.87 L332.32,242.90 L331.55,242.93 L330.78,242.97 L330.01,243.02 L329.24,243.07 L328.47,243.13 L327.70,243.18 L326.93,243.23 L326.16,243.28 L325.39,243.32 L324.62,243.34 L323.85,243.36 L323.08,243.37 L322.31,243.38 L321.54,243.38 L320.77,243.38 L320.00,243.38 L319.23,243.38 L318.46,243.38 L317.69,243.38 L316.92,243.38 L316.15,243.38 L315.38,243.38 L314.61,243.38 L313.84,243.38 L313.07,243.37 L312.30,243.37 L311.53,243.35 L310.76,243.33 L309.99,243.29 L309.22,243.25 L308.45,243.20 L307.68,243.14 L306.91,243.07 L306.14,242.99 L305.37,242.89 L304.60,242.76 L303.83,242.59 L303.06,242.36 L302.29,242.08 L301.52,241.74 L300.75,241.36 L299.98,240.94 L299.21,240.44 L298.44,239.88 L297.67,239.27 L296.90,238.66 L296.13,238.09 L295.36,237.59 L294.59,237.18 L293.82,236.85 L293.05,236.59 L292.28,236.40 L291.51,236.29 L290.74,236.23 L289.97,236.21 L289.20,236.20 L288.43,236.20 L287.66,236.21 L286.89,236.22 L286.12,236.25 L285.35,236.33 L284.58,236.45 L283.81,236.61 L283.04,236.82 L282.27,237.06 L281.50,237.32 L280.73,237.59 L279.96,237.89 L279.19,238.21 L278.42,238.57 L277.65,238.97 L276.88,239.40 L276.11,239.88 L275.34,240.43 L274.57,241.04 L273.80,241.73 L273.03,242.49 L272.26,243.29 L271.49,244.12 L270.72,244.96 L269.95,245.80 L269.18,246.65 L268.41,247.51 L267.64,248.38 L266.87,249.24 L266.10,250.08 L265.33,250.89 L264.56,251.69 L263.79,252.46 L263.02,253.18 L262.25,253.82 L261.48,254.34 L260.71,254.74 L259.94,255.03 L259.17,255.24 L258.40,255.39 L257.63,255.46 L256.86,255.43 L256.09,255.28 L255.32,254.99 L254.55,254.58 L253.78,254.05 L253.01,253.43 L252.24,252.70 L251.47,251.87 L250.70,250.91 L249.93,249.86 L249.16,248.76 L248.39,247.64 L247.62,246.54 L246.85,245.47 L246.08,244.45 L245.31,243.49 L244.54,242.60 L243.77,241.78 L243.00,241.01 L242.23,240.26 L241.46,239.50 L240.69,238.70 L239.92,237.86 L239.15,236.98 L238.38,236.09 L237.61,235.18 L236.84,234.28 L236.07,233.40 L235.30,232.55 L234.53,231.75 L233.76,231.00 L232.99,230.32 L232.22,229.69 L231.45,229.12 L230.68,228.60 L229.91,228.14 L229.14,227.74 L228.37,227.44 L227.60,227.24 L226.83,227.12 L226.06,227.05 L225.29,227.01 L224.52,226.98 L223.75,226.96 L222.98,226.91 L222.21,226.83 L221.44,226.66 L220.67,226.35 L219.90,225.88 L219.13,225.24 L218.36,224.49 L217.59,223.68 L216.82,222.86 L216.05,222.07 L215.28,221.28 L214.51,220.50 L213.74,219.72 L212.97,218.95 L212.20,218.19 L211.43,217.43 L210.66,216.68 L209.89,215.94 L209.12,215.23 L208.35,214.56 L207.58,213.94 L206.81,213.37 L206.04,212.84 L205.27,212.35 L204.50,211.92 L203.73,211.57 L202.96,211.35 L202.19,211.29 L201.42,211.39 L200.65,211.65 L199.88,212.03 L199.11,212.49 L198.34,212.97 L197.57,213.42 L196.80,213.80 L196.03,214.10 L195.26,214.32 L194.49,214.50 L193.72,214.64 L192.95,214.77 L192.18,214.88 L191.41,215.00 L190.64,215.11 L189.87,215.23 L189.10,215.36 L188.33,215.51 L187.56,215.67 L186.79,215.83 L186.02,216.00 L185.25,216.16 L184.48,216.30 L183.71,216.40 L182.94,216.48 L182.17,216.52 L181.40,216.54 Z" fill="#00ff00" stroke="#00ee00" stroke-width="0.3"/>
<path d="M281.93,230.24V227.92 M265.77,246.63V244.67 M329.50,236.43V231.30 M326.97,239.02V236.00 M286.60,234.44V233.18 M273.73,240.25V238.93 M281.35,229.98V228.09 M267.58,248.01V246.44 M333.74,239.65V238.08 M267.87,243.20V240.34 M334.24,240.46V234.18 M274.94,234.68V232.64 M290.93,230.25V228.99 M280.52,232.98V230.10 M268.35,246.19V244.47 M329.18,232.50V226.48 M310.95,238.23V235.15 M274.95,237.21V234.85 M312.35,237.76V231.36 M328.22,240.35V235.42 M319.32,240.13V235.02 M288.56,231.05V230.13 M320.89,242.29V238.86 M334.48,234.69V228.37 M319.12,242.18V236.05 M310.41,236.70V230.18 M293.61,236.19V234.52 M334.43,232.64V227.17 M319.27,231.98V228.93 M331.92,233.38V228.86 M287.62,233.06V231.22 M310.40,229.63V224.88 M289.02,234.50V233.51 M311.66,237.45V233.72 M330.56,229.25V224.86 M264.27,246.63V244.37 M275.67,238.07V236.20 M328.08,240.05V233.62 M304.98,231.24V225.39 M304.42,235.98V232.18 M310.04,239.25V236.81 M307.48,239.06V233.66 M291.38,229.88V227.54 M302.43,232.76V226.54 M294.16,230.15V227.35 M296.88,233.47V229.43 M311.75,228.14V225.43 M324.22,233.97V231.03 M315.32,238.31V232.34 M265.98,244.71V243.73 M317.70,237.35V235.62 M303.42,232.79V228.72 M314.84,242.65V240.33 M278.84,230.58V229.75 M308.41,235.78V230.11 M283.92,233.02V229.98 M268.97,243.51V242.43 M283.51,233.85V233.10 M296.86,230.05V228.87 M267.48,247.78V246.78 M311.53,240.13V236.71 M315.64,242.34V237.62 M279.17,235.21V233.30 M333.37,231.36V225.18 M317.79,236.56V233.62 M279.91,233.08V232.18 M299.20,234.59V231.70 M308.05,235.72V232.71 M305.64,227.87V224.83 M273.47,238.31V237.13 M266.43,249.78V248.83 M323.04,228.92V224.35 M266.14,247.98V246.71 M318.00,235.08V228.50 M266.99,248.78V246.07 M312.68,227.69V225.26 M282.54,232.62V231.80 M282.87,231.36V229.95 M318.71,241.64V238.31 M275.74,235.18V232.24 M284.32,235.28V232.85 M269.05,240.62V238.33 M275.60,237.69V236.89 M311.18,228.23V225.62 M296.31,233.83V229.73 M265.93,245.25V243.67 M319.38,237.11V233.36 M321.92,238.01V231.20 M309.54,242.18V235.71 M291.36,232.09V228.98 M283.29,233.65V231.83 M272.75,238.89V236.97 M328.54,233.43V229.16 M314.59,234.80V230.68 M327.26,240.64V236.93 M263.50,251.25V249.49 M319.65,241.26V237.57 M323.36,242.05V239.07 M314.76,234.98V228.61 M319.76,231.97V228.93 M306.25,239.97V235.61 M323.98,228.63V224.38 M265.21,245.01V243.39 M309.60,231.29V226.02 M269.26,240.26V238.33 M265.22,249.55V247.81 M327.54,241.14V239.37 M267.11,247.17V244.50 M271.27,237.00V235.43 M293.72,231.51V228.82 M263.33,248.54V247.58 M322.23,235.59V229.72 M300.63,231.16V225.42 M298.45,231.98V228.40 M290.85,229.75V228.96 M265.97,247.00V244.71 M312.70,230.42V227.64 M331.47,240.13V235.00 M321.61,229.79V226.83 M309.93,240.59V233.86 M315.12,238.15V234.28 M315.35,242.32V238.53 M300.58,240.16V235.47 M302.92,238.35V232.83 M297.06,230.00V226.97 M263.64,246.66V245.46 M304.22,238.80V234.86 M281.96,231.49V230.70 M275.43,236.58V234.90 M315.48,240.98V238.13 M261.93,253.51V252.33 M266.70,247.57V246.44 M318.81,232.02V225.96 M284.71,229.38V228.08 M327.68,233.37V231.46 M286.35,235.63V234.36 M311.03,228.64V224.30 M262.54,248.67V246.95 M285.97,229.24V228.10 M316.92,242.19V237.29 M306.79,240.28V237.32 M263.98,251.88V250.37 M271.36,243.76V241.21 M272.57,237.05V235.74 M287.92,235.43V233.64 M314.35,231.79V225.64 M331.09,230.23V227.30 M308.72,232.90V226.27 M278.00,236.37V234.11 M297.79,230.44V227.01 M272.59,241.61V238.52 M321.84,230.62V227.56 M284.16,232.30V229.95 M278.61,233.58V232.08 M327.57,228.36V224.57 M317.99,232.56V226.40 M304.32,232.18V228.19 M291.64,231.03V228.90 M310.39,233.67V229.69 M295.15,234.06V230.61 M312.00,229.70V227.00 M308.24,227.75V224.30 M317.95,234.83V231.36 M289.14,234.09V232.28 M316.92,234.69V231.98 M328.03,236.90V232.10 M333.01,234.65V231.79 M285.09,229.61V227.70 M329.60,235.82V234.06 M291.54,235.99V234.96 M299.19,234.86V232.89 M332.30,238.72V232.48 M291.91,229.63V227.42 M311.42,232.18V230.12 M269.08,240.18V238.33 M270.35,243.09V240.66 M326.22,228.28V226.68 M273.94,237.51V235.03 M306.04,237.74V235.07 M291.64,234.61V233.32 M324.41,237.42V235.53 M304.18,236.25V229.83 M289.36,233.69V230.87 M313.58,235.87V231.27 M323.80,228.81V227.14 M323.60,236.38V234.32 M321.39,238.86V233.51 M275.03,235.71V232.52 M278.20,234.40V233.55 M293.88,231.24V229.21 M294.54,231.86V228.80 M292.39,230.28V228.32 M301.91,229.94V226.80 M271.22,242.91V239.80 M280.14,233.58V232.03 M309.56,242.47V238.09 M284.43,231.05V228.85 M289.45,230.45V228.34 M307.75,235.52V231.84 M280.18,232.65V231.21 M304.29,242.02V238.87 M284.75,232.63V229.84 M319.42,229.80V224.43 M332.28,237.78V233.30 M308.42,239.55V234.12 M299.35,233.22V229.42" stroke="#d0ffd0" stroke-width="0.4" fill="none" opacity="0.5"/>
<path d="M181.40,213.79 L182.17,213.77 L182.94,213.73 L183.71,213.66 L184.48,213.55 L185.25,213.41 L186.02,213.26 L186.79,213.09 L187.56,212.92 L188.33,212.76 L189.10,212.62 L189.87,212.48 L190.64,212.36 L191.41,212.25 L192.18,212.14 L192.95,212.02 L193.72,211.89 L194.49,211.75 L195.26,211.58 L196.03,211.36 L196.80,211.07 L197.57,210.70 L198.34,210.27 L199.11,209.81 L199.88,209.37 L200.65,209.00 L201.42,208.75 L202.19,208.66 L202.96,208.73 L203.73,208.95 L204.50,209.30 L205.27,209.73 L206.04,210.21 L206.81,210.74 L207.58,211.31 L208.35,211.91 L209.12,212.57 L209.89,213.26 L210.66,213.97 L211.43,214.69 L212.20,215.42 L212.97,216.15 L213.74,216.88 L214.51,217.62 L215.28,218.36 L216.05,219.10 L216.82,219.85 L217.59,220.62 L218.36,221.38 L219.13,222.10 L219.90,222.73 L220.67,223.24 L221.44,223.60 L222.21,223.85 L222.98,224.03 L223.75,224.16 L224.52,224.27 L225.29,224.37 L226.06,224.48 L226.83,224.61 L227.60,224.77 L228.37,224.99 L229.14,225.26 L229.91,225.60 L230.68,226.00 L231.45,226.47 L232.22,227.00 L232.99,227.61 L233.76,228.28 L234.53,229.00 L235.30,229.78 L236.07,230.60 L236.84,231.46 L237.61,232.34 L238.38,233.23 L239.15,234.10 L239.92,234.95 L240.69,235.77 L241.46,236.54 L242.23,237.28 L243.00,238.01 L243.77,238.76 L244.54,239.57 L245.31,240.45 L246.08,241.40 L246.85,242.42 L247.62,243.49 L248.39,244.60 L249.16,245.72 L249.93,246.83 L250.70,247.88 L251.47,248.83 L252.24,249.63 L253.01,250.32 L253.78,250.90 L254.55,251.40 L255.32,251.81 L256.09,252.11 L256.86,252.30 L257.63,252.36 L258.40,252.31 L259.17,252.13 L259.94,251.83 L260.71,251.42 L261.48,250.90 L262.25,250.28 L263.02,249.57 L263.79,248.77 L264.56,247.92 L265.33,247.02 L266.10,246.10 L266.87,245.17 L267.64,244.24 L268.41,243.30 L269.18,242.37 L269.95,241.44 L270.72,240.53 L271.49,239.64 L272.26,238.78 L273.03,237.96 L273.80,237.18 L274.57,236.46 L275.34,235.79 L276.11,235.19 L276.88,234.66 L277.65,234.19 L278.42,233.78 L279.19,233.42 L279.96,233.10 L280.73,232.81 L281.50,232.56 L282.27,232.35 L283.04,232.18 L283.81,232.04 L284.58,231.94 L285.35,231.88 L286.12,231.84 L286.89,231.82 L287.66,231.82 L288.43,231.81 L289.20,231.81 L289.97,231.80 L290.74,231.79 L291.51,231.78 L292.28,231.77 L293.05,231.79 L293.82,231.82 L294.59,231.89 L295.36,231.97 L296.13,232.08 L296.90,232.21 L297.67,232.35 L298.44,232.49 L299.21,232.62 L299.98,232.73 L300.75,232.84 L301.52,232.96 L302.29,233.07 L303.06,233.17 L303.83,233.24 L304.60,233.30 L305.37,233.34 L306.14,233.37 L306.91,233.40 L307.68,233.43 L308.45,233.45 L309.22,233.48 L309.99,233.50 L310.76,233.52 L311.53,233.53 L312.30,233.54 L313.07,233.54 L313.84,233.54 L314.61,233.54 L315.38,233.54 L316.15,233.54 L316.92,233.54 L317.69,233.54 L318.46,233.54 L319.23,233.54 L320.00,233.54 L320.77,233.55 L321.54,233.55 L322.31,233.56 L323.08,233.57 L323.85,233.58 L324.62,233.58 L325.39,233.59 L326.16,233.59 L326.93,233.59 L327.70,233.59 L328.47,233.58 L329.24,233.58 L330.01,233.57 L330.78,233.56 L331.55,233.56 L332.32,233.55 L333.09,233.55 L333.86,233.55 L334.63,233.54 L335.40,233.54" fill="none" stroke="#000" stroke-width="0.45" stroke-dasharray="3.5,2.2"/>
<path d="M181.40,221.52 L182.17,221.38 L182.94,221.02 L183.71,220.43 L184.48,219.76 L185.25,219.23 L186.02,218.93 L186.79,218.78 L187.56,218.70 L188.33,218.64 L189.10,218.59 L189.87,218.55 L190.64,218.50 L191.41,218.45 L192.18,218.39 L192.95,218.34 L193.72,218.29 L194.49,218.23 L195.26,218.17 L196.03,218.11 L196.80,218.02 L197.57,217.92 L198.34,217.78 L199.11,217.60 L199.88,217.40 L200.65,217.18 L201.42,216.97 L202.19,216.77 L202.96,216.58 L203.73,216.40 L204.50,216.25 L205.27,216.18 L206.04,216.24 L206.81,216.49 L207.58,216.93 L208.35,217.55 L209.12,218.35 L209.89,219.34 L210.66,220.43 L211.43,221.54 L212.20,222.64 L212.97,223.72 L213.74,224.78 L214.51,225.77 L215.28,226.68 L216.05,227.51 L216.82,228.26 L217.59,228.93 L218.36,229.50 L219.13,229.96 L219.90,230.33 L220.67,230.64 L221.44,230.90 L222.21,231.12 L222.98,231.33 L223.75,231.51 L224.52,231.71 L225.29,231.92 L226.06,232.15 L226.83,232.40 L227.60,232.68 L228.37,233.01 L229.14,233.40 L229.91,233.85 L230.68,234.35 L231.45,234.88 L232.22,235.43 L232.99,235.98 L233.76,236.54 L234.53,237.13 L235.30,237.76 L236.07,238.45 L236.84,239.19 L237.61,240.00 L238.38,240.88 L239.15,241.84 L239.92,242.89 L240.69,244.01 L241.46,245.22 L242.23,246.49 L243.00,247.80 L243.77,249.12 L244.54,250.43 L245.31,251.64 L246.08,252.70 L246.85,253.60 L247.62,254.38 L248.39,255.10 L249.16,255.77 L249.93,256.40 L250.70,256.95 L251.47,257.42 L252.24,257.82 L253.01,258.16 L253.78,258.47 L254.55,258.76 L255.32,259.03 L256.09,259.31 L256.86,259.59 L257.63,259.89 L258.40,260.20 L259.17,260.49 L259.94,260.70 L260.71,260.79 L261.48,260.72 L262.25,260.48 L263.02,260.09 L263.79,259.59 L264.56,258.99 L265.33,258.27 L266.10,257.40 L266.87,256.39 L267.64,255.29 L268.41,254.18 L269.18,253.08 L269.95,251.99 L270.72,250.91 L271.49,249.88 L272.26,248.92 L273.03,248.07 L273.80,247.30 L274.57,246.60 L275.34,245.98 L276.11,245.46 L276.88,245.03 L277.65,244.68 L278.42,244.40 L279.19,244.15 L279.96,243.93 L280.73,243.73 L281.50,243.54 L282.27,243.35 L283.04,243.15 L283.81,242.96 L284.58,242.77 L285.35,242.60 L286.12,242.47 L286.89,242.39 L287.66,242.38 L288.43,242.46 L289.20,242.63 L289.97,242.91 L290.74,243.38 L291.51,244.05 L292.28,244.92 L293.05,245.93 L293.82,247.09 L294.59,248.36 L295.36,249.70 L296.13,251.01 L296.90,252.26 L297.67,253.44 L298.44,254.56 L299.21,255.60 L299.98,256.54 L300.75,257.35 L301.52,258.05 L302.29,258.65 L303.06,259.18 L303.83,259.63 L304.60,260.01 L305.37,260.31 L306.14,260.58 L306.91,260.80 L307.68,261.00 L308.45,261.17 L309.22,261.31 L309.99,261.43 L310.76,261.52 L311.53,261.59 L312.30,261.66 L313.07,261.73 L313.84,261.78 L314.61,261.83 L315.38,261.87 L316.15,261.91 L316.92,261.94 L317.69,261.97 L318.46,262.00 L319.23,262.02 L320.00,262.04 L320.77,262.06 L321.54,262.08 L322.31,262.10 L323.08,262.11 L323.85,262.13 L324.62,262.15 L325.39,262.16 L326.16,262.18 L326.93,262.19 L327.70,262.20 L328.47,262.21 L329.24,262.22 L330.01,262.23 L330.78,262.24 L331.55,262.24 L332.32,262.25 L333.09,262.25 L333.86,262.25 L334.63,262.25 L335.40,262.25" fill="none" stroke="#2626ff" stroke-width="1.08" stroke-linejoin="round"/>
<path d="M181.40,203.38 L182.17,203.41 L182.94,203.50 L183.71,203.65 L184.48,203.84 L185.25,204.02 L186.02,204.18 L186.79,204.32 L187.56,204.43 L188.33,204.51 L189.10,204.55 L189.87,204.56 L190.64,204.57 L191.41,204.56 L192.18,204.53 L192.95,204.42 L193.72,204.19 L194.49,203.80 L195.26,203.30 L196.03,202.73 L196.80,202.14 L197.57,201.53 L198.34,200.87 L199.11,200.18 L199.88,199.49 L200.65,198.89 L201.42,198.48 L202.19,198.30 L202.96,198.37 L203.73,198.63 L204.50,199.02 L205.27,199.49 L206.04,200.01 L206.81,200.60 L207.58,201.26 L208.35,201.97 L209.12,202.71 L209.89,203.45 L210.66,204.15 L211.43,204.83 L212.20,205.49 L212.97,206.14 L213.74,206.79 L214.51,207.45 L215.28,208.14 L216.05,208.87 L216.82,209.64 L217.59,210.42 L218.36,211.15 L219.13,211.77 L219.90,212.25 L220.67,212.59 L221.44,212.84 L222.21,213.03 L222.98,213.19 L223.75,213.32 L224.52,213.44 L225.29,213.54 L226.06,213.65 L226.83,213.77 L227.60,213.90 L228.37,214.06 L229.14,214.25 L229.91,214.50 L230.68,214.82 L231.45,215.25 L232.22,215.80 L232.99,216.48 L233.76,217.33 L234.53,218.37 L235.30,219.61 L236.07,220.95 L236.84,222.30 L237.61,223.62 L238.38,224.85 L239.15,225.94 L239.92,226.87 L240.69,227.63 L241.46,228.20 L242.23,228.61 L243.00,228.90 L243.77,229.17 L244.54,229.48 L245.31,229.84 L246.08,230.29 L246.85,230.86 L247.62,231.58 L248.39,232.45 L249.16,233.46 L249.93,234.61 L250.70,235.86 L251.47,237.14 L252.24,238.40 L253.01,239.65 L253.78,240.87 L254.55,242.00 L255.32,242.95 L256.09,243.62 L256.86,243.99 L257.63,244.13 L258.40,244.16 L259.17,244.10 L259.94,243.89 L260.71,243.45 L261.48,242.75 L262.25,241.87 L263.02,240.89 L263.79,239.89 L264.56,238.86 L265.33,237.76 L266.10,236.61 L266.87,235.41 L267.64,234.19 L268.41,232.96 L269.18,231.73 L269.95,230.48 L270.72,229.21 L271.49,227.94 L272.26,226.68 L273.03,225.47 L273.80,224.32 L274.57,223.22 L275.34,222.17 L276.11,221.18 L276.88,220.27 L277.65,219.48 L278.42,218.80 L279.19,218.21 L279.96,217.70 L280.73,217.29 L281.50,217.03 L282.27,216.95 L283.04,217.04 L283.81,217.29 L284.58,217.63 L285.35,218.00 L286.12,218.37 L286.89,218.73 L287.66,219.05 L288.43,219.24 L289.20,219.22 L289.97,218.96 L290.74,218.50 L291.51,217.91 L292.28,217.25 L293.05,216.54 L293.82,215.77 L294.59,214.93 L295.36,214.04 L296.13,213.14 L296.90,212.26 L297.67,211.45 L298.44,210.70 L299.21,210.00 L299.98,209.35 L300.75,208.73 L301.52,208.15 L302.29,207.64 L303.06,207.20 L303.83,206.82 L304.60,206.48 L305.37,206.18 L306.14,205.90 L306.91,205.65 L307.68,205.42 L308.45,205.21 L309.22,205.03 L309.99,204.86 L310.76,204.71 L311.53,204.56 L312.30,204.42 L313.07,204.28 L313.84,204.16 L314.61,204.05 L315.38,203.95 L316.15,203.88 L316.92,203.82 L317.69,203.80 L318.46,203.80 L319.23,203.84 L320.00,203.91 L320.77,204.00 L321.54,204.11 L322.31,204.24 L323.08,204.37 L323.85,204.50 L324.62,204.63 L325.39,204.74 L326.16,204.85 L326.93,204.95 L327.70,205.05 L328.47,205.15 L329.24,205.25 L330.01,205.34 L330.78,205.43 L331.55,205.50 L332.32,205.56 L333.09,205.60 L333.86,205.62 L334.63,205.63 L335.40,205.63" fill="none" stroke="#2626ff" stroke-width="1.08" stroke-linejoin="round"/>
<path d="M181.40,218.17 L181.78,217.81 L182.17,217.34 L182.56,216.85 L182.94,216.38 L183.33,215.94 L183.71,215.54 L184.09,215.18 L184.48,214.86 L184.87,214.59 L185.25,214.35 L185.64,214.14 L186.02,213.95 L186.41,213.78 L186.79,213.64 L187.18,213.54 L187.56,213.47 L187.94,213.42 L188.33,213.39 L188.72,213.36 L189.10,213.35 L189.49,213.33 L189.87,213.31 L190.25,213.29 L190.64,213.27 L191.03,213.24 L191.41,213.20 L191.80,213.16 L192.18,213.11 L192.56,213.05 L192.95,212.98 L193.34,212.90 L193.72,212.81 L194.11,212.71 L194.49,212.60 L194.88,212.47 L195.26,212.31 L195.65,212.10 L196.03,211.85 L196.42,211.54 L196.80,211.20 L197.19,210.82 L197.57,210.42 L197.96,209.97 L198.34,209.48 L198.72,208.92 L199.11,208.33 L199.50,207.74 L199.88,207.17 L200.27,206.64 L200.65,206.14 L201.03,205.66 L201.42,205.23 L201.81,204.89 L202.19,204.68 L202.58,204.62 L202.96,204.71 L203.34,204.93 L203.73,205.24 L204.12,205.61 L204.50,206.00 L204.88,206.44 L205.27,206.92 L205.66,207.43 L206.04,207.93 L206.43,208.38 L206.81,208.74 L207.19,209.03 L207.58,209.25 L207.97,209.42 L208.35,209.58 L208.74,209.71 L209.12,209.84 L209.50,209.95 L209.89,210.05 L210.28,210.14 L210.66,210.23 L211.05,210.35 L211.43,210.51 L211.81,210.76 L212.20,211.10 L212.59,211.51 L212.97,211.98 L213.36,212.49 L213.74,213.04 L214.12,213.62 L214.51,214.22 L214.90,214.83 L215.28,215.44 L215.67,216.06 L216.05,216.69 L216.44,217.31 L216.82,217.93 L217.21,218.52 L217.59,219.09 L217.98,219.64 L218.36,220.16 L218.75,220.68 L219.13,221.21 L219.52,221.78 L219.90,222.43 L220.28,223.17 L220.67,224.01 L221.06,224.94 L221.44,225.90 L221.83,226.83 L222.21,227.68 L222.59,228.40 L222.98,228.96 L223.37,229.38 L223.75,229.69 L224.14,229.95 L224.52,230.18 L224.91,230.40 L225.29,230.62 L225.68,230.81 L226.06,230.96 L226.44,231.07 L226.83,231.15 L227.22,231.21 L227.60,231.26 L227.99,231.29 L228.37,231.31 L228.75,231.32 L229.14,231.32 L229.53,231.31 L229.91,231.27 L230.30,231.19 L230.68,231.02 L231.06,230.79 L231.45,230.51 L231.84,230.20 L232.22,229.88 L232.61,229.55 L232.99,229.20 L233.38,228.85 L233.76,228.49 L234.15,228.14 L234.53,227.81 L234.92,227.53 L235.30,227.34 L235.69,227.28 L236.07,227.34 L236.46,227.50 L236.84,227.74 L237.22,228.05 L237.61,228.46 L238.00,229.00 L238.38,229.63 L238.77,230.31 L239.15,230.97 L239.53,231.60 L239.92,232.20 L240.31,232.78 L240.69,233.34 L241.08,233.89 L241.46,234.42 L241.84,234.94 L242.23,235.41 L242.62,235.75 L243.00,235.93 L243.39,235.94 L243.77,235.83 L244.16,235.66 L244.54,235.51 L244.93,235.46 L245.31,235.55 L245.69,235.81 L246.08,236.20 L246.47,236.72 L246.85,237.36 L247.24,238.14 L247.62,239.06 L248.00,240.08 L248.39,241.17 L248.78,242.29 L249.16,243.44 L249.55,244.60 L249.93,245.74 L250.31,246.82 L250.70,247.86 L251.09,248.84 L251.47,249.78 L251.86,250.68 L252.24,251.55 L252.62,252.38 L253.01,253.18 L253.40,253.96 L253.78,254.70 L254.17,255.42 L254.55,256.13 L254.94,256.84 L255.32,257.49 L255.70,258.02 L256.09,258.32 L256.48,258.33 L256.86,258.09 L257.25,257.65 L257.63,257.10 L258.01,256.51 L258.40,255.90 L258.79,255.29 L259.17,254.65 L259.56,254.03 L259.94,253.44 L260.32,252.94 L260.71,252.52 L261.10,252.19 L261.48,251.92 L261.87,251.68 L262.25,251.44 L262.63,251.20 L263.02,250.92 L263.40,250.61 L263.79,250.27 L264.18,249.89 L264.56,249.50 L264.94,249.10 L265.33,248.70 L265.72,248.31 L266.10,247.93 L266.49,247.57 L266.87,247.20 L267.25,246.83 L267.64,246.43 L268.02,246.00 L268.41,245.52 L268.80,244.97 L269.18,244.37 L269.56,243.72 L269.95,243.04 L270.34,242.37 L270.72,241.70 L271.11,241.05 L271.49,240.41 L271.88,239.81 L272.26,239.29 L272.64,238.86 L273.03,238.53 L273.42,238.26 L273.80,238.04 L274.19,237.85 L274.57,237.72 L274.96,237.63 L275.34,237.60 L275.73,237.60 L276.11,237.64 L276.50,237.69 L276.88,237.75 L277.26,237.82 L277.65,237.88 L278.04,237.94 L278.42,238.00 L278.81,238.07 L279.19,238.13 L279.58,238.18 L279.96,238.21 L280.35,238.21 L280.73,238.16 L281.12,238.06 L281.50,237.91 L281.88,237.75 L282.27,237.60 L282.65,237.51 L283.04,237.52 L283.43,237.64 L283.81,237.90 L284.19,238.23 L284.58,238.59 L284.97,238.90 L285.35,239.09 L285.74,239.15 L286.12,239.06 L286.50,238.86 L286.89,238.58 L287.27,238.27 L287.66,237.97 L288.05,237.68 L288.43,237.43 L288.81,237.20 L289.20,236.98 L289.59,236.80 L289.97,236.67 L290.36,236.65 L290.74,236.74 L291.12,236.96 L291.51,237.24 L291.89,237.52 L292.28,237.70 L292.67,237.74 L293.05,237.63 L293.44,237.44 L293.82,237.28 L294.21,237.22 L294.59,237.35 L294.98,237.69 L295.36,238.24 L295.75,238.96 L296.13,239.84 L296.51,240.82 L296.90,241.89 L297.29,243.01 L297.67,244.14 L298.06,245.26 L298.44,246.33 L298.83,247.38 L299.21,248.41 L299.60,249.46 L299.98,250.52 L300.37,251.58 L300.75,252.61 L301.13,253.58 L301.52,254.50 L301.90,255.38 L302.29,256.20 L302.68,256.95 L303.06,257.60 L303.44,258.14 L303.83,258.58 L304.22,258.92 L304.60,259.18 L304.99,259.33 L305.37,259.31 L305.75,259.13 L306.14,258.78 L306.52,258.30 L306.91,257.68 L307.30,256.88 L307.68,255.87 L308.06,254.69 L308.45,253.40 L308.84,252.10 L309.22,250.84 L309.61,249.62 L309.99,248.44 L310.38,247.26 L310.76,246.10 L311.14,244.96 L311.53,243.82 L311.92,242.69 L312.30,241.55 L312.69,240.40 L313.07,239.29 L313.46,238.25 L313.84,237.33 L314.23,236.57 L314.61,235.97 L315.00,235.49 L315.38,235.09 L315.76,234.73 L316.15,234.39 L316.54,234.01 L316.92,233.60 L317.31,233.14 L317.69,232.62 L318.08,232.02 L318.46,231.29 L318.85,230.35 L319.23,229.18 L319.62,227.83 L320.00,226.47 L320.38,225.21 L320.77,224.10 L321.15,223.14 L321.54,222.38 L321.93,221.88 L322.31,221.62 L322.69,221.53 L323.08,221.51 L323.47,221.51 L323.85,221.55 L324.24,221.63 L324.62,221.79 L325.00,222.02 L325.39,222.31 L325.77,222.63 L326.16,222.96 L326.55,223.30 L326.93,223.65 L327.31,224.02 L327.70,224.40 L328.09,224.80 L328.47,225.21 L328.86,225.61 L329.24,226.02 L329.62,226.45 L330.01,226.88 L330.39,227.30 L330.78,227.69 L331.17,228.02 L331.55,228.30 L331.94,228.53 L332.32,228.72 L332.71,228.89 L333.09,229.03 L333.48,229.13 L333.86,229.18 L334.25,229.13 L334.63,228.94 L335.01,228.66 L335.40,228.39" fill="none" stroke="#ff2c20" stroke-width="1.0" stroke-linejoin="round"/>
<line x1="295.50" y1="170.8" x2="295.50" y2="287.2" stroke="#ffb6b6" stroke-width="1" stroke-dasharray="3.7,1.8" shape-rendering="crispEdges"/>
</g>
<rect x="181.4" y="170.4" width="154.0" height="116.79999999999998" fill="none" stroke="#8a8a8a" stroke-width="0.5"/>
<path d="M181.40,287.2v-1.9M181.40,170.4v1.9 M196.80,287.2v-1.9M196.80,170.4v1.9 M212.20,287.2v-1.9M212.20,170.4v1.9 M227.60,287.2v-1.9M227.60,170.4v1.9 M243.00,287.2v-1.9M243.00,170.4v1.9 M258.40,287.2v-1.9M258.40,170.4v1.9 M273.80,287.2v-1.9M273.80,170.4v1.9 M289.20,287.2v-1.9M289.20,170.4v1.9 M304.60,287.2v-1.9M304.60,170.4v1.9 M320.00,287.2v-1.9M320.00,170.4v1.9 M335.40,287.2v-1.9M335.40,170.4v1.9 M181.4,275.73h1.9M335.4,275.73h-1.9 M181.4,261.65h1.9M335.4,261.65h-1.9 M181.4,247.57h1.9M335.4,247.57h-1.9 M181.4,233.50h1.9M335.4,233.50h-1.9 M181.4,219.43h1.9M335.4,219.43h-1.9 M181.4,205.35h1.9M335.4,205.35h-1.9 M181.4,191.28h1.9M335.4,191.28h-1.9 M181.4,177.20h1.9M335.4,177.20h-1.9" stroke="#666" stroke-width="0.5" fill="none"/>
<text class="tk" x="181.40" y="292.3" text-anchor="middle">0</text>
<text class="tk" x="196.80" y="292.3" text-anchor="middle">0.1</text>
<text class="tk" x="212.20" y="292.3" text-anchor="middle">0.2</text>
<text class="tk" x="227.60" y="292.3" text-anchor="middle">0.3</text>
<text class="tk" x="243.00" y="292.3" text-anchor="middle">0.4</text>
<text class="tk" x="258.40" y="292.3" text-anchor="middle">0.5</text>
<text class="tk" x="273.80" y="292.3" text-anchor="middle">0.6</text>
<text class="tk" x="289.20" y="292.3" text-anchor="middle">0.7</text>
<text class="tk" x="304.60" y="292.3" text-anchor="middle">0.8</text>
<text class="tk" x="320.00" y="292.3" text-anchor="middle">0.9</text>
<text class="tk" x="335.40" y="292.3" text-anchor="middle">1</text>
<text class="tk" x="179.20000000000002" y="277.03" text-anchor="end">-1.5</text>
<text class="tk" x="179.20000000000002" y="262.95" text-anchor="end">-1</text>
<text class="tk" x="179.20000000000002" y="248.88" text-anchor="end">-0.5</text>
<text class="tk" x="179.20000000000002" y="234.80" text-anchor="end">0</text>
<text class="tk" x="179.20000000000002" y="220.73" text-anchor="end">0.5</text>
<text class="tk" x="179.20000000000002" y="206.65" text-anchor="end">1</text>
<text class="tk" x="179.20000000000002" y="192.58" text-anchor="end">1.5</text>
<text class="tk" x="179.20000000000002" y="178.50" text-anchor="end">2</text>
<text x="258.09999999999997" y="299.4" font-size="7.2" font-style="italic" text-anchor="middle" fill="#222">x</text>
<text transform="translate(259.4,165.5) scale(1.13,1)" font-size="9.9" text-anchor="middle" fill="#1c1c1c" stroke="#1c1c1c" stroke-width="0.12" letter-spacing="0.38"><tspan font-style="italic" font-size="10.2">μ</tspan><tspan font-size="6.2" dy="1.7">4</tspan><tspan dy="-1.7"> (SMC) J=10</tspan><tspan font-size="6.4" dy="-4.1">5</tspan></text>
<rect x="185.3" y="234.29999999999995" width="48.5" height="49.3" fill="#fff" stroke="#8c8c8c" stroke-width="0.55"/><line x1="187.20000000000002" y1="239.80" x2="197.4" y2="239.80" stroke="#ff4a4a" stroke-width="0.7"/><text transform="translate(198.8,242.20) scale(1.12,1)" font-size="8.0" fill="#3a3a3a" letter-spacing="0.12">u<tspan font-size="4.40" dy="-2.88">†</tspan><tspan dy="2.88"> (truth)</tspan></text><line x1="187.20000000000002" y1="249.40" x2="197.4" y2="249.40" stroke="#a8a8ff" stroke-width="1.5"/><text transform="translate(198.8,251.80) scale(1.12,1)" font-size="8.0" fill="#3a3a3a" letter-spacing="0.12"><tspan font-style="italic">P</tspan><tspan font-size="5.60" dy="1.60" dx="-0.3" letter-spacing="0">02</tspan></text><line x1="187.20000000000002" y1="259.00" x2="197.4" y2="259.00" stroke="#4646ff" stroke-width="0.8"/><text transform="translate(198.8,261.40) scale(1.12,1)" font-size="8.0" fill="#3a3a3a" letter-spacing="0.12"><tspan font-style="italic">P</tspan><tspan font-size="5.60" dy="1.60" dx="-0.3" letter-spacing="0">98</tspan></text><rect x="187.20000000000002" y="264.90" width="10.2" height="7.4" fill="#00ff00"/><text transform="translate(198.8,271.00) scale(1.12,1)" font-size="8.0" fill="#3a3a3a" letter-spacing="0.12"><tspan font-style="italic">P</tspan><tspan font-size="5.60" dy="1.60" dx="-0.3" letter-spacing="0">25</tspan><tspan dy="-1.60"> − </tspan><tspan font-style="italic">P</tspan><tspan font-size="5.60" dy="1.60" dx="-0.3" letter-spacing="0">75</tspan></text><line x1="187.20000000000002" y1="278.20" x2="197.4" y2="278.20" stroke="#444" stroke-width="0.7" stroke-dasharray="4.2,1.6"/><text transform="translate(198.8,280.60) scale(1.12,1)" font-size="8.0" fill="#3a3a3a" letter-spacing="0.12"><tspan font-style="italic">P</tspan><tspan font-size="5.60" dy="1.60" dx="-0.3" letter-spacing="0">50</tspan></text>
<clipPath id="cp5"><rect x="354.5" y="170.4" width="154.0" height="116.79999999999998"/></clipPath>
<g clip-path="url(#cp5)">
<path d="M354.50,211.05 L355.27,211.03 L356.04,210.99 L356.81,210.91 L357.58,210.81 L358.35,210.67 L359.12,210.51 L359.89,210.34 L360.66,210.18 L361.43,210.02 L362.20,209.87 L362.97,209.74 L363.74,209.62 L364.51,209.50 L365.28,209.39 L366.05,209.27 L366.82,209.15 L367.59,209.00 L368.36,208.83 L369.13,208.62 L369.90,208.33 L370.67,207.98 L371.44,207.56 L372.21,207.12 L372.98,206.70 L373.75,206.35 L374.52,206.11 L375.29,206.03 L376.06,206.10 L376.83,206.33 L377.60,206.67 L378.37,207.10 L379.14,207.59 L379.91,208.11 L380.68,208.67 L381.45,209.26 L382.22,209.90 L382.99,210.57 L383.76,211.26 L384.53,211.95 L385.30,212.65 L386.07,213.34 L386.84,214.04 L387.61,214.73 L388.38,215.43 L389.15,216.13 L389.92,216.84 L390.69,217.56 L391.46,218.28 L392.23,218.97 L393.00,219.59 L393.77,220.12 L394.54,220.54 L395.31,220.88 L396.08,221.14 L396.85,221.36 L397.62,221.55 L398.39,221.73 L399.16,221.91 L399.93,222.10 L400.70,222.31 L401.47,222.53 L402.24,222.78 L403.01,223.06 L403.78,223.39 L404.55,223.81 L405.32,224.31 L406.09,224.90 L406.86,225.56 L407.63,226.26 L408.40,227.01 L409.17,227.80 L409.94,228.63 L410.71,229.50 L411.48,230.37 L412.25,231.23 L413.02,232.05 L413.79,232.84 L414.56,233.59 L415.33,234.30 L416.10,235.00 L416.87,235.73 L417.64,236.53 L418.41,237.40 L419.18,238.35 L419.95,239.37 L420.72,240.44 L421.49,241.55 L422.26,242.66 L423.03,243.77 L423.80,244.84 L424.57,245.85 L425.34,246.79 L426.11,247.67 L426.88,248.49 L427.65,249.22 L428.42,249.83 L429.19,250.28 L429.96,250.56 L430.73,250.68 L431.50,250.69 L432.27,250.61 L433.04,250.46 L433.81,250.21 L434.58,249.81 L435.35,249.19 L436.12,248.37 L436.89,247.39 L437.66,246.32 L438.43,245.20 L439.20,244.06 L439.97,242.90 L440.74,241.71 L441.51,240.53 L442.28,239.38 L443.05,238.28 L443.82,237.23 L444.59,236.24 L445.36,235.29 L446.13,234.38 L446.90,233.55 L447.67,232.78 L448.44,232.10 L449.21,231.49 L449.98,230.94 L450.75,230.44 L451.52,229.99 L452.29,229.63 L453.06,229.37 L453.83,229.25 L454.60,229.28 L455.37,229.45 L456.14,229.76 L456.91,230.16 L457.68,230.63 L458.45,231.15 L459.22,231.73 L459.99,232.37 L460.76,233.05 L461.53,233.77 L462.30,234.50 L463.07,235.25 L463.84,236.02 L464.61,236.80 L465.38,237.58 L466.15,238.35 L466.92,239.11 L467.69,239.85 L468.46,240.58 L469.23,241.29 L470.00,241.98 L470.77,242.63 L471.54,243.25 L472.31,243.81 L473.08,244.33 L473.85,244.80 L474.62,245.21 L475.39,245.54 L476.16,245.75 L476.93,245.80 L477.70,245.70 L478.47,245.44 L479.24,245.07 L480.01,244.58 L480.78,243.97 L481.55,243.22 L482.32,242.32 L483.09,241.29 L483.86,240.17 L484.63,238.97 L485.40,237.72 L486.17,236.43 L486.94,235.13 L487.71,233.88 L488.48,232.72 L489.25,231.66 L490.02,230.69 L490.79,229.80 L491.56,228.98 L492.33,228.26 L493.10,227.64 L493.87,227.12 L494.64,226.68 L495.41,226.32 L496.18,226.00 L496.95,225.71 L497.72,225.46 L498.49,225.25 L499.26,225.06 L500.03,224.91 L500.80,224.78 L501.57,224.67 L502.34,224.58 L503.11,224.50 L503.88,224.43 L504.65,224.36 L505.42,224.32 L506.19,224.28 L506.96,224.26 L507.73,224.25 L508.50,224.24 L508.50,241.52 L507.73,241.53 L506.96,241.55 L506.19,241.59 L505.42,241.64 L504.65,241.73 L503.88,241.83 L503.11,241.95 L502.34,242.09 L501.57,242.25 L500.80,242.42 L500.03,242.59 L499.26,242.77 L498.49,242.95 L497.72,243.14 L496.95,243.33 L496.18,243.52 L495.41,243.72 L494.64,243.94 L493.87,244.17 L493.10,244.42 L492.33,244.68 L491.56,244.95 L490.79,245.24 L490.02,245.54 L489.25,245.85 L488.48,246.18 L487.71,246.54 L486.94,246.92 L486.17,247.35 L485.40,247.85 L484.63,248.43 L483.86,249.11 L483.09,249.87 L482.32,250.64 L481.55,251.35 L480.78,251.95 L480.01,252.42 L479.24,252.78 L478.47,253.06 L477.70,253.24 L476.93,253.31 L476.16,253.28 L475.39,253.13 L474.62,252.90 L473.85,252.60 L473.08,252.24 L472.31,251.83 L471.54,251.37 L470.77,250.85 L470.00,250.27 L469.23,249.65 L468.46,249.00 L467.69,248.33 L466.92,247.63 L466.15,246.91 L465.38,246.15 L464.61,245.38 L463.84,244.58 L463.07,243.78 L462.30,242.96 L461.53,242.13 L460.76,241.30 L459.99,240.50 L459.22,239.80 L458.45,239.22 L457.68,238.78 L456.91,238.44 L456.14,238.16 L455.37,237.95 L454.60,237.79 L453.83,237.70 L453.06,237.71 L452.29,237.86 L451.52,238.16 L450.75,238.63 L449.98,239.22 L449.21,239.91 L448.44,240.64 L447.67,241.40 L446.90,242.18 L446.13,242.99 L445.36,243.84 L444.59,244.73 L443.82,245.66 L443.05,246.62 L442.28,247.61 L441.51,248.65 L440.74,249.73 L439.97,250.82 L439.20,251.91 L438.43,252.93 L437.66,253.87 L436.89,254.70 L436.12,255.44 L435.35,256.08 L434.58,256.62 L433.81,257.00 L433.04,257.23 L432.27,257.30 L431.50,257.26 L430.73,257.12 L429.96,256.91 L429.19,256.59 L428.42,256.15 L427.65,255.54 L426.88,254.77 L426.11,253.89 L425.34,252.94 L424.57,251.94 L423.80,250.90 L423.03,249.83 L422.26,248.74 L421.49,247.63 L420.72,246.54 L419.95,245.47 L419.18,244.45 L418.41,243.49 L417.64,242.60 L416.87,241.78 L416.10,241.01 L415.33,240.26 L414.56,239.50 L413.79,238.70 L413.02,237.86 L412.25,236.98 L411.48,236.09 L410.71,235.18 L409.94,234.28 L409.17,233.40 L408.40,232.55 L407.63,231.75 L406.86,231.00 L406.09,230.32 L405.32,229.69 L404.55,229.12 L403.78,228.60 L403.01,228.14 L402.24,227.74 L401.47,227.44 L400.70,227.24 L399.93,227.12 L399.16,227.05 L398.39,227.01 L397.62,226.98 L396.85,226.96 L396.08,226.91 L395.31,226.83 L394.54,226.66 L393.77,226.35 L393.00,225.88 L392.23,225.24 L391.46,224.49 L390.69,223.68 L389.92,222.86 L389.15,222.07 L388.38,221.28 L387.61,220.50 L386.84,219.72 L386.07,218.95 L385.30,218.19 L384.53,217.43 L383.76,216.68 L382.99,215.94 L382.22,215.23 L381.45,214.56 L380.68,213.94 L379.91,213.37 L379.14,212.84 L378.37,212.35 L377.60,211.92 L376.83,211.57 L376.06,211.35 L375.29,211.29 L374.52,211.39 L373.75,211.65 L372.98,212.03 L372.21,212.49 L371.44,212.97 L370.67,213.42 L369.90,213.80 L369.13,214.10 L368.36,214.32 L367.59,214.50 L366.82,214.64 L366.05,214.77 L365.28,214.88 L364.51,215.00 L363.74,215.11 L362.97,215.23 L362.20,215.36 L361.43,215.51 L360.66,215.67 L359.89,215.83 L359.12,216.00 L358.35,216.16 L357.58,216.30 L356.81,216.40 L356.04,216.48 L355.27,216.52 L354.50,216.54 Z" fill="#00ff00" stroke="#00ee00" stroke-width="0.3"/>
<path d="M501.28,235.10V232.20 M442.85,241.26V239.01 M444.43,243.28V241.53 M502.41,229.60V226.81 M461.04,234.83V233.43 M468.88,244.44V243.71 M446.88,238.62V237.13 M449.63,237.92V235.15 M438.63,252.21V251.44 M448.33,236.57V234.63 M475.44,252.28V249.78 M479.37,250.78V249.20 M465.37,245.27V242.52 M482.60,247.64V246.09 M495.80,242.31V240.41 M500.98,230.90V225.31 M494.18,230.84V227.82 M481.33,249.01V247.01 M452.70,233.79V231.60 M457.53,238.18V236.36 M479.48,251.34V249.33 M450.40,236.06V233.52 M454.26,234.48V233.78 M466.64,245.55V243.18 M449.10,238.62V237.60 M504.65,232.23V230.10 M473.62,250.72V248.22 M452.29,236.03V233.40 M494.13,231.53V227.63 M505.52,234.29V229.50 M486.51,242.71V240.49 M503.15,230.73V226.16 M459.12,236.83V235.65 M479.10,247.55V245.64 M452.25,235.17V233.74 M463.55,238.64V236.56 M470.28,245.93V244.16 M501.63,230.81V226.85 M468.45,246.68V244.68 M462.39,241.65V239.31 M441.74,248.33V247.29 M455.19,235.55V234.38 M504.06,238.63V233.36 M456.60,232.69V231.21 M438.34,248.73V246.49 M439.24,246.64V244.54 M448.13,239.66V238.79 M442.39,246.87V245.13 M477.11,252.97V250.89 M495.98,238.25V233.42 M496.75,233.99V230.16 M462.10,241.34V238.95 M444.25,240.62V238.14 M443.84,240.71V239.72 M449.90,235.79V234.37 M476.12,251.02V249.52 M501.64,235.22V232.93 M448.29,236.63V235.43 M457.54,234.60V232.52 M461.79,238.74V237.76 M454.56,231.49V229.53 M479.24,251.02V249.29 M502.17,237.33V233.24 M472.32,249.92V249.16 M442.06,245.17V244.05 M504.42,237.74V235.35 M494.96,235.18V230.14 M437.07,249.33V247.61 M455.82,232.32V231.03 M461.16,241.72V240.26 M503.39,240.17V235.67 M465.59,240.40V238.18 M439.26,249.16V248.38 M504.38,231.47V229.18 M446.31,236.76V234.64 M458.49,238.02V235.99 M438.36,252.64V250.28 M447.49,237.29V235.53 M469.22,245.60V242.84 M468.38,242.43V240.83 M467.68,245.08V242.31 M497.16,229.83V226.85 M462.29,240.00V239.29 M442.31,246.94V245.17 M447.88,235.23V233.23 M459.94,238.80V237.51 M464.95,240.86V239.27 M465.69,244.08V241.38 M446.86,238.27V235.34 M501.87,239.80V234.59 M451.67,234.11V232.58 M504.72,228.19V224.89 M504.44,240.70V236.40 M441.92,243.45V240.66 M480.62,247.60V245.03 M442.73,240.83V239.35 M474.05,249.93V247.79 M477.27,251.37V248.95 M454.60,231.94V230.19 M452.05,237.24V235.41 M457.80,234.75V233.81 M459.81,236.73V235.64 M477.51,252.91V251.33 M460.43,237.04V235.90 M465.49,242.98V242.00 M443.85,242.02V240.86 M460.09,235.42V232.61 M500.00,241.89V238.39 M485.50,240.49V239.28 M454.35,237.05V236.36 M473.48,249.47V247.88 M500.04,241.94V237.02 M507.03,230.76V228.20 M482.66,247.79V246.36 M479.52,246.82V245.30 M493.67,240.49V235.34 M457.64,236.44V234.76 M505.64,229.80V224.84 M497.20,233.00V229.84 M496.14,230.23V226.99 M506.93,228.37V224.81 M476.79,250.95V249.35 M496.95,236.82V232.05 M447.37,234.61V233.04 M440.70,248.84V246.23 M501.08,234.49V233.06 M446.80,236.12V233.80 M465.16,243.75V242.70 M468.90,243.94V242.48 M464.81,239.66V237.06 M473.84,250.50V249.30 M491.56,237.14V233.84 M505.40,240.97V235.99 M508.04,240.17V237.23 M496.93,241.79V239.74 M500.92,233.88V231.56 M445.86,237.11V234.64 M484.88,247.41V245.02 M508.47,234.09V231.46 M502.64,231.90V226.70 M480.65,248.26V245.98 M465.90,245.71V244.66 M474.10,248.11V247.09 M491.16,235.86V231.95 M469.41,245.78V243.69 M485.16,245.39V242.03 M487.12,244.41V240.76 M469.81,249.46V247.93 M474.24,247.16V245.80 M469.19,243.99V241.65 M485.21,240.06V239.04 M440.19,250.57V249.42 M442.25,244.99V244.00 M476.13,251.91V251.09 M479.26,249.50V248.21 M454.27,231.81V230.87 M506.76,230.51V228.16 M507.01,239.94V234.31 M442.57,246.36V245.19 M439.76,246.69V244.62 M454.12,236.00V234.76 M505.82,238.75V234.00 M504.90,236.19V230.48 M490.22,242.79V238.09 M488.11,241.33V240.22 M470.78,245.62V244.36 M505.92,231.84V227.17 M440.02,248.43V247.76 M495.43,233.63V230.44 M507.48,230.80V228.53 M442.95,244.68V242.91 M441.15,248.04V245.82 M450.75,233.95V231.65 M471.46,248.46V247.70 M505.23,233.82V232.37 M491.64,241.90V239.79 M501.26,232.66V229.91 M506.85,233.33V230.13 M472.91,246.47V244.56 M467.86,245.87V244.88 M463.42,238.26V235.74 M471.09,249.33V247.95 M465.43,244.31V241.57 M458.45,233.76V231.93 M465.38,239.72V238.11 M443.05,245.90V245.00 M486.99,244.59V241.14 M507.59,231.11V225.23" stroke="#d0ffd0" stroke-width="0.4" fill="none" opacity="0.5"/>
<path d="M354.50,213.79 L355.27,213.77 L356.04,213.73 L356.81,213.66 L357.58,213.55 L358.35,213.41 L359.12,213.26 L359.89,213.09 L360.66,212.92 L361.43,212.76 L362.20,212.62 L362.97,212.48 L363.74,212.36 L364.51,212.25 L365.28,212.14 L366.05,212.02 L366.82,211.89 L367.59,211.75 L368.36,211.58 L369.13,211.36 L369.90,211.07 L370.67,210.70 L371.44,210.27 L372.21,209.81 L372.98,209.37 L373.75,209.00 L374.52,208.75 L375.29,208.66 L376.06,208.73 L376.83,208.95 L377.60,209.30 L378.37,209.73 L379.14,210.21 L379.91,210.74 L380.68,211.31 L381.45,211.91 L382.22,212.57 L382.99,213.26 L383.76,213.97 L384.53,214.69 L385.30,215.42 L386.07,216.15 L386.84,216.88 L387.61,217.62 L388.38,218.36 L389.15,219.10 L389.92,219.85 L390.69,220.62 L391.46,221.38 L392.23,222.10 L393.00,222.73 L393.77,223.24 L394.54,223.60 L395.31,223.85 L396.08,224.03 L396.85,224.16 L397.62,224.27 L398.39,224.37 L399.16,224.48 L399.93,224.61 L400.70,224.77 L401.47,224.99 L402.24,225.26 L403.01,225.60 L403.78,226.00 L404.55,226.47 L405.32,227.00 L406.09,227.61 L406.86,228.28 L407.63,229.00 L408.40,229.78 L409.17,230.60 L409.94,231.46 L410.71,232.34 L411.48,233.23 L412.25,234.10 L413.02,234.95 L413.79,235.77 L414.56,236.54 L415.33,237.28 L416.10,238.01 L416.87,238.76 L417.64,239.57 L418.41,240.45 L419.18,241.40 L419.95,242.42 L420.72,243.49 L421.49,244.59 L422.26,245.70 L423.03,246.80 L423.80,247.87 L424.57,248.89 L425.34,249.86 L426.11,250.78 L426.88,251.63 L427.65,252.38 L428.42,252.99 L429.19,253.44 L429.96,253.73 L430.73,253.90 L431.50,253.97 L432.27,253.96 L433.04,253.85 L433.81,253.61 L434.58,253.21 L435.35,252.64 L436.12,251.91 L436.89,251.05 L437.66,250.09 L438.43,249.07 L439.20,247.99 L439.97,246.86 L440.74,245.72 L441.51,244.59 L442.28,243.50 L443.05,242.45 L443.82,241.45 L444.59,240.48 L445.36,239.56 L446.13,238.69 L446.90,237.86 L447.67,237.09 L448.44,236.37 L449.21,235.70 L449.98,235.08 L450.75,234.53 L451.52,234.08 L452.29,233.74 L453.06,233.54 L453.83,233.48 L454.60,233.53 L455.37,233.70 L456.14,233.96 L456.91,234.30 L457.68,234.70 L458.45,235.19 L459.22,235.77 L459.99,236.44 L460.76,237.17 L461.53,237.95 L462.30,238.73 L463.07,239.52 L463.84,240.30 L464.61,241.09 L465.38,241.87 L466.15,242.63 L466.92,243.37 L467.69,244.09 L468.46,244.79 L469.23,245.47 L470.00,246.12 L470.77,246.74 L471.54,247.31 L472.31,247.82 L473.08,248.28 L473.85,248.70 L474.62,249.06 L475.39,249.34 L476.16,249.51 L476.93,249.56 L477.70,249.47 L478.47,249.25 L479.24,248.92 L480.01,248.50 L480.78,247.96 L481.55,247.29 L482.32,246.48 L483.09,245.58 L483.86,244.64 L484.63,243.70 L485.40,242.78 L486.17,241.89 L486.94,241.03 L487.71,240.21 L488.48,239.45 L489.25,238.76 L490.02,238.11 L490.79,237.52 L491.56,236.97 L492.33,236.47 L493.10,236.03 L493.87,235.64 L494.64,235.31 L495.41,235.02 L496.18,234.76 L496.95,234.52 L497.72,234.30 L498.49,234.10 L499.26,233.92 L500.03,233.75 L500.80,233.60 L501.57,233.46 L502.34,233.34 L503.11,233.23 L503.88,233.13 L504.65,233.05 L505.42,232.98 L506.19,232.93 L506.96,232.90 L507.73,232.89 L508.50,232.88" fill="none" stroke="#000" stroke-width="0.45" stroke-dasharray="3.5,2.2"/>
<path d="M354.50,221.52 L355.27,221.38 L356.04,221.02 L356.81,220.43 L357.58,219.76 L358.35,219.23 L359.12,218.93 L359.89,218.78 L360.66,218.70 L361.43,218.64 L362.20,218.59 L362.97,218.55 L363.74,218.50 L364.51,218.45 L365.28,218.39 L366.05,218.34 L366.82,218.29 L367.59,218.23 L368.36,218.17 L369.13,218.11 L369.90,218.02 L370.67,217.92 L371.44,217.78 L372.21,217.60 L372.98,217.40 L373.75,217.18 L374.52,216.97 L375.29,216.77 L376.06,216.58 L376.83,216.40 L377.60,216.25 L378.37,216.18 L379.14,216.24 L379.91,216.49 L380.68,216.93 L381.45,217.55 L382.22,218.35 L382.99,219.34 L383.76,220.43 L384.53,221.54 L385.30,222.64 L386.07,223.72 L386.84,224.78 L387.61,225.77 L388.38,226.68 L389.15,227.51 L389.92,228.26 L390.69,228.93 L391.46,229.50 L392.23,229.96 L393.00,230.33 L393.77,230.64 L394.54,230.90 L395.31,231.12 L396.08,231.33 L396.85,231.51 L397.62,231.71 L398.39,231.92 L399.16,232.15 L399.93,232.40 L400.70,232.68 L401.47,233.01 L402.24,233.40 L403.01,233.85 L403.78,234.35 L404.55,234.88 L405.32,235.43 L406.09,235.98 L406.86,236.54 L407.63,237.13 L408.40,237.76 L409.17,238.45 L409.94,239.19 L410.71,240.00 L411.48,240.88 L412.25,241.84 L413.02,242.89 L413.79,244.01 L414.56,245.22 L415.33,246.49 L416.10,247.80 L416.87,249.12 L417.64,250.43 L418.41,251.64 L419.18,252.70 L419.95,253.60 L420.72,254.38 L421.49,255.08 L422.26,255.74 L423.03,256.37 L423.80,256.98 L424.57,257.59 L425.34,258.21 L426.11,258.83 L426.88,259.44 L427.65,260.03 L428.42,260.57 L429.19,261.09 L429.96,261.60 L430.73,262.08 L431.50,262.53 L432.27,262.88 L433.04,263.11 L433.81,263.17 L434.58,263.06 L435.35,262.79 L436.12,262.40 L436.89,261.90 L437.66,261.29 L438.43,260.54 L439.20,259.65 L439.97,258.67 L440.74,257.59 L441.51,256.42 L442.28,255.14 L443.05,253.81 L443.82,252.51 L444.59,251.33 L445.36,250.29 L446.13,249.36 L446.90,248.53 L447.67,247.81 L448.44,247.19 L449.21,246.68 L449.98,246.24 L450.75,245.86 L451.52,245.52 L452.29,245.23 L453.06,244.99 L453.83,244.80 L454.60,244.66 L455.37,244.53 L456.14,244.43 L456.91,244.34 L457.68,244.27 L458.45,244.23 L459.22,244.25 L459.99,244.39 L460.76,244.68 L461.53,245.16 L462.30,245.85 L463.07,246.77 L463.84,247.91 L464.61,249.17 L465.38,250.48 L466.15,251.81 L466.92,253.14 L467.69,254.42 L468.46,255.60 L469.23,256.68 L470.00,257.69 L470.77,258.60 L471.54,259.32 L472.31,259.79 L473.08,259.98 L473.85,259.97 L474.62,259.85 L475.39,259.65 L476.16,259.43 L476.93,259.18 L477.70,258.91 L478.47,258.62 L479.24,258.29 L480.01,257.92 L480.78,257.54 L481.55,257.20 L482.32,256.94 L483.09,256.79 L483.86,256.76 L484.63,256.83 L485.40,256.97 L486.17,257.15 L486.94,257.35 L487.71,257.57 L488.48,257.81 L489.25,258.07 L490.02,258.35 L490.79,258.64 L491.56,258.92 L492.33,259.19 L493.10,259.43 L493.87,259.67 L494.64,259.89 L495.41,260.11 L496.18,260.32 L496.95,260.53 L497.72,260.73 L498.49,260.92 L499.26,261.11 L500.03,261.30 L500.80,261.48 L501.57,261.68 L502.34,261.87 L503.11,262.07 L503.88,262.26 L504.65,262.43 L505.42,262.58 L506.19,262.68 L506.96,262.74 L507.73,262.77 L508.50,262.78" fill="none" stroke="#2626ff" stroke-width="1.08" stroke-linejoin="round"/>
<path d="M354.50,203.38 L355.27,203.41 L356.04,203.50 L356.81,203.65 L357.58,203.84 L358.35,204.02 L359.12,204.18 L359.89,204.32 L360.66,204.43 L361.43,204.51 L362.20,204.55 L362.97,204.56 L363.74,204.57 L364.51,204.56 L365.28,204.53 L366.05,204.42 L366.82,204.19 L367.59,203.80 L368.36,203.30 L369.13,202.73 L369.90,202.14 L370.67,201.53 L371.44,200.87 L372.21,200.18 L372.98,199.49 L373.75,198.89 L374.52,198.48 L375.29,198.30 L376.06,198.37 L376.83,198.63 L377.60,199.02 L378.37,199.49 L379.14,200.01 L379.91,200.60 L380.68,201.26 L381.45,201.97 L382.22,202.71 L382.99,203.45 L383.76,204.15 L384.53,204.83 L385.30,205.49 L386.07,206.14 L386.84,206.79 L387.61,207.45 L388.38,208.14 L389.15,208.87 L389.92,209.64 L390.69,210.42 L391.46,211.15 L392.23,211.77 L393.00,212.25 L393.77,212.59 L394.54,212.84 L395.31,213.03 L396.08,213.19 L396.85,213.32 L397.62,213.44 L398.39,213.54 L399.16,213.65 L399.93,213.77 L400.70,213.90 L401.47,214.06 L402.24,214.25 L403.01,214.50 L403.78,214.82 L404.55,215.25 L405.32,215.80 L406.09,216.48 L406.86,217.33 L407.63,218.37 L408.40,219.61 L409.17,220.95 L409.94,222.30 L410.71,223.62 L411.48,224.85 L412.25,225.94 L413.02,226.87 L413.79,227.63 L414.56,228.20 L415.33,228.61 L416.10,228.90 L416.87,229.17 L417.64,229.48 L418.41,229.84 L419.18,230.29 L419.95,230.86 L420.72,231.57 L421.49,232.44 L422.26,233.44 L423.03,234.57 L423.80,235.82 L424.57,237.16 L425.34,238.59 L426.11,240.11 L426.88,241.63 L427.65,243.03 L428.42,244.18 L429.19,245.01 L429.96,245.59 L430.73,245.96 L431.50,246.09 L432.27,245.96 L433.04,245.58 L433.81,245.00 L434.58,244.32 L435.35,243.58 L436.12,242.81 L436.89,242.00 L437.66,241.12 L438.43,240.19 L439.20,239.21 L439.97,238.21 L440.74,237.18 L441.51,236.12 L442.28,235.03 L443.05,233.90 L443.82,232.74 L444.59,231.55 L445.36,230.34 L446.13,229.08 L446.90,227.76 L447.67,226.39 L448.44,225.03 L449.21,223.80 L449.98,222.76 L450.75,221.91 L451.52,221.19 L452.29,220.60 L453.06,220.17 L453.83,219.94 L454.60,219.97 L455.37,220.23 L456.14,220.70 L456.91,221.30 L457.68,221.97 L458.45,222.69 L459.22,223.47 L459.99,224.32 L460.76,225.22 L461.53,226.15 L462.30,227.08 L463.07,228.01 L463.84,228.95 L464.61,229.88 L465.38,230.79 L466.15,231.67 L466.92,232.51 L467.69,233.33 L468.46,234.13 L469.23,234.90 L470.00,235.64 L470.77,236.38 L471.54,237.11 L472.31,237.86 L473.08,238.61 L473.85,239.27 L474.62,239.76 L475.39,240.01 L476.16,240.05 L476.93,239.93 L477.70,239.66 L478.47,239.18 L479.24,238.39 L480.01,237.28 L480.78,235.96 L481.55,234.55 L482.32,233.10 L483.09,231.63 L483.86,230.11 L484.63,228.54 L485.40,226.95 L486.17,225.34 L486.94,223.71 L487.71,222.08 L488.48,220.49 L489.25,219.05 L490.02,217.80 L490.79,216.72 L491.56,215.78 L492.33,214.93 L493.10,214.16 L493.87,213.47 L494.64,212.85 L495.41,212.30 L496.18,211.81 L496.95,211.37 L497.72,210.97 L498.49,210.61 L499.26,210.25 L500.03,209.91 L500.80,209.55 L501.57,209.18 L502.34,208.79 L503.11,208.39 L503.88,208.01 L504.65,207.67 L505.42,207.38 L506.19,207.17 L506.96,207.04 L507.73,206.98 L508.50,206.97" fill="none" stroke="#2626ff" stroke-width="1.08" stroke-linejoin="round"/>
<path d="M354.50,218.17 L354.88,217.81 L355.27,217.34 L355.65,216.85 L356.04,216.38 L356.43,215.94 L356.81,215.54 L357.19,215.18 L357.58,214.86 L357.96,214.59 L358.35,214.35 L358.74,214.14 L359.12,213.95 L359.50,213.78 L359.89,213.64 L360.27,213.54 L360.66,213.47 L361.05,213.42 L361.43,213.39 L361.81,213.36 L362.20,213.35 L362.58,213.33 L362.97,213.31 L363.36,213.29 L363.74,213.27 L364.12,213.24 L364.51,213.20 L364.89,213.16 L365.28,213.11 L365.67,213.05 L366.05,212.98 L366.44,212.90 L366.82,212.81 L367.20,212.71 L367.59,212.60 L367.98,212.47 L368.36,212.31 L368.75,212.10 L369.13,211.85 L369.51,211.54 L369.90,211.20 L370.29,210.82 L370.67,210.42 L371.06,209.97 L371.44,209.48 L371.82,208.92 L372.21,208.33 L372.60,207.74 L372.98,207.17 L373.37,206.64 L373.75,206.14 L374.13,205.66 L374.52,205.23 L374.90,204.89 L375.29,204.68 L375.68,204.62 L376.06,204.71 L376.44,204.93 L376.83,205.24 L377.21,205.61 L377.60,206.00 L377.99,206.44 L378.37,206.92 L378.75,207.43 L379.14,207.93 L379.52,208.38 L379.91,208.74 L380.30,209.03 L380.68,209.25 L381.06,209.42 L381.45,209.58 L381.83,209.71 L382.22,209.84 L382.61,209.95 L382.99,210.05 L383.38,210.14 L383.76,210.23 L384.14,210.35 L384.53,210.51 L384.92,210.76 L385.30,211.10 L385.69,211.51 L386.07,211.98 L386.45,212.49 L386.84,213.04 L387.23,213.62 L387.61,214.22 L388.00,214.83 L388.38,215.44 L388.76,216.06 L389.15,216.69 L389.54,217.31 L389.92,217.93 L390.31,218.52 L390.69,219.09 L391.07,219.64 L391.46,220.16 L391.85,220.68 L392.23,221.21 L392.62,221.78 L393.00,222.43 L393.38,223.17 L393.77,224.01 L394.15,224.94 L394.54,225.90 L394.93,226.83 L395.31,227.68 L395.69,228.40 L396.08,228.96 L396.47,229.38 L396.85,229.69 L397.24,229.95 L397.62,230.18 L398.00,230.40 L398.39,230.62 L398.77,230.81 L399.16,230.96 L399.55,231.07 L399.93,231.15 L400.31,231.21 L400.70,231.26 L401.08,231.29 L401.47,231.31 L401.86,231.32 L402.24,231.32 L402.62,231.31 L403.01,231.27 L403.39,231.19 L403.78,231.02 L404.17,230.79 L404.55,230.51 L404.94,230.20 L405.32,229.88 L405.70,229.55 L406.09,229.20 L406.48,228.85 L406.86,228.49 L407.25,228.14 L407.63,227.81 L408.01,227.53 L408.40,227.34 L408.78,227.28 L409.17,227.34 L409.56,227.50 L409.94,227.74 L410.32,228.05 L410.71,228.46 L411.10,229.00 L411.48,229.63 L411.87,230.31 L412.25,230.97 L412.63,231.60 L413.02,232.20 L413.40,232.78 L413.79,233.34 L414.18,233.89 L414.56,234.42 L414.94,234.94 L415.33,235.41 L415.72,235.75 L416.10,235.93 L416.49,235.94 L416.87,235.83 L417.25,235.66 L417.64,235.51 L418.02,235.46 L418.41,235.55 L418.80,235.81 L419.18,236.20 L419.56,236.72 L419.95,237.36 L420.33,238.14 L420.72,239.06 L421.11,240.08 L421.49,241.17 L421.88,242.29 L422.26,243.44 L422.64,244.60 L423.03,245.74 L423.42,246.82 L423.80,247.86 L424.19,248.84 L424.57,249.78 L424.95,250.68 L425.34,251.55 L425.73,252.38 L426.11,253.18 L426.50,253.96 L426.88,254.70 L427.26,255.42 L427.65,256.13 L428.04,256.84 L428.42,257.49 L428.81,258.02 L429.19,258.32 L429.57,258.33 L429.96,258.09 L430.35,257.65 L430.73,257.10 L431.12,256.51 L431.50,255.90 L431.88,255.29 L432.27,254.65 L432.66,254.03 L433.04,253.44 L433.43,252.94 L433.81,252.52 L434.19,252.19 L434.58,251.92 L434.96,251.68 L435.35,251.44 L435.74,251.20 L436.12,250.92 L436.50,250.61 L436.89,250.27 L437.27,249.89 L437.66,249.50 L438.05,249.10 L438.43,248.70 L438.81,248.31 L439.20,247.93 L439.58,247.57 L439.97,247.20 L440.36,246.83 L440.74,246.43 L441.12,246.00 L441.51,245.52 L441.89,244.97 L442.28,244.37 L442.67,243.72 L443.05,243.04 L443.44,242.37 L443.82,241.70 L444.20,241.05 L444.59,240.41 L444.98,239.81 L445.36,239.29 L445.75,238.86 L446.13,238.53 L446.51,238.26 L446.90,238.04 L447.29,237.85 L447.67,237.72 L448.06,237.63 L448.44,237.60 L448.82,237.60 L449.21,237.64 L449.60,237.69 L449.98,237.75 L450.37,237.82 L450.75,237.88 L451.13,237.94 L451.52,238.00 L451.91,238.07 L452.29,238.13 L452.68,238.18 L453.06,238.21 L453.44,238.21 L453.83,238.16 L454.21,238.06 L454.60,237.91 L454.99,237.75 L455.37,237.60 L455.75,237.51 L456.14,237.52 L456.52,237.64 L456.91,237.90 L457.30,238.23 L457.68,238.59 L458.06,238.90 L458.45,239.09 L458.83,239.15 L459.22,239.06 L459.61,238.86 L459.99,238.58 L460.38,238.27 L460.76,237.97 L461.14,237.68 L461.53,237.43 L461.92,237.20 L462.30,236.98 L462.69,236.80 L463.07,236.67 L463.45,236.65 L463.84,236.74 L464.23,236.96 L464.61,237.24 L465.00,237.52 L465.38,237.70 L465.76,237.74 L466.15,237.63 L466.54,237.44 L466.92,237.28 L467.31,237.22 L467.69,237.35 L468.07,237.69 L468.46,238.24 L468.85,238.96 L469.23,239.84 L469.62,240.82 L470.00,241.89 L470.38,243.01 L470.77,244.14 L471.16,245.26 L471.54,246.33 L471.93,247.38 L472.31,248.41 L472.69,249.46 L473.08,250.52 L473.46,251.58 L473.85,252.61 L474.24,253.58 L474.62,254.50 L475.00,255.38 L475.39,256.20 L475.77,256.95 L476.16,257.60 L476.55,258.14 L476.93,258.58 L477.31,258.92 L477.70,259.18 L478.08,259.33 L478.47,259.31 L478.86,259.13 L479.24,258.78 L479.62,258.30 L480.01,257.68 L480.39,256.88 L480.78,255.87 L481.17,254.69 L481.55,253.40 L481.94,252.10 L482.32,250.84 L482.71,249.62 L483.09,248.44 L483.48,247.26 L483.86,246.10 L484.25,244.96 L484.63,243.82 L485.01,242.69 L485.40,241.55 L485.78,240.40 L486.17,239.29 L486.56,238.25 L486.94,237.33 L487.33,236.57 L487.71,235.97 L488.10,235.49 L488.48,235.09 L488.87,234.73 L489.25,234.39 L489.63,234.01 L490.02,233.60 L490.40,233.14 L490.79,232.62 L491.18,232.02 L491.56,231.29 L491.95,230.35 L492.33,229.18 L492.72,227.83 L493.10,226.47 L493.49,225.21 L493.87,224.10 L494.25,223.14 L494.64,222.38 L495.02,221.88 L495.41,221.62 L495.79,221.53 L496.18,221.51 L496.56,221.51 L496.95,221.55 L497.34,221.63 L497.72,221.79 L498.11,222.02 L498.49,222.31 L498.88,222.63 L499.26,222.96 L499.64,223.30 L500.03,223.65 L500.41,224.02 L500.80,224.40 L501.19,224.80 L501.57,225.21 L501.96,225.61 L502.34,226.02 L502.73,226.45 L503.11,226.88 L503.50,227.30 L503.88,227.69 L504.26,228.02 L504.65,228.30 L505.03,228.53 L505.42,228.72 L505.81,228.89 L506.19,229.03 L506.58,229.13 L506.96,229.18 L507.35,229.13 L507.73,228.94 L508.12,228.66 L508.50,228.39" fill="none" stroke="#ff2c20" stroke-width="1.0" stroke-linejoin="round"/>
<line x1="486.50" y1="170.8" x2="486.50" y2="287.2" stroke="#ffb6b6" stroke-width="1" stroke-dasharray="3.7,1.8" shape-rendering="crispEdges"/>
</g>
<rect x="354.5" y="170.4" width="154.0" height="116.79999999999998" fill="none" stroke="#8a8a8a" stroke-width="0.5"/>
<path d="M354.50,287.2v-1.9M354.50,170.4v1.9 M369.90,287.2v-1.9M369.90,170.4v1.9 M385.30,287.2v-1.9M385.30,170.4v1.9 M400.70,287.2v-1.9M400.70,170.4v1.9 M416.10,287.2v-1.9M416.10,170.4v1.9 M431.50,287.2v-1.9M431.50,170.4v1.9 M446.90,287.2v-1.9M446.90,170.4v1.9 M462.30,287.2v-1.9M462.30,170.4v1.9 M477.70,287.2v-1.9M477.70,170.4v1.9 M493.10,287.2v-1.9M493.10,170.4v1.9 M508.50,287.2v-1.9M508.50,170.4v1.9 M354.5,275.73h1.9M508.5,275.73h-1.9 M354.5,261.65h1.9M508.5,261.65h-1.9 M354.5,247.57h1.9M508.5,247.57h-1.9 M354.5,233.50h1.9M508.5,233.50h-1.9 M354.5,219.43h1.9M508.5,219.43h-1.9 M354.5,205.35h1.9M508.5,205.35h-1.9 M354.5,191.28h1.9M508.5,191.28h-1.9 M354.5,177.20h1.9M508.5,177.20h-1.9" stroke="#666" stroke-width="0.5" fill="none"/>
<text class="tk" x="354.50" y="292.3" text-anchor="middle">0</text>
<text class="tk" x="369.90" y="292.3" text-anchor="middle">0.1</text>
<text class="tk" x="385.30" y="292.3" text-anchor="middle">0.2</text>
<text class="tk" x="400.70" y="292.3" text-anchor="middle">0.3</text>
<text class="tk" x="416.10" y="292.3" text-anchor="middle">0.4</text>
<text class="tk" x="431.50" y="292.3" text-anchor="middle">0.5</text>
<text class="tk" x="446.90" y="292.3" text-anchor="middle">0.6</text>
<text class="tk" x="462.30" y="292.3" text-anchor="middle">0.7</text>
<text class="tk" x="477.70" y="292.3" text-anchor="middle">0.8</text>
<text class="tk" x="493.10" y="292.3" text-anchor="middle">0.9</text>
<text class="tk" x="508.50" y="292.3" text-anchor="middle">1</text>
<text class="tk" x="352.3" y="277.03" text-anchor="end">-1.5</text>
<text class="tk" x="352.3" y="262.95" text-anchor="end">-1</text>
<text class="tk" x="352.3" y="248.88" text-anchor="end">-0.5</text>
<text class="tk" x="352.3" y="234.80" text-anchor="end">0</text>
<text class="tk" x="352.3" y="220.73" text-anchor="end">0.5</text>
<text class="tk" x="352.3" y="206.65" text-anchor="end">1</text>
<text class="tk" x="352.3" y="192.58" text-anchor="end">1.5</text>
<text class="tk" x="352.3" y="178.50" text-anchor="end">2</text>
<text x="431.2" y="299.4" font-size="7.2" font-style="italic" text-anchor="middle" fill="#222">x</text>
<text transform="translate(432.5,165.5) scale(1.13,1)" font-size="9.9" text-anchor="middle" fill="#1c1c1c" stroke="#1c1c1c" stroke-width="0.12" letter-spacing="0.38"><tspan font-style="italic" font-size="10.2">μ</tspan><tspan font-size="6.2" dy="1.7">5</tspan><tspan dy="-1.7"> (SMC) J=10</tspan><tspan font-size="6.4" dy="-4.1">5</tspan></text>
<rect x="358.6" y="234.29999999999995" width="48.5" height="49.3" fill="#fff" stroke="#8c8c8c" stroke-width="0.55"/><line x1="360.5" y1="239.80" x2="370.7" y2="239.80" stroke="#ff4a4a" stroke-width="0.7"/><text transform="translate(372.1,242.20) scale(1.12,1)" font-size="8.0" fill="#3a3a3a" letter-spacing="0.12">u<tspan font-size="4.40" dy="-2.88">†</tspan><tspan dy="2.88"> (truth)</tspan></text><line x1="360.5" y1="249.40" x2="370.7" y2="249.40" stroke="#a8a8ff" stroke-width="1.5"/><text transform="translate(372.1,251.80) scale(1.12,1)" font-size="8.0" fill="#3a3a3a" letter-spacing="0.12"><tspan font-style="italic">P</tspan><tspan font-size="5.60" dy="1.60" dx="-0.3" letter-spacing="0">02</tspan></text><line x1="360.5" y1="259.00" x2="370.7" y2="259.00" stroke="#4646ff" stroke-width="0.8"/><text transform="translate(372.1,261.40) scale(1.12,1)" font-size="8.0" fill="#3a3a3a" letter-spacing="0.12"><tspan font-style="italic">P</tspan><tspan font-size="5.60" dy="1.60" dx="-0.3" letter-spacing="0">98</tspan></text><rect x="360.5" y="264.90" width="10.2" height="7.4" fill="#00ff00"/><text transform="translate(372.1,271.00) scale(1.12,1)" font-size="8.0" fill="#3a3a3a" letter-spacing="0.12"><tspan font-style="italic">P</tspan><tspan font-size="5.60" dy="1.60" dx="-0.3" letter-spacing="0">25</tspan><tspan dy="-1.60"> − </tspan><tspan font-style="italic">P</tspan><tspan font-size="5.60" dy="1.60" dx="-0.3" letter-spacing="0">75</tspan></text><line x1="360.5" y1="278.20" x2="370.7" y2="278.20" stroke="#444" stroke-width="0.7" stroke-dasharray="4.2,1.6"/><text transform="translate(372.1,280.60) scale(1.12,1)" font-size="8.0" fill="#3a3a3a" letter-spacing="0.12"><tspan font-style="italic">P</tspan><tspan font-size="5.60" dy="1.60" dx="-0.3" letter-spacing="0">50</tspan></text>
</svg></body></html>
